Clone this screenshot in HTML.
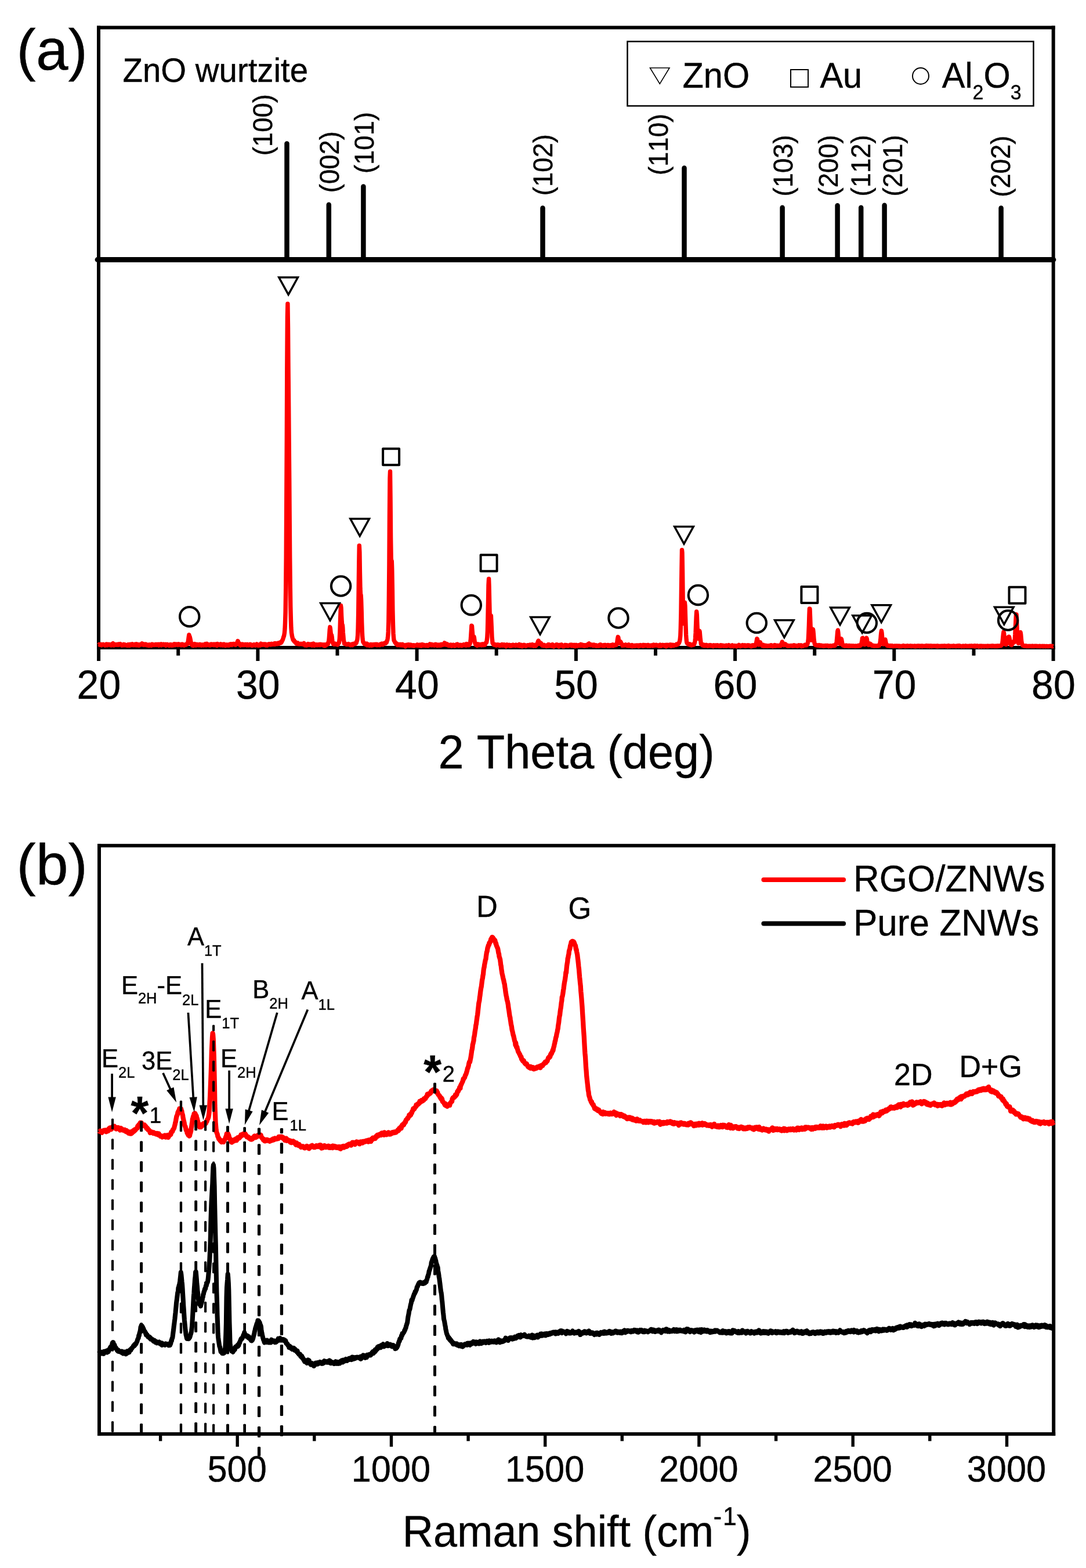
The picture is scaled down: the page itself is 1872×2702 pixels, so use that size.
<!DOCTYPE html>
<html lang="en"><head><meta charset="utf-8"><title>XRD pattern and Raman spectra of RGO/ZNWs</title>
<style>html,body{margin:0;padding:0;background:#fff}body{width:1872px;height:2702px;overflow:hidden}svg{display:block}text{font-family:'Liberation Sans', sans-serif;fill:#000;stroke:#000;stroke-width:.4px;font-kerning:none;text-rendering:geometricPrecision}</style></head><body>
<svg width="1872" height="2702" viewBox="0 0 1872 2702" role="img" aria-label="XRD pattern (a) and Raman spectra (b)">
<rect width="1872" height="2702" fill="#fff"/>
<g id="panel-a">
<rect x="167.1" y="1116" width="6" height="23" fill="#000"/>
<rect x="304.2" y="1116" width="6" height="13.7" fill="#000"/>
<rect x="441.4" y="1116" width="6" height="23" fill="#000"/>
<rect x="578.5" y="1116" width="6" height="13.7" fill="#000"/>
<rect x="715.6" y="1116" width="6" height="23" fill="#000"/>
<rect x="852.7" y="1116" width="6" height="13.7" fill="#000"/>
<rect x="989.9" y="1116" width="6" height="23" fill="#000"/>
<rect x="1127" y="1116" width="6" height="13.7" fill="#000"/>
<rect x="1264.1" y="1116" width="6" height="23" fill="#000"/>
<rect x="1401.2" y="1116" width="6" height="13.7" fill="#000"/>
<rect x="1538.3" y="1116" width="6" height="23" fill="#000"/>
<rect x="1675.5" y="1116" width="6" height="13.7" fill="#000"/>
<rect x="1812.6" y="1116" width="6" height="23" fill="#000"/>
<rect x="167" y="44.5" width="1651.7" height="6" fill="#000"/>
<rect x="167" y="1113" width="1651.7" height="6" fill="#000"/>
<rect x="167" y="44.5" width="6" height="1074.5" fill="#000"/>
<rect x="1812.7" y="44.5" width="6" height="1074.5" fill="#000"/>
<line x1="168" y1="447.5" x2="1816" y2="447.5" stroke="#000" stroke-width="8.8" stroke-linecap="round"/>
<line x1="494.5" y1="247.4" x2="494.5" y2="447.5" stroke="#000" stroke-width="8.5" stroke-linecap="round"/>
<line x1="566.8" y1="352.7" x2="566.8" y2="447.5" stroke="#000" stroke-width="8.5" stroke-linecap="round"/>
<line x1="626.4" y1="321.4" x2="626.4" y2="447.5" stroke="#000" stroke-width="8.5" stroke-linecap="round"/>
<line x1="935.5" y1="358.5" x2="935.5" y2="447.5" stroke="#000" stroke-width="8.5" stroke-linecap="round"/>
<line x1="1179.5" y1="289.5" x2="1179.5" y2="447.5" stroke="#000" stroke-width="8.5" stroke-linecap="round"/>
<line x1="1348.6" y1="357.7" x2="1348.6" y2="447.5" stroke="#000" stroke-width="8.5" stroke-linecap="round"/>
<line x1="1443.6" y1="354.2" x2="1443.6" y2="447.5" stroke="#000" stroke-width="8.5" stroke-linecap="round"/>
<line x1="1484.2" y1="357.7" x2="1484.2" y2="447.5" stroke="#000" stroke-width="8.5" stroke-linecap="round"/>
<line x1="1524.6" y1="353.7" x2="1524.6" y2="447.5" stroke="#000" stroke-width="8.5" stroke-linecap="round"/>
<line x1="1725.6" y1="358.5" x2="1725.6" y2="447.5" stroke="#000" stroke-width="8.5" stroke-linecap="round"/>
<text font-size="45.5" transform="translate(469 268.3) rotate(-90) scale(1 1.03)">(100)</text>
<text font-size="45.5" transform="translate(584.2 332.2) rotate(-90) scale(1 1.03)">(002)</text>
<text font-size="45.5" transform="translate(644.4 299.1) rotate(-90) scale(1 1.03)">(101)</text>
<text font-size="45.5" transform="translate(952.1 337.2) rotate(-90) scale(1 1.03)">(102)</text>
<text font-size="45.5" transform="translate(1150.9 302.1) rotate(-90) scale(1 1.03)">(110)</text>
<text font-size="45.5" transform="translate(1365.9 338.5) rotate(-90) scale(1 1.03)">(103)</text>
<text font-size="45.5" transform="translate(1444.4 338.5) rotate(-90) scale(1 1.03)">(200)</text>
<text font-size="45.5" transform="translate(1500 338.5) rotate(-90) scale(1 1.03)">(112)</text>
<text font-size="45.5" transform="translate(1555.1 338.5) rotate(-90) scale(1 1.03)">(201)</text>
<text font-size="45.5" transform="translate(1741.4 339.7) rotate(-90) scale(1 1.03)">(202)</text>
<text transform="translate(211.5 141) scale(1 1.03)" font-size="56.4">ZnO wurtzite</text>
<rect x="1081.5" y="71.5" width="700" height="111" fill="#fff" stroke="#000" stroke-width="2.5"/>
<path d="M1120.5 117 H1154 L1137.3 144.5 Z" fill="none" stroke="#000" stroke-width="1.6"/>
<text transform="translate(1176.5 151) scale(1 1.03)" font-size="59.5">ZnO</text>
<rect x="1363" y="120" width="30" height="30" fill="none" stroke="#000" stroke-width="2"/>
<text transform="translate(1413.4 151) scale(1 1.03)" font-size="59.5">Au</text>
<circle cx="1587" cy="131" r="14" fill="none" stroke="#000" stroke-width="2"/>
<text transform="translate(1623.7 151) scale(1 1.03)" font-size="59.5">Al<tspan font-size="34" dy="19.5">2</tspan><tspan dy="-19.5">O</tspan><tspan font-size="34" dy="19.5">3</tspan></text>
<text transform="translate(170.4 1204) scale(1 1.03)" font-size="68" text-anchor="middle">20</text>
<text transform="translate(444.7 1204) scale(1 1.03)" font-size="68" text-anchor="middle">30</text>
<text transform="translate(718.9 1204) scale(1 1.03)" font-size="68" text-anchor="middle">40</text>
<text transform="translate(993.1 1204) scale(1 1.03)" font-size="68" text-anchor="middle">50</text>
<text transform="translate(1267.4 1204) scale(1 1.03)" font-size="68" text-anchor="middle">60</text>
<text transform="translate(1541.6 1204) scale(1 1.03)" font-size="68" text-anchor="middle">70</text>
<text transform="translate(1815.9 1204) scale(1 1.03)" font-size="68" text-anchor="middle">80</text>
<text transform="translate(993.6 1324) scale(1 1.03)" font-size="79.3" text-anchor="middle">2 Theta (deg)</text>
<text transform="translate(28.6 120) scale(1 0.995)" font-size="100">(a)</text>
<polyline points="170.1,1111.6 170.6,1111.4 171.2,1110.4 171.7,1111.1 172.3,1111.2 172.8,1110.5 173.4,1110.7 173.9,1110.4 174.5,1111.4 175.0,1111.8 175.6,1111.2 176.1,1111.3 176.7,1111.0 177.2,1110.5 177.8,1110.3 178.3,1110.5 178.9,1110.9 179.4,1110.9 180.0,1111.6 180.5,1111.5 181.1,1112.1 181.6,1111.8 182.2,1111.2 182.7,1111.3 183.3,1110.0 183.8,1111.6 184.4,1110.1 184.9,1110.2 185.5,1111.7 186.0,1110.2 186.6,1110.5 187.1,1110.8 187.7,1110.3 188.2,1110.5 188.7,1110.5 189.3,1110.9 189.8,1110.8 190.4,1111.7 190.9,1111.3 191.5,1111.8 192.0,1112.0 192.6,1110.1 193.1,1110.7 193.7,1110.6 194.2,1109.2 194.8,1108.7 195.3,1111.2 195.9,1111.0 196.4,1112.0 197.0,1111.5 197.5,1111.5 198.1,1111.2 198.6,1111.3 199.2,1110.5 199.7,1110.6 200.3,1111.2 200.8,1110.6 201.4,1111.2 201.9,1111.1 202.5,1110.8 203.0,1110.3 203.6,1111.3 204.1,1110.4 204.7,1111.2 205.2,1110.0 205.8,1110.8 206.3,1110.6 206.8,1110.0 207.4,1109.6 207.9,1110.8 208.5,1111.2 209.0,1111.0 209.6,1111.1 210.1,1112.2 210.7,1111.6 211.2,1111.2 211.8,1111.8 212.3,1111.1 212.9,1110.5 213.4,1111.4 214.0,1110.8 214.5,1111.7 215.1,1110.7 215.6,1111.1 216.2,1111.6 216.7,1111.2 217.3,1111.5 217.8,1111.8 218.4,1112.2 218.9,1111.8 219.5,1111.8 220.0,1111.2 220.6,1112.3 221.1,1110.6 221.7,1111.6 222.2,1110.8 222.8,1111.9 223.3,1112.3 223.9,1110.5 224.4,1112.0 224.9,1110.3 225.5,1110.4 226.0,1111.1 226.6,1110.3 227.1,1111.6 227.7,1111.5 228.2,1109.8 228.8,1110.7 229.3,1111.1 229.9,1111.6 230.4,1110.6 231.0,1110.9 231.5,1111.7 232.1,1110.6 232.6,1111.2 233.2,1110.1 233.7,1111.5 234.3,1111.8 234.8,1110.4 235.4,1109.8 235.9,1110.1 236.5,1111.7 237.0,1110.8 237.6,1111.8 238.1,1110.5 238.7,1110.8 239.2,1111.4 239.8,1112.1 240.3,1111.3 240.9,1110.6 241.4,1111.2 242.0,1110.9 242.5,1111.1 243.1,1110.5 243.6,1110.1 244.1,1110.4 244.7,1108.8 245.2,1110.5 245.8,1111.1 246.3,1110.9 246.9,1110.2 247.4,1109.9 248.0,1111.5 248.5,1110.2 249.1,1110.3 249.6,1110.7 250.2,1110.2 250.7,1110.6 251.3,1111.4 251.8,1110.2 252.4,1111.6 252.9,1110.9 253.5,1111.1 254.0,1111.9 254.6,1112.1 255.1,1112.2 255.7,1111.8 256.2,1111.1 256.8,1112.5 257.3,1111.4 257.9,1110.9 258.4,1111.9 259.0,1111.7 259.5,1111.3 260.1,1111.3 260.6,1111.6 261.2,1112.3 261.7,1110.9 262.2,1110.0 262.8,1110.3 263.3,1111.1 263.9,1110.8 264.4,1110.7 265.0,1111.6 265.5,1111.6 266.1,1111.1 266.6,1111.4 267.2,1110.8 267.7,1110.7 268.3,1110.9 268.8,1110.4 269.4,1111.5 269.9,1111.3 270.5,1111.0 271.0,1111.0 271.6,1110.8 272.1,1110.3 272.7,1110.6 273.2,1110.7 273.8,1112.1 274.3,1110.3 274.9,1111.1 275.4,1111.5 276.0,1110.2 276.5,1110.3 277.1,1110.3 277.6,1110.0 278.2,1111.9 278.7,1111.0 279.3,1110.4 279.8,1110.5 280.3,1110.8 280.9,1110.4 281.4,1110.1 282.0,1111.1 282.5,1110.6 283.1,1111.0 283.6,1111.3 284.2,1110.6 284.7,1110.9 285.3,1110.4 285.8,1112.4 286.4,1110.8 286.9,1111.5 287.5,1110.5 288.0,1110.2 288.6,1110.8 289.1,1110.8 289.7,1110.9 290.2,1111.3 290.8,1112.0 291.3,1112.5 291.9,1112.4 292.4,1111.0 293.0,1112.0 293.5,1111.9 294.1,1110.6 294.6,1110.7 295.2,1111.0 295.7,1112.3 296.3,1111.0 296.8,1111.0 297.4,1112.1 297.9,1111.3 298.4,1111.4 299.0,1111.9 299.5,1111.5 300.1,1109.8 300.6,1110.2 301.2,1111.3 301.7,1109.9 302.3,1111.6 302.8,1111.0 303.4,1111.3 303.9,1111.3 304.5,1110.0 305.0,1110.6 305.6,1110.3 306.1,1110.9 306.7,1111.5 307.2,1110.6 307.8,1110.9 308.3,1109.8 308.9,1110.9 309.4,1111.0 310.0,1111.0 310.5,1111.3 311.1,1111.7 311.6,1111.0 312.2,1111.5 312.7,1110.4 313.3,1111.6 313.8,1111.1 314.4,1110.1 314.9,1111.4 315.5,1110.8 316.0,1111.6 316.5,1111.2 317.1,1111.0 317.6,1112.1 318.2,1111.1 318.7,1111.1 319.3,1111.2 319.8,1111.1 320.4,1110.4 320.9,1111.1 321.5,1110.6 322.0,1109.7 322.6,1108.7 323.1,1109.7 323.7,1108.4 324.2,1105.4 324.8,1101.4 325.3,1097.5 325.9,1094.0 326.4,1095.6 327.0,1097.0 327.5,1098.7 328.1,1101.5 328.6,1104.1 329.2,1107.3 329.7,1110.0 330.3,1110.2 330.8,1111.0 331.4,1112.0 331.9,1112.2 332.5,1111.5 333.0,1111.1 333.6,1112.6 334.1,1110.5 334.6,1109.9 335.2,1109.6 335.7,1111.5 336.3,1110.1 336.8,1111.0 337.4,1111.2 337.9,1112.0 338.5,1110.2 339.0,1110.8 339.6,1110.7 340.1,1111.4 340.7,1110.7 341.2,1111.2 341.8,1111.0 342.3,1111.9 342.9,1111.9 343.4,1111.2 344.0,1111.7 344.5,1110.3 345.1,1111.3 345.6,1110.7 346.2,1110.8 346.7,1111.5 347.3,1112.2 347.8,1111.0 348.4,1110.9 348.9,1110.9 349.5,1111.7 350.0,1111.2 350.6,1111.9 351.1,1112.1 351.7,1111.3 352.2,1110.6 352.8,1111.2 353.3,1110.3 353.8,1109.7 354.4,1111.5 354.9,1112.0 355.5,1111.8 356.0,1111.0 356.6,1109.2 357.1,1110.5 357.7,1111.0 358.2,1110.3 358.8,1111.5 359.3,1110.5 359.9,1111.6 360.4,1111.8 361.0,1112.0 361.5,1111.2 362.1,1112.0 362.6,1112.0 363.2,1111.1 363.7,1110.1 364.3,1110.4 364.8,1110.1 365.4,1110.8 365.9,1111.3 366.5,1111.1 367.0,1111.4 367.6,1111.2 368.1,1111.5 368.7,1110.1 369.2,1111.1 369.8,1111.5 370.3,1110.7 370.9,1111.4 371.4,1110.1 371.9,1110.8 372.5,1110.5 373.0,1111.0 373.6,1111.0 374.1,1112.5 374.7,1109.4 375.2,1110.3 375.8,1110.6 376.3,1111.0 376.9,1110.8 377.4,1111.0 378.0,1110.6 378.5,1110.6 379.1,1110.7 379.6,1111.7 380.2,1109.8 380.7,1111.8 381.3,1110.9 381.8,1110.5 382.4,1111.5 382.9,1111.8 383.5,1110.6 384.0,1110.3 384.6,1112.1 385.1,1110.4 385.7,1111.4 386.2,1111.4 386.8,1110.2 387.3,1111.9 387.9,1112.1 388.4,1112.6 389.0,1111.8 389.5,1111.8 390.0,1111.5 390.6,1111.0 391.1,1112.0 391.7,1111.6 392.2,1112.0 392.8,1111.4 393.3,1112.0 393.9,1110.8 394.4,1111.1 395.0,1112.1 395.5,1111.2 396.1,1110.8 396.6,1111.0 397.2,1110.0 397.7,1111.2 398.3,1111.3 398.8,1110.7 399.4,1109.9 399.9,1111.4 400.5,1110.6 401.0,1109.9 401.6,1110.3 402.1,1109.7 402.7,1109.5 403.2,1109.4 403.8,1110.0 404.3,1110.9 404.9,1111.1 405.4,1110.7 406.0,1111.4 406.5,1111.2 407.1,1110.0 407.6,1109.6 408.1,1109.1 408.7,1107.7 409.2,1106.5 409.8,1104.6 410.3,1104.9 410.9,1108.2 411.4,1107.6 412.0,1109.1 412.5,1109.3 413.1,1109.2 413.6,1111.4 414.2,1111.2 414.7,1112.0 415.3,1111.5 415.8,1110.3 416.4,1110.5 416.9,1111.0 417.5,1110.1 418.0,1110.8 418.6,1111.6 419.1,1110.3 419.7,1111.0 420.2,1111.2 420.8,1111.5 421.3,1110.8 421.9,1110.5 422.4,1111.3 423.0,1110.5 423.5,1111.0 424.1,1111.2 424.6,1111.1 425.2,1111.9 425.7,1112.0 426.2,1110.4 426.8,1111.4 427.3,1111.1 427.9,1111.0 428.4,1111.2 429.0,1111.8 429.5,1111.0 430.1,1110.9 430.6,1110.5 431.2,1111.2 431.7,1111.2 432.3,1110.6 432.8,1111.1 433.4,1111.7 433.9,1112.3 434.5,1111.3 435.0,1112.5 435.6,1111.7 436.1,1111.5 436.7,1111.3 437.2,1111.0 437.8,1110.6 438.3,1111.1 438.9,1111.3 439.4,1111.4 440.0,1112.2 440.5,1112.3 441.1,1111.4 441.6,1111.8 442.2,1110.9 442.7,1110.0 443.3,1111.0 443.8,1111.3 444.3,1112.0 444.9,1112.5 445.4,1111.1 446.0,1111.7 446.5,1111.6 447.1,1111.0 447.6,1111.5 448.2,1111.4 448.7,1112.2 449.3,1110.4 449.8,1109.2 450.4,1110.4 450.9,1110.8 451.5,1111.1 452.0,1110.4 452.6,1111.1 453.1,1110.1 453.7,1110.8 454.2,1109.9 454.8,1109.9 455.3,1111.3 455.9,1110.1 456.4,1110.1 457.0,1111.5 457.5,1111.3 458.1,1110.0 458.6,1112.1 459.2,1110.5 459.7,1110.8 460.3,1111.0 460.8,1112.2 461.4,1110.7 461.9,1111.1 462.5,1110.3 463.0,1110.8 463.5,1109.8 464.1,1110.7 464.6,1110.3 465.2,1109.9 465.7,1110.6 466.3,1111.0 466.8,1110.7 467.4,1110.1 467.9,1110.5 468.5,1109.3 469.0,1110.3 469.6,1110.6 470.1,1110.4 470.7,1110.3 471.2,1110.5 471.8,1109.9 472.3,1109.9 472.9,1110.3 473.4,1108.6 474.0,1110.4 474.5,1109.9 475.1,1109.6 475.6,1108.7 476.2,1109.0 476.7,1109.0 477.3,1109.8 477.8,1109.6 478.4,1109.8 478.9,1109.2 479.5,1108.1 480.0,1108.7 480.6,1108.9 481.1,1109.1 481.6,1107.6 482.2,1108.0 482.7,1107.8 483.3,1107.0 483.8,1106.8 484.4,1107.8 484.9,1105.8 485.5,1106.4 486.0,1104.8 486.6,1103.4 487.1,1103.1 487.7,1101.2 488.2,1100.0 488.8,1097.2 489.3,1096.9 489.9,1093.7 490.4,1090.8 491.0,1084.2 491.5,1073.7 492.1,1054.6 492.6,1020.6 493.2,961.3 493.7,872.0 494.3,758.6 494.8,635.9 495.4,545.8 495.9,523.5 496.5,563.8 497.0,629.9 497.6,693.9 498.1,755.7 498.7,823.5 499.2,895.0 499.7,959.3 500.3,1009.7 500.8,1045.4 501.4,1067.9 501.9,1081.8 502.5,1090.2 503.0,1093.5 503.6,1096.8 504.1,1098.7 504.7,1100.9 505.2,1102.8 505.8,1103.0 506.3,1104.1 506.9,1103.3 507.4,1105.2 508.0,1106.1 508.5,1106.0 509.1,1106.0 509.6,1107.6 510.2,1107.7 510.7,1109.1 511.3,1107.9 511.8,1108.3 512.4,1108.3 512.9,1108.8 513.5,1107.8 514.0,1109.8 514.6,1109.6 515.1,1109.3 515.7,1109.4 516.2,1110.1 516.8,1110.1 517.3,1109.7 517.8,1109.7 518.4,1109.8 518.9,1109.3 519.5,1109.5 520.0,1109.8 520.6,1110.1 521.1,1109.7 521.7,1109.8 522.2,1110.4 522.8,1110.6 523.3,1110.3 523.9,1108.4 524.4,1109.8 525.0,1111.0 525.5,1111.8 526.1,1111.5 526.6,1110.8 527.2,1110.7 527.7,1110.8 528.3,1112.1 528.8,1111.4 529.4,1110.7 529.9,1111.7 530.5,1111.5 531.0,1109.6 531.6,1110.1 532.1,1111.0 532.7,1111.2 533.2,1110.2 533.8,1111.0 534.3,1111.4 534.9,1111.0 535.4,1110.2 535.9,1110.6 536.5,1111.0 537.0,1110.8 537.6,1110.0 538.1,1112.2 538.7,1111.1 539.2,1110.1 539.8,1110.6 540.3,1109.0 540.9,1110.3 541.4,1110.8 542.0,1112.3 542.5,1111.1 543.1,1111.2 543.6,1111.5 544.2,1111.2 544.7,1110.6 545.3,1111.5 545.8,1110.9 546.4,1111.7 546.9,1111.8 547.5,1110.7 548.0,1110.9 548.6,1110.8 549.1,1110.8 549.7,1111.3 550.2,1110.8 550.8,1110.4 551.3,1111.7 551.9,1111.6 552.4,1110.9 553.0,1110.3 553.5,1110.7 554.0,1110.8 554.6,1110.8 555.1,1110.7 555.7,1111.4 556.2,1111.5 556.8,1111.7 557.3,1111.0 557.9,1111.8 558.4,1112.7 559.0,1111.5 559.5,1111.0 560.1,1112.9 560.6,1111.7 561.2,1111.3 561.7,1112.1 562.3,1110.7 562.8,1110.5 563.4,1111.0 563.9,1109.9 564.5,1109.2 565.0,1110.0 565.6,1109.3 566.1,1106.7 566.7,1104.6 567.2,1100.3 567.8,1092.2 568.3,1084.7 568.9,1080.6 569.4,1083.4 570.0,1089.1 570.5,1093.1 571.1,1094.8 571.6,1094.3 572.2,1097.8 572.7,1103.0 573.2,1106.7 573.8,1108.0 574.3,1109.5 574.9,1109.4 575.4,1109.5 576.0,1110.4 576.5,1110.2 577.1,1109.8 577.6,1109.2 578.2,1110.0 578.7,1110.2 579.3,1110.4 579.8,1110.6 580.4,1110.4 580.9,1110.7 581.5,1110.5 582.0,1111.0 582.6,1110.3 583.1,1108.9 583.7,1107.7 584.2,1107.8 584.8,1104.7 585.3,1100.6 585.9,1088.6 586.4,1073.2 587.0,1055.9 587.5,1043.4 588.1,1047.6 588.6,1060.7 589.2,1071.2 589.7,1076.5 590.3,1076.7 590.8,1080.9 591.3,1090.0 591.9,1096.7 592.4,1103.1 593.0,1105.8 593.5,1109.0 594.1,1108.5 594.6,1109.0 595.2,1109.5 595.7,1109.7 596.3,1109.6 596.8,1110.5 597.4,1110.4 597.9,1110.7 598.5,1110.1 599.0,1110.1 599.6,1110.3 600.1,1110.3 600.7,1109.7 601.2,1110.2 601.8,1110.2 602.3,1111.2 602.9,1111.2 603.4,1111.3 604.0,1111.6 604.5,1110.5 605.1,1111.5 605.6,1110.7 606.2,1110.3 606.7,1110.8 607.3,1110.0 607.8,1111.6 608.4,1110.6 608.9,1109.4 609.4,1109.3 610.0,1109.5 610.5,1109.4 611.1,1109.9 611.6,1109.9 612.2,1109.6 612.7,1108.9 613.3,1107.7 613.8,1108.4 614.4,1107.7 614.9,1104.9 615.5,1104.1 616.0,1101.4 616.6,1095.1 617.1,1082.6 617.7,1056.1 618.2,1015.4 618.8,968.6 619.3,940.1 619.9,951.5 620.4,985.3 621.0,1013.5 621.5,1023.9 622.1,1025.4 622.6,1033.6 623.2,1052.6 623.7,1072.8 624.3,1088.7 624.8,1098.2 625.4,1103.2 625.9,1106.4 626.5,1106.6 627.0,1108.0 627.5,1107.6 628.1,1109.6 628.6,1109.7 629.2,1110.2 629.7,1110.1 630.3,1110.3 630.8,1109.8 631.4,1110.7 631.9,1111.3 632.5,1109.0 633.0,1111.9 633.6,1110.7 634.1,1111.5 634.7,1110.7 635.2,1111.1 635.8,1111.8 636.3,1111.2 636.9,1112.4 637.4,1111.3 638.0,1111.6 638.5,1110.6 639.1,1110.5 639.6,1110.5 640.2,1111.2 640.7,1112.3 641.3,1111.7 641.8,1111.0 642.4,1111.3 642.9,1110.7 643.5,1111.6 644.0,1111.3 644.6,1110.4 645.1,1110.5 645.6,1111.0 646.2,1110.7 646.7,1110.3 647.3,1111.2 647.8,1111.0 648.4,1110.3 648.9,1110.7 649.5,1111.7 650.0,1110.2 650.6,1111.6 651.1,1111.1 651.7,1111.5 652.2,1111.2 652.8,1111.2 653.3,1111.1 653.9,1111.3 654.4,1111.7 655.0,1111.5 655.5,1110.1 656.1,1110.8 656.6,1111.0 657.2,1110.6 657.7,1110.2 658.3,1109.1 658.8,1110.4 659.4,1110.4 659.9,1110.9 660.5,1109.5 661.0,1109.7 661.6,1109.4 662.1,1109.3 662.7,1108.3 663.2,1108.9 663.7,1108.5 664.3,1108.0 664.8,1108.6 665.4,1106.9 665.9,1106.5 666.5,1106.6 667.0,1104.3 667.6,1103.5 668.1,1100.8 668.7,1096.6 669.2,1088.9 669.8,1072.0 670.3,1035.7 670.9,974.2 671.4,892.9 672.0,824.1 672.5,812.4 673.1,863.4 673.6,926.1 674.2,962.2 674.7,968.9 675.3,966.6 675.8,982.0 676.4,1015.8 676.9,1052.3 677.5,1076.8 678.0,1091.5 678.6,1098.7 679.1,1103.6 679.7,1104.6 680.2,1104.9 680.8,1107.1 681.3,1107.0 681.9,1108.5 682.4,1108.7 682.9,1109.8 683.5,1109.4 684.0,1109.0 684.6,1110.3 685.1,1111.6 685.7,1110.2 686.2,1111.5 686.8,1111.3 687.3,1111.5 687.9,1110.5 688.4,1110.5 689.0,1111.7 689.5,1110.8 690.1,1110.3 690.6,1111.9 691.2,1111.8 691.7,1111.5 692.3,1110.6 692.8,1111.2 693.4,1112.2 693.9,1110.3 694.5,1110.7 695.0,1111.2 695.6,1112.2 696.1,1111.7 696.7,1111.9 697.2,1111.9 697.8,1112.0 698.3,1112.7 698.9,1114.1 699.4,1112.1 700.0,1112.4 700.5,1111.3 701.0,1112.5 701.6,1111.6 702.1,1111.5 702.7,1111.0 703.2,1110.7 703.8,1110.9 704.3,1110.8 704.9,1110.7 705.4,1112.6 706.0,1112.0 706.5,1112.6 707.1,1112.4 707.6,1111.2 708.2,1111.8 708.7,1111.2 709.3,1111.4 709.8,1112.2 710.4,1112.7 710.9,1112.8 711.5,1112.6 712.0,1111.9 712.6,1111.7 713.1,1112.3 713.7,1113.1 714.2,1112.7 714.8,1112.0 715.3,1112.2 715.9,1112.4 716.4,1112.3 717.0,1112.3 717.5,1112.2 718.1,1111.8 718.6,1111.5 719.1,1110.9 719.7,1112.6 720.2,1112.5 720.8,1111.6 721.3,1112.0 721.9,1111.5 722.4,1111.3 723.0,1112.5 723.5,1111.2 724.1,1112.8 724.6,1111.3 725.2,1111.0 725.7,1111.6 726.3,1113.1 726.8,1111.7 727.4,1112.2 727.9,1110.5 728.5,1112.2 729.0,1110.9 729.6,1111.5 730.1,1112.2 730.7,1111.4 731.2,1112.1 731.8,1111.7 732.3,1111.7 732.9,1112.1 733.4,1112.7 734.0,1112.3 734.5,1112.5 735.1,1112.1 735.6,1111.6 736.2,1112.6 736.7,1112.3 737.2,1112.6 737.8,1112.9 738.3,1112.5 738.9,1111.3 739.4,1111.8 740.0,1111.6 740.5,1111.2 741.1,1109.9 741.6,1110.8 742.2,1111.2 742.7,1111.7 743.3,1111.0 743.8,1110.3 744.4,1111.9 744.9,1111.0 745.5,1110.8 746.0,1111.6 746.6,1111.9 747.1,1111.7 747.7,1111.5 748.2,1111.5 748.8,1112.2 749.3,1111.4 749.9,1111.7 750.4,1110.3 751.0,1111.2 751.5,1111.5 752.1,1111.6 752.6,1110.7 753.2,1111.5 753.7,1112.7 754.3,1112.0 754.8,1111.5 755.3,1111.3 755.9,1111.1 756.4,1112.1 757.0,1111.5 757.5,1111.6 758.1,1112.3 758.6,1112.4 759.2,1112.1 759.7,1110.6 760.3,1111.0 760.8,1111.9 761.4,1110.3 761.9,1111.6 762.5,1110.7 763.0,1111.2 763.6,1110.4 764.1,1110.0 764.7,1110.0 765.2,1111.0 765.8,1109.2 766.3,1107.9 766.9,1109.1 767.4,1108.4 768.0,1110.1 768.5,1111.0 769.1,1111.3 769.6,1111.4 770.2,1111.1 770.7,1109.7 771.3,1111.6 771.8,1111.7 772.4,1112.0 772.9,1112.5 773.4,1112.4 774.0,1111.5 774.5,1111.9 775.1,1112.4 775.6,1111.5 776.2,1111.5 776.7,1111.1 777.3,1112.4 777.8,1111.1 778.4,1113.2 778.9,1112.8 779.5,1111.9 780.0,1112.6 780.6,1111.5 781.1,1111.2 781.7,1112.3 782.2,1111.3 782.8,1112.2 783.3,1112.0 783.9,1113.0 784.4,1112.1 785.0,1112.6 785.5,1112.0 786.1,1111.0 786.6,1110.8 787.2,1110.3 787.7,1111.6 788.3,1110.0 788.8,1111.4 789.4,1110.7 789.9,1111.9 790.5,1112.7 791.0,1111.6 791.6,1111.5 792.1,1111.6 792.6,1112.2 793.2,1111.3 793.7,1112.2 794.3,1112.0 794.8,1111.4 795.4,1111.5 795.9,1112.8 796.5,1112.5 797.0,1112.3 797.6,1111.7 798.1,1111.9 798.7,1111.2 799.2,1110.7 799.8,1111.4 800.3,1111.3 800.9,1111.0 801.4,1111.0 802.0,1111.9 802.5,1111.4 803.1,1110.5 803.6,1112.2 804.2,1109.6 804.7,1110.7 805.3,1110.0 805.8,1111.2 806.4,1111.1 806.9,1111.7 807.5,1111.0 808.0,1110.4 808.6,1111.6 809.1,1110.5 809.7,1109.9 810.2,1108.8 810.7,1106.1 811.3,1102.1 811.8,1095.4 812.4,1085.9 812.9,1078.1 813.5,1078.5 814.0,1085.4 814.6,1092.4 815.1,1098.5 815.7,1098.7 816.2,1096.1 816.8,1096.9 817.3,1098.3 817.9,1103.0 818.4,1106.9 819.0,1108.6 819.5,1110.0 820.1,1111.2 820.6,1109.8 821.2,1109.6 821.7,1110.8 822.3,1110.8 822.8,1112.4 823.4,1111.8 823.9,1111.6 824.5,1111.2 825.0,1110.1 825.6,1110.4 826.1,1111.2 826.7,1111.7 827.2,1111.4 827.8,1111.5 828.3,1111.6 828.8,1110.6 829.4,1110.8 829.9,1110.6 830.5,1111.9 831.0,1110.0 831.6,1111.5 832.1,1111.6 832.7,1109.9 833.2,1110.7 833.8,1111.5 834.3,1110.2 834.9,1110.4 835.4,1110.6 836.0,1111.1 836.5,1110.0 837.1,1108.5 837.6,1107.4 838.2,1106.6 838.7,1106.7 839.3,1102.9 839.8,1098.2 840.4,1087.1 840.9,1065.2 841.5,1036.6 842.0,1008.1 842.6,997.4 843.1,1011.1 843.7,1039.0 844.2,1060.4 844.8,1069.0 845.3,1065.2 845.9,1060.4 846.4,1060.8 846.9,1071.9 847.5,1085.0 848.0,1097.6 848.6,1103.3 849.1,1108.3 849.7,1108.5 850.2,1109.5 850.8,1110.9 851.3,1110.0 851.9,1110.6 852.4,1111.3 853.0,1110.6 853.5,1110.5 854.1,1110.9 854.6,1111.9 855.2,1111.8 855.7,1112.4 856.3,1111.4 856.8,1111.3 857.4,1110.9 857.9,1111.3 858.5,1111.1 859.0,1111.4 859.6,1110.9 860.1,1111.1 860.7,1111.5 861.2,1112.6 861.8,1112.0 862.3,1111.8 862.9,1112.6 863.4,1112.6 864.0,1111.6 864.5,1111.5 865.0,1110.5 865.6,1110.5 866.1,1111.4 866.7,1112.3 867.2,1112.5 867.8,1111.9 868.3,1111.2 868.9,1111.9 869.4,1110.9 870.0,1111.8 870.5,1111.3 871.1,1112.2 871.6,1113.2 872.2,1113.8 872.7,1112.6 873.3,1112.4 873.8,1110.8 874.4,1111.0 874.9,1112.1 875.5,1112.0 876.0,1112.0 876.6,1111.8 877.1,1112.4 877.7,1111.2 878.2,1111.2 878.8,1113.3 879.3,1111.5 879.9,1112.7 880.4,1112.3 881.0,1113.2 881.5,1111.8 882.1,1111.7 882.6,1111.7 883.1,1112.4 883.7,1111.3 884.2,1111.0 884.8,1111.8 885.3,1111.6 885.9,1112.2 886.4,1111.8 887.0,1111.7 887.5,1112.3 888.1,1112.3 888.6,1112.7 889.2,1112.2 889.7,1111.2 890.3,1112.2 890.8,1112.1 891.4,1111.9 891.9,1112.2 892.5,1111.7 893.0,1112.5 893.6,1111.6 894.1,1112.7 894.7,1111.2 895.2,1110.4 895.8,1111.1 896.3,1113.3 896.9,1111.5 897.4,1111.7 898.0,1111.9 898.5,1111.5 899.1,1112.2 899.6,1112.5 900.2,1113.9 900.7,1113.3 901.3,1112.5 901.8,1112.7 902.3,1112.5 902.9,1111.3 903.4,1112.4 904.0,1111.3 904.5,1112.4 905.1,1112.3 905.6,1113.0 906.2,1113.4 906.7,1113.0 907.3,1112.4 907.8,1112.4 908.4,1112.6 908.9,1111.8 909.5,1111.7 910.0,1111.8 910.6,1111.6 911.1,1112.0 911.7,1111.6 912.2,1112.1 912.8,1111.8 913.3,1111.2 913.9,1112.4 914.4,1112.3 915.0,1111.3 915.5,1112.2 916.1,1112.0 916.6,1111.2 917.2,1112.5 917.7,1110.5 918.3,1111.7 918.8,1112.3 919.4,1111.4 919.9,1113.1 920.4,1111.7 921.0,1112.6 921.5,1111.6 922.1,1112.1 922.6,1111.6 923.2,1113.0 923.7,1111.8 924.3,1112.1 924.8,1111.6 925.4,1110.8 925.9,1109.6 926.5,1108.5 927.0,1106.7 927.6,1104.8 928.1,1104.1 928.7,1105.0 929.2,1107.4 929.8,1108.0 930.3,1109.5 930.9,1108.4 931.4,1108.7 932.0,1108.6 932.5,1108.2 933.1,1109.2 933.6,1111.4 934.2,1111.9 934.7,1112.5 935.3,1112.4 935.8,1111.9 936.4,1112.0 936.9,1112.0 937.5,1112.8 938.0,1111.3 938.5,1112.0 939.1,1112.6 939.6,1112.6 940.2,1112.5 940.7,1112.6 941.3,1113.4 941.8,1112.8 942.4,1112.1 942.9,1113.3 943.5,1112.5 944.0,1112.8 944.6,1111.5 945.1,1110.7 945.7,1112.2 946.2,1112.8 946.8,1110.7 947.3,1111.9 947.9,1112.8 948.4,1112.7 949.0,1112.7 949.5,1112.6 950.1,1112.1 950.6,1113.2 951.2,1113.0 951.7,1112.4 952.3,1110.6 952.8,1112.9 953.4,1112.3 953.9,1113.1 954.5,1114.2 955.0,1113.6 955.6,1112.4 956.1,1112.8 956.6,1112.7 957.2,1112.3 957.7,1112.7 958.3,1111.2 958.8,1110.8 959.4,1111.5 959.9,1112.1 960.5,1110.9 961.0,1112.5 961.6,1112.2 962.1,1113.3 962.7,1112.2 963.2,1114.2 963.8,1112.8 964.3,1112.3 964.9,1112.6 965.4,1111.4 966.0,1112.5 966.5,1112.0 967.1,1112.4 967.6,1112.0 968.2,1110.9 968.7,1111.3 969.3,1112.6 969.8,1112.5 970.4,1113.8 970.9,1112.7 971.5,1113.3 972.0,1112.8 972.6,1113.6 973.1,1112.6 973.7,1112.4 974.2,1111.5 974.7,1112.3 975.3,1112.6 975.8,1112.3 976.4,1112.7 976.9,1111.6 977.5,1112.0 978.0,1112.4 978.6,1112.2 979.1,1113.1 979.7,1112.9 980.2,1112.2 980.8,1112.0 981.3,1112.2 981.9,1111.6 982.4,1111.6 983.0,1111.2 983.5,1112.3 984.1,1112.1 984.6,1112.3 985.2,1112.8 985.7,1111.1 986.3,1112.5 986.8,1112.3 987.4,1112.7 987.9,1112.6 988.5,1112.6 989.0,1113.1 989.6,1111.3 990.1,1111.8 990.7,1113.2 991.2,1113.5 991.8,1112.3 992.3,1113.2 992.8,1112.7 993.4,1111.3 993.9,1111.6 994.5,1112.2 995.0,1112.0 995.6,1113.0 996.1,1112.3 996.7,1112.5 997.2,1111.8 997.8,1111.6 998.3,1111.9 998.9,1112.9 999.4,1112.9 1000.0,1111.3 1000.5,1111.6 1001.1,1110.4 1001.6,1112.5 1002.2,1111.1 1002.7,1112.3 1003.3,1112.5 1003.8,1111.0 1004.4,1111.3 1004.9,1112.3 1005.5,1112.8 1006.0,1111.9 1006.6,1111.7 1007.1,1112.5 1007.7,1113.1 1008.2,1111.7 1008.8,1111.7 1009.3,1112.7 1009.9,1112.2 1010.4,1111.7 1011.0,1112.1 1011.5,1112.4 1012.0,1112.6 1012.6,1112.1 1013.1,1111.5 1013.7,1109.8 1014.2,1110.1 1014.8,1109.3 1015.3,1108.9 1015.9,1109.5 1016.4,1110.5 1017.0,1111.7 1017.5,1111.3 1018.1,1110.8 1018.6,1111.7 1019.2,1110.9 1019.7,1111.0 1020.3,1111.5 1020.8,1111.3 1021.4,1111.7 1021.9,1111.3 1022.5,1112.6 1023.0,1111.0 1023.6,1112.4 1024.1,1111.0 1024.7,1111.4 1025.2,1111.7 1025.8,1112.6 1026.3,1112.4 1026.9,1112.2 1027.4,1111.9 1028.0,1113.2 1028.5,1112.7 1029.1,1113.0 1029.6,1112.7 1030.1,1112.5 1030.7,1112.9 1031.2,1112.6 1031.8,1113.0 1032.3,1112.6 1032.9,1111.7 1033.4,1112.9 1034.0,1112.5 1034.5,1112.3 1035.1,1110.8 1035.6,1111.9 1036.2,1112.2 1036.7,1111.5 1037.3,1112.0 1037.8,1112.5 1038.4,1112.7 1038.9,1112.5 1039.5,1113.1 1040.0,1112.9 1040.6,1112.5 1041.1,1111.6 1041.7,1111.9 1042.2,1112.9 1042.8,1112.3 1043.3,1111.4 1043.9,1112.0 1044.4,1111.9 1045.0,1112.1 1045.5,1112.1 1046.1,1112.2 1046.6,1111.8 1047.2,1111.5 1047.7,1112.1 1048.2,1113.2 1048.8,1111.7 1049.3,1112.9 1049.9,1111.8 1050.4,1112.1 1051.0,1113.1 1051.5,1112.6 1052.1,1112.7 1052.6,1111.9 1053.2,1112.4 1053.7,1112.7 1054.3,1111.5 1054.8,1112.4 1055.4,1112.0 1055.9,1112.2 1056.5,1110.9 1057.0,1112.9 1057.6,1112.1 1058.1,1112.4 1058.7,1111.9 1059.2,1111.3 1059.8,1111.2 1060.3,1111.1 1060.9,1111.5 1061.4,1111.7 1062.0,1111.1 1062.5,1111.3 1063.1,1109.9 1063.6,1108.3 1064.2,1103.6 1064.7,1100.4 1065.3,1097.6 1065.8,1098.3 1066.3,1101.6 1066.9,1105.3 1067.4,1107.5 1068.0,1108.6 1068.5,1107.8 1069.1,1106.8 1069.6,1105.6 1070.2,1106.8 1070.7,1107.9 1071.3,1109.7 1071.8,1110.0 1072.4,1110.8 1072.9,1112.5 1073.5,1112.0 1074.0,1111.0 1074.6,1112.4 1075.1,1112.4 1075.7,1112.1 1076.2,1112.1 1076.8,1111.6 1077.3,1111.6 1077.9,1111.3 1078.4,1110.9 1079.0,1111.3 1079.5,1111.3 1080.1,1112.4 1080.6,1112.7 1081.2,1112.1 1081.7,1111.8 1082.3,1112.1 1082.8,1111.7 1083.4,1112.9 1083.9,1110.8 1084.4,1111.2 1085.0,1111.9 1085.5,1112.7 1086.1,1112.9 1086.6,1112.2 1087.2,1112.3 1087.7,1112.1 1088.3,1112.5 1088.8,1113.5 1089.4,1111.6 1089.9,1113.8 1090.5,1113.2 1091.0,1112.4 1091.6,1112.7 1092.1,1112.4 1092.7,1112.7 1093.2,1112.9 1093.8,1113.3 1094.3,1112.4 1094.9,1113.0 1095.4,1112.2 1096.0,1112.2 1096.5,1112.8 1097.1,1112.2 1097.6,1112.7 1098.2,1112.8 1098.7,1112.7 1099.3,1112.1 1099.8,1112.9 1100.4,1112.6 1100.9,1113.6 1101.5,1112.0 1102.0,1113.0 1102.5,1112.3 1103.1,1112.1 1103.6,1112.9 1104.2,1111.7 1104.7,1112.2 1105.3,1112.1 1105.8,1111.9 1106.4,1112.4 1106.9,1112.2 1107.5,1112.2 1108.0,1113.1 1108.6,1112.4 1109.1,1111.3 1109.7,1113.1 1110.2,1112.2 1110.8,1112.3 1111.3,1112.6 1111.9,1111.6 1112.4,1112.3 1113.0,1112.1 1113.5,1111.9 1114.1,1111.8 1114.6,1112.1 1115.2,1112.8 1115.7,1112.8 1116.3,1112.6 1116.8,1113.1 1117.4,1111.4 1117.9,1112.5 1118.5,1112.7 1119.0,1112.6 1119.6,1113.0 1120.1,1112.3 1120.7,1113.0 1121.2,1112.3 1121.7,1112.6 1122.3,1112.2 1122.8,1112.0 1123.4,1112.5 1123.9,1112.6 1124.5,1112.0 1125.0,1112.9 1125.6,1112.4 1126.1,1112.5 1126.7,1111.1 1127.2,1112.3 1127.8,1111.3 1128.3,1112.5 1128.9,1111.7 1129.4,1111.8 1130.0,1112.0 1130.5,1111.4 1131.1,1112.0 1131.6,1111.4 1132.2,1111.9 1132.7,1112.4 1133.3,1112.6 1133.8,1112.7 1134.4,1112.1 1134.9,1112.0 1135.5,1112.8 1136.0,1113.3 1136.6,1112.0 1137.1,1112.9 1137.7,1112.2 1138.2,1111.1 1138.8,1112.5 1139.3,1113.3 1139.8,1112.8 1140.4,1112.9 1140.9,1112.5 1141.5,1111.5 1142.0,1111.2 1142.6,1111.9 1143.1,1112.1 1143.7,1111.6 1144.2,1111.6 1144.8,1112.4 1145.3,1112.8 1145.9,1111.5 1146.4,1111.9 1147.0,1112.3 1147.5,1112.3 1148.1,1111.4 1148.6,1113.9 1149.2,1112.9 1149.7,1112.6 1150.3,1111.4 1150.8,1112.3 1151.4,1111.5 1151.9,1112.3 1152.5,1112.2 1153.0,1112.2 1153.6,1112.5 1154.1,1112.0 1154.7,1112.2 1155.2,1110.8 1155.8,1112.1 1156.3,1111.8 1156.9,1113.3 1157.4,1112.4 1157.9,1111.2 1158.5,1112.8 1159.0,1111.6 1159.6,1111.3 1160.1,1111.8 1160.7,1112.4 1161.2,1112.6 1161.8,1111.5 1162.3,1111.8 1162.9,1111.9 1163.4,1111.6 1164.0,1111.5 1164.5,1111.4 1165.1,1111.1 1165.6,1111.4 1166.2,1110.0 1166.7,1111.0 1167.3,1110.7 1167.8,1110.8 1168.4,1109.7 1168.9,1109.5 1169.5,1109.4 1170.0,1108.6 1170.6,1107.7 1171.1,1106.4 1171.7,1104.5 1172.2,1101.3 1172.8,1095.3 1173.3,1082.2 1173.9,1057.7 1174.4,1020.1 1175.0,977.9 1175.5,947.6 1176.0,952.4 1176.6,987.2 1177.1,1029.4 1177.7,1059.8 1178.2,1074.5 1178.8,1074.0 1179.3,1062.5 1179.9,1047.7 1180.4,1038.1 1181.0,1044.4 1181.5,1061.7 1182.1,1079.7 1182.6,1093.7 1183.2,1102.2 1183.7,1106.6 1184.3,1108.3 1184.8,1108.7 1185.4,1109.4 1185.9,1109.6 1186.5,1110.4 1187.0,1109.7 1187.6,1109.6 1188.1,1109.7 1188.7,1110.9 1189.2,1110.6 1189.8,1110.1 1190.3,1111.7 1190.9,1111.6 1191.4,1111.8 1192.0,1112.0 1192.5,1111.7 1193.1,1111.5 1193.6,1111.3 1194.1,1110.9 1194.7,1110.3 1195.2,1110.3 1195.8,1111.1 1196.3,1110.8 1196.9,1109.5 1197.4,1107.7 1198.0,1105.6 1198.5,1100.0 1199.1,1090.5 1199.6,1076.7 1200.2,1061.9 1200.7,1054.0 1201.3,1059.1 1201.8,1072.9 1202.4,1087.0 1202.9,1096.0 1203.5,1100.5 1204.0,1099.2 1204.6,1094.8 1205.1,1089.5 1205.7,1087.0 1206.2,1088.7 1206.8,1096.0 1207.3,1101.3 1207.9,1105.5 1208.4,1109.6 1209.0,1109.5 1209.5,1110.6 1210.1,1110.7 1210.6,1111.9 1211.2,1110.4 1211.7,1111.8 1212.2,1111.1 1212.8,1112.5 1213.3,1112.8 1213.9,1112.2 1214.4,1111.4 1215.0,1112.2 1215.5,1112.6 1216.1,1111.8 1216.6,1111.5 1217.2,1112.3 1217.7,1111.3 1218.3,1111.9 1218.8,1112.3 1219.4,1112.6 1219.9,1113.2 1220.5,1112.7 1221.0,1112.2 1221.6,1111.9 1222.1,1112.4 1222.7,1112.6 1223.2,1112.8 1223.8,1112.5 1224.3,1111.5 1224.9,1112.3 1225.4,1111.9 1226.0,1112.9 1226.5,1112.4 1227.1,1112.4 1227.6,1112.3 1228.2,1112.9 1228.7,1112.4 1229.3,1113.6 1229.8,1112.8 1230.4,1111.8 1230.9,1112.2 1231.4,1112.8 1232.0,1112.8 1232.5,1112.7 1233.1,1112.5 1233.6,1111.9 1234.2,1112.0 1234.7,1112.9 1235.3,1112.2 1235.8,1112.4 1236.4,1112.7 1236.9,1111.8 1237.5,1111.9 1238.0,1113.0 1238.6,1112.6 1239.1,1112.6 1239.7,1113.1 1240.2,1112.5 1240.8,1112.5 1241.3,1112.7 1241.9,1111.9 1242.4,1113.3 1243.0,1112.7 1243.5,1112.2 1244.1,1112.9 1244.6,1112.1 1245.2,1112.3 1245.7,1112.3 1246.3,1112.9 1246.8,1112.7 1247.4,1113.1 1247.9,1112.5 1248.5,1112.7 1249.0,1112.7 1249.5,1112.8 1250.1,1113.0 1250.6,1112.9 1251.2,1112.5 1251.7,1112.2 1252.3,1113.2 1252.8,1112.5 1253.4,1113.0 1253.9,1112.5 1254.5,1112.3 1255.0,1112.1 1255.6,1112.3 1256.1,1111.7 1256.7,1112.2 1257.2,1112.7 1257.8,1112.8 1258.3,1113.1 1258.9,1112.7 1259.4,1112.8 1260.0,1113.6 1260.5,1112.9 1261.1,1112.6 1261.6,1112.7 1262.2,1111.9 1262.7,1112.3 1263.3,1112.8 1263.8,1112.8 1264.4,1113.7 1264.9,1113.3 1265.5,1113.3 1266.0,1112.5 1266.6,1112.7 1267.1,1112.7 1267.6,1112.9 1268.2,1112.9 1268.7,1112.8 1269.3,1113.1 1269.8,1113.9 1270.4,1113.1 1270.9,1112.7 1271.5,1113.1 1272.0,1112.9 1272.6,1112.2 1273.1,1112.5 1273.7,1111.3 1274.2,1112.3 1274.8,1112.2 1275.3,1113.4 1275.9,1112.9 1276.4,1113.6 1277.0,1112.8 1277.5,1112.5 1278.1,1112.3 1278.6,1111.9 1279.2,1112.1 1279.7,1112.7 1280.3,1111.7 1280.8,1112.4 1281.4,1112.8 1281.9,1112.5 1282.5,1112.7 1283.0,1112.8 1283.6,1112.9 1284.1,1111.9 1284.7,1113.3 1285.2,1112.8 1285.7,1112.5 1286.3,1112.6 1286.8,1112.7 1287.4,1113.0 1287.9,1112.1 1288.5,1111.9 1289.0,1111.8 1289.6,1112.7 1290.1,1112.1 1290.7,1112.5 1291.2,1112.0 1291.8,1112.5 1292.3,1112.4 1292.9,1112.4 1293.4,1113.2 1294.0,1112.9 1294.5,1112.6 1295.1,1113.8 1295.6,1112.4 1296.2,1112.1 1296.7,1111.9 1297.3,1113.1 1297.8,1112.5 1298.4,1112.4 1298.9,1112.4 1299.5,1111.9 1300.0,1112.2 1300.6,1112.7 1301.1,1112.3 1301.7,1112.6 1302.2,1112.1 1302.8,1111.1 1303.3,1109.7 1303.8,1106.6 1304.4,1103.5 1304.9,1100.7 1305.5,1101.5 1306.0,1104.2 1306.6,1107.4 1307.1,1109.9 1307.7,1111.0 1308.2,1111.0 1308.8,1110.5 1309.3,1109.4 1309.9,1108.4 1310.4,1106.8 1311.0,1108.2 1311.5,1109.6 1312.1,1110.7 1312.6,1111.2 1313.2,1111.8 1313.7,1112.4 1314.3,1113.0 1314.8,1112.6 1315.4,1111.8 1315.9,1111.3 1316.5,1112.5 1317.0,1113.3 1317.6,1112.0 1318.1,1112.5 1318.7,1112.9 1319.2,1113.0 1319.8,1113.2 1320.3,1112.3 1320.9,1112.9 1321.4,1112.7 1321.9,1113.3 1322.5,1113.1 1323.0,1113.4 1323.6,1112.6 1324.1,1112.7 1324.7,1112.9 1325.2,1113.0 1325.8,1112.8 1326.3,1112.6 1326.9,1112.9 1327.4,1112.4 1328.0,1113.1 1328.5,1112.3 1329.1,1111.9 1329.6,1112.5 1330.2,1112.1 1330.7,1113.0 1331.3,1112.8 1331.8,1113.7 1332.4,1113.3 1332.9,1112.8 1333.5,1113.3 1334.0,1112.9 1334.6,1113.0 1335.1,1111.6 1335.7,1112.6 1336.2,1112.5 1336.8,1113.1 1337.3,1112.2 1337.9,1112.7 1338.4,1112.5 1339.0,1112.2 1339.5,1112.4 1340.1,1112.8 1340.6,1112.5 1341.1,1112.6 1341.7,1112.7 1342.2,1112.8 1342.8,1112.8 1343.3,1112.7 1343.9,1112.2 1344.4,1112.7 1345.0,1112.6 1345.5,1112.8 1346.1,1111.2 1346.6,1111.1 1347.2,1109.0 1347.7,1108.2 1348.3,1106.1 1348.8,1107.2 1349.4,1107.9 1349.9,1109.6 1350.5,1110.9 1351.0,1111.8 1351.6,1111.5 1352.1,1111.6 1352.7,1110.7 1353.2,1110.9 1353.8,1109.8 1354.3,1111.0 1354.9,1111.6 1355.4,1111.4 1356.0,1112.4 1356.5,1112.4 1357.1,1113.1 1357.6,1112.7 1358.2,1113.2 1358.7,1112.5 1359.2,1112.6 1359.8,1112.6 1360.3,1113.0 1360.9,1113.0 1361.4,1112.7 1362.0,1112.6 1362.5,1112.8 1363.1,1112.6 1363.6,1112.5 1364.2,1112.5 1364.7,1112.7 1365.3,1112.8 1365.8,1113.2 1366.4,1113.0 1366.9,1112.3 1367.5,1112.7 1368.0,1112.2 1368.6,1112.8 1369.1,1111.9 1369.7,1112.7 1370.2,1112.3 1370.8,1112.5 1371.3,1112.5 1371.9,1112.4 1372.4,1112.9 1373.0,1112.9 1373.5,1113.1 1374.1,1113.1 1374.6,1113.4 1375.2,1113.0 1375.7,1112.3 1376.3,1112.7 1376.8,1111.9 1377.3,1112.1 1377.9,1112.3 1378.4,1112.0 1379.0,1112.1 1379.5,1112.5 1380.1,1111.9 1380.6,1111.9 1381.2,1112.0 1381.7,1113.6 1382.3,1112.7 1382.8,1112.9 1383.4,1113.0 1383.9,1113.3 1384.5,1112.7 1385.0,1112.6 1385.6,1112.7 1386.1,1112.3 1386.7,1111.8 1387.2,1111.3 1387.8,1111.7 1388.3,1111.4 1388.9,1111.9 1389.4,1111.3 1390.0,1111.3 1390.5,1111.7 1391.1,1110.4 1391.6,1110.5 1392.2,1108.7 1392.7,1106.1 1393.3,1101.4 1393.8,1091.9 1394.4,1077.2 1394.9,1060.9 1395.4,1048.9 1396.0,1049.1 1396.5,1061.8 1397.1,1078.1 1397.6,1091.9 1398.2,1100.3 1398.7,1103.2 1399.3,1102.3 1399.8,1098.2 1400.4,1091.2 1400.9,1085.9 1401.5,1084.4 1402.0,1088.3 1402.6,1095.2 1403.1,1102.4 1403.7,1106.5 1404.2,1109.3 1404.8,1110.6 1405.3,1111.4 1405.9,1111.7 1406.4,1111.9 1407.0,1111.6 1407.5,1111.7 1408.1,1112.1 1408.6,1112.2 1409.2,1112.0 1409.7,1112.3 1410.3,1112.1 1410.8,1112.4 1411.4,1112.3 1411.9,1111.6 1412.5,1112.5 1413.0,1112.8 1413.5,1112.5 1414.1,1112.5 1414.6,1112.1 1415.2,1112.6 1415.7,1112.2 1416.3,1112.1 1416.8,1112.9 1417.4,1113.1 1417.9,1112.7 1418.5,1112.8 1419.0,1112.7 1419.6,1113.4 1420.1,1113.0 1420.7,1112.8 1421.2,1112.8 1421.8,1112.9 1422.3,1113.1 1422.9,1112.5 1423.4,1112.4 1424.0,1112.9 1424.5,1112.8 1425.1,1112.4 1425.6,1112.7 1426.2,1112.5 1426.7,1112.4 1427.3,1112.7 1427.8,1112.9 1428.4,1113.6 1428.9,1113.3 1429.5,1113.4 1430.0,1112.9 1430.6,1113.0 1431.1,1112.7 1431.6,1112.6 1432.2,1113.1 1432.7,1113.5 1433.3,1113.0 1433.8,1112.9 1434.4,1112.8 1434.9,1112.8 1435.5,1112.4 1436.0,1112.3 1436.6,1112.4 1437.1,1112.7 1437.7,1112.4 1438.2,1111.9 1438.8,1112.6 1439.3,1112.3 1439.9,1111.7 1440.4,1111.4 1441.0,1110.0 1441.5,1109.2 1442.1,1106.2 1442.6,1101.4 1443.2,1094.7 1443.7,1088.2 1444.3,1085.9 1444.8,1089.4 1445.4,1096.1 1445.9,1102.3 1446.5,1106.8 1447.0,1108.2 1447.6,1109.4 1448.1,1108.6 1448.7,1106.2 1449.2,1103.8 1449.8,1101.4 1450.3,1101.0 1450.8,1103.0 1451.4,1106.5 1451.9,1109.2 1452.5,1111.2 1453.0,1112.1 1453.6,1112.5 1454.1,1112.2 1454.7,1112.5 1455.2,1112.5 1455.8,1113.2 1456.3,1112.4 1456.9,1112.3 1457.4,1112.4 1458.0,1113.0 1458.5,1112.5 1459.1,1112.8 1459.6,1112.4 1460.2,1113.0 1460.7,1112.5 1461.3,1113.0 1461.8,1113.3 1462.4,1112.9 1462.9,1112.6 1463.5,1113.3 1464.0,1112.5 1464.6,1112.7 1465.1,1113.3 1465.7,1113.4 1466.2,1113.0 1466.8,1112.7 1467.3,1112.7 1467.9,1112.8 1468.4,1112.9 1468.9,1113.2 1469.5,1113.0 1470.0,1113.0 1470.6,1112.7 1471.1,1113.1 1471.7,1113.3 1472.2,1113.4 1472.8,1113.2 1473.3,1113.1 1473.9,1113.4 1474.4,1113.5 1475.0,1112.9 1475.5,1112.9 1476.1,1113.1 1476.6,1113.2 1477.2,1113.4 1477.7,1113.0 1478.3,1113.3 1478.8,1112.6 1479.4,1112.3 1479.9,1112.8 1480.5,1113.0 1481.0,1112.6 1481.6,1112.9 1482.1,1112.9 1482.7,1112.6 1483.2,1112.3 1483.8,1112.0 1484.3,1110.7 1484.9,1108.9 1485.4,1106.4 1486.0,1103.1 1486.5,1099.6 1487.0,1099.4 1487.6,1101.4 1488.1,1104.5 1488.7,1107.7 1489.2,1109.5 1489.8,1110.9 1490.3,1110.9 1490.9,1110.7 1491.4,1107.8 1492.0,1105.5 1492.5,1102.6 1493.1,1100.3 1493.6,1099.3 1494.2,1100.6 1494.7,1103.9 1495.3,1106.8 1495.8,1109.3 1496.4,1110.9 1496.9,1111.5 1497.5,1111.1 1498.0,1111.2 1498.6,1111.0 1499.1,1110.1 1499.7,1109.1 1500.2,1109.4 1500.8,1109.9 1501.3,1111.0 1501.9,1111.9 1502.4,1112.1 1503.0,1112.7 1503.5,1112.6 1504.1,1112.7 1504.6,1112.9 1505.1,1112.3 1505.7,1112.4 1506.2,1112.6 1506.8,1113.3 1507.3,1113.2 1507.9,1113.1 1508.4,1113.0 1509.0,1112.7 1509.5,1113.1 1510.1,1112.9 1510.6,1112.9 1511.2,1113.0 1511.7,1112.8 1512.3,1113.0 1512.8,1112.6 1513.4,1113.0 1513.9,1112.7 1514.5,1112.2 1515.0,1112.2 1515.6,1112.4 1516.1,1110.8 1516.7,1109.6 1517.2,1106.7 1517.8,1102.1 1518.3,1095.7 1518.9,1090.1 1519.4,1087.0 1520.0,1090.1 1520.5,1096.0 1521.1,1102.0 1521.6,1106.6 1522.2,1109.0 1522.7,1110.1 1523.2,1110.0 1523.8,1108.1 1524.3,1106.3 1524.9,1103.2 1525.4,1102.4 1526.0,1102.1 1526.5,1104.7 1527.1,1107.6 1527.6,1109.6 1528.2,1110.8 1528.7,1112.0 1529.3,1112.0 1529.8,1112.7 1530.4,1112.1 1530.9,1112.7 1531.5,1112.7 1532.0,1112.8 1532.6,1113.0 1533.1,1112.8 1533.7,1112.9 1534.2,1113.2 1534.8,1112.6 1535.3,1112.9 1535.9,1113.0 1536.4,1113.1 1537.0,1113.2 1537.5,1112.6 1538.1,1113.1 1538.6,1113.2 1539.2,1113.5 1539.7,1113.5 1540.3,1113.1 1540.8,1113.1 1541.3,1112.9 1541.9,1113.0 1542.4,1112.9 1543.0,1113.3 1543.5,1113.1 1544.1,1113.2 1544.6,1112.9 1545.2,1113.0 1545.7,1113.3 1546.3,1113.0 1546.8,1113.3 1547.4,1113.4 1547.9,1113.0 1548.5,1113.3 1549.0,1113.1 1549.6,1113.8 1550.1,1113.5 1550.7,1113.7 1551.2,1113.3 1551.8,1113.1 1552.3,1113.4 1552.9,1113.7 1553.4,1113.8 1554.0,1113.5 1554.5,1113.2 1555.1,1113.2 1555.6,1113.2 1556.2,1112.7 1556.7,1113.1 1557.3,1112.6 1557.8,1112.9 1558.4,1113.1 1558.9,1113.1 1559.5,1113.2 1560.0,1113.6 1560.5,1113.2 1561.1,1113.3 1561.6,1113.2 1562.2,1113.4 1562.7,1113.5 1563.3,1113.2 1563.8,1112.8 1564.4,1113.4 1564.9,1113.5 1565.5,1113.1 1566.0,1113.3 1566.6,1113.4 1567.1,1113.2 1567.7,1113.4 1568.2,1113.4 1568.8,1113.2 1569.3,1112.8 1569.9,1113.3 1570.4,1113.7 1571.0,1113.6 1571.5,1113.1 1572.1,1112.9 1572.6,1113.4 1573.2,1113.3 1573.7,1113.4 1574.3,1113.5 1574.8,1113.1 1575.4,1113.1 1575.9,1113.0 1576.5,1113.4 1577.0,1113.2 1577.6,1113.8 1578.1,1113.4 1578.6,1113.8 1579.2,1113.3 1579.7,1113.5 1580.3,1113.2 1580.8,1113.5 1581.4,1113.1 1581.9,1113.6 1582.5,1113.4 1583.0,1112.8 1583.6,1112.9 1584.1,1113.3 1584.7,1113.2 1585.2,1113.7 1585.8,1113.0 1586.3,1113.2 1586.9,1113.2 1587.4,1113.2 1588.0,1113.5 1588.5,1113.2 1589.1,1112.9 1589.6,1113.8 1590.2,1113.6 1590.7,1113.1 1591.3,1113.2 1591.8,1113.1 1592.4,1113.2 1592.9,1113.4 1593.5,1113.2 1594.0,1113.2 1594.6,1113.1 1595.1,1113.2 1595.7,1113.2 1596.2,1113.3 1596.7,1112.6 1597.3,1113.0 1597.8,1113.3 1598.4,1113.6 1598.9,1113.5 1599.5,1112.8 1600.0,1112.8 1600.6,1113.3 1601.1,1113.2 1601.7,1113.2 1602.2,1113.7 1602.8,1113.0 1603.3,1113.5 1603.9,1113.2 1604.4,1113.1 1605.0,1112.8 1605.5,1113.0 1606.1,1113.6 1606.6,1113.2 1607.2,1113.3 1607.7,1113.2 1608.3,1113.0 1608.8,1113.2 1609.4,1113.2 1609.9,1113.1 1610.5,1113.1 1611.0,1113.0 1611.6,1113.3 1612.1,1113.2 1612.7,1113.5 1613.2,1113.2 1613.8,1113.1 1614.3,1113.0 1614.8,1113.7 1615.4,1114.0 1615.9,1113.4 1616.5,1112.9 1617.0,1113.6 1617.6,1113.3 1618.1,1113.5 1618.7,1113.4 1619.2,1113.5 1619.8,1113.3 1620.3,1113.3 1620.9,1113.5 1621.4,1113.2 1622.0,1113.5 1622.5,1113.1 1623.1,1113.2 1623.6,1113.0 1624.2,1113.4 1624.7,1113.1 1625.3,1113.2 1625.8,1113.6 1626.4,1113.4 1626.9,1113.1 1627.5,1112.8 1628.0,1113.0 1628.6,1113.2 1629.1,1113.3 1629.7,1113.1 1630.2,1113.5 1630.8,1113.0 1631.3,1113.4 1631.9,1113.2 1632.4,1113.5 1632.9,1113.2 1633.5,1113.8 1634.0,1113.2 1634.6,1113.2 1635.1,1112.6 1635.7,1112.9 1636.2,1113.5 1636.8,1113.2 1637.3,1113.6 1637.9,1113.2 1638.4,1113.5 1639.0,1113.2 1639.5,1113.3 1640.1,1113.3 1640.6,1113.3 1641.2,1113.1 1641.7,1113.1 1642.3,1113.5 1642.8,1113.4 1643.4,1113.4 1643.9,1112.9 1644.5,1113.3 1645.0,1113.2 1645.6,1113.1 1646.1,1113.3 1646.7,1113.5 1647.2,1113.2 1647.8,1113.2 1648.3,1113.3 1648.9,1113.2 1649.4,1113.5 1650.0,1113.2 1650.5,1112.8 1651.0,1112.9 1651.6,1113.1 1652.1,1113.2 1652.7,1113.5 1653.2,1112.7 1653.8,1113.3 1654.3,1113.4 1654.9,1113.0 1655.4,1113.4 1656.0,1113.2 1656.5,1113.4 1657.1,1113.4 1657.6,1113.8 1658.2,1113.6 1658.7,1113.6 1659.3,1113.2 1659.8,1113.4 1660.4,1113.1 1660.9,1113.4 1661.5,1113.5 1662.0,1113.7 1662.6,1113.3 1663.1,1113.3 1663.7,1113.2 1664.2,1112.9 1664.8,1113.5 1665.3,1113.3 1665.9,1113.6 1666.4,1113.5 1667.0,1113.1 1667.5,1113.2 1668.1,1113.5 1668.6,1113.5 1669.2,1113.5 1669.7,1113.4 1670.2,1113.6 1670.8,1113.2 1671.3,1113.4 1671.9,1113.1 1672.4,1113.5 1673.0,1113.3 1673.5,1113.4 1674.1,1113.2 1674.6,1112.7 1675.2,1113.1 1675.7,1113.3 1676.3,1113.3 1676.8,1113.4 1677.4,1113.4 1677.9,1113.1 1678.5,1113.4 1679.0,1113.0 1679.6,1113.6 1680.1,1113.0 1680.7,1113.5 1681.2,1112.9 1681.8,1113.5 1682.3,1113.7 1682.9,1113.4 1683.4,1113.5 1684.0,1113.5 1684.5,1112.7 1685.1,1112.9 1685.6,1113.4 1686.2,1113.3 1686.7,1113.5 1687.3,1114.1 1687.8,1113.8 1688.3,1113.5 1688.9,1113.1 1689.4,1113.3 1690.0,1113.3 1690.5,1113.3 1691.1,1113.8 1691.6,1113.1 1692.2,1113.8 1692.7,1113.4 1693.3,1113.6 1693.8,1113.3 1694.4,1113.2 1694.9,1113.2 1695.5,1113.3 1696.0,1113.4 1696.6,1113.9 1697.1,1113.7 1697.7,1113.4 1698.2,1113.2 1698.8,1113.5 1699.3,1113.6 1699.9,1113.2 1700.4,1113.6 1701.0,1113.8 1701.5,1113.4 1702.1,1113.1 1702.6,1113.5 1703.2,1113.7 1703.7,1113.3 1704.3,1113.3 1704.8,1113.5 1705.4,1113.4 1705.9,1113.1 1706.4,1113.1 1707.0,1113.1 1707.5,1113.2 1708.1,1113.5 1708.6,1113.1 1709.2,1113.4 1709.7,1113.3 1710.3,1112.9 1710.8,1113.5 1711.4,1113.3 1711.9,1113.0 1712.5,1112.9 1713.0,1113.4 1713.6,1113.6 1714.1,1113.4 1714.7,1113.3 1715.2,1113.5 1715.8,1113.3 1716.3,1113.3 1716.9,1113.5 1717.4,1113.1 1718.0,1113.5 1718.5,1113.3 1719.1,1113.5 1719.6,1112.9 1720.2,1113.4 1720.7,1113.2 1721.3,1113.3 1721.8,1112.9 1722.4,1112.8 1722.9,1113.1 1723.5,1112.9 1724.0,1112.8 1724.5,1112.8 1725.1,1112.8 1725.6,1112.2 1726.2,1112.1 1726.7,1111.5 1727.3,1110.6 1727.8,1107.9 1728.4,1103.2 1728.9,1097.4 1729.5,1092.0 1730.0,1089.0 1730.6,1091.0 1731.1,1095.8 1731.7,1102.1 1732.2,1106.3 1732.8,1109.3 1733.3,1110.5 1733.9,1110.8 1734.4,1110.5 1735.0,1110.0 1735.5,1107.3 1736.1,1105.5 1736.6,1102.5 1737.2,1099.8 1737.7,1098.9 1738.3,1098.0 1738.8,1097.1 1739.4,1097.2 1739.9,1099.1 1740.5,1102.3 1741.0,1105.6 1741.6,1108.6 1742.1,1110.3 1742.6,1111.2 1743.2,1111.4 1743.7,1111.6 1744.3,1110.7 1744.8,1109.9 1745.4,1108.4 1745.9,1107.0 1746.5,1106.0 1747.0,1105.9 1747.6,1106.3 1748.1,1107.0 1748.7,1105.4 1749.2,1101.7 1749.8,1093.7 1750.3,1082.7 1750.9,1069.0 1751.4,1058.7 1752.0,1058.8 1752.5,1068.5 1753.1,1082.2 1753.6,1094.0 1754.2,1102.2 1754.7,1106.5 1755.3,1108.5 1755.8,1108.6 1756.4,1107.4 1756.9,1105.0 1757.5,1100.5 1758.0,1094.9 1758.6,1090.2 1759.1,1089.7 1759.7,1093.1 1760.2,1098.9 1760.7,1104.4 1761.3,1107.9 1761.8,1110.0 1762.4,1111.3 1762.9,1112.3 1763.5,1112.3 1764.0,1112.6 1764.6,1112.6 1765.1,1113.2 1765.7,1112.8 1766.2,1113.0 1766.8,1113.2 1767.3,1113.2 1767.9,1113.2 1768.4,1112.8 1769.0,1113.2 1769.5,1113.5 1770.1,1113.2 1770.6,1113.5 1771.2,1113.4 1771.7,1113.5 1772.3,1113.2 1772.8,1113.4 1773.4,1113.5 1773.9,1113.6 1774.5,1113.2 1775.0,1113.2 1775.6,1113.4 1776.1,1113.3 1776.7,1113.4 1777.2,1113.6 1777.8,1113.2 1778.3,1113.6 1778.9,1113.4 1779.4,1113.3 1779.9,1113.0 1780.5,1113.5 1781.0,1113.6 1781.6,1113.5 1782.1,1113.5 1782.7,1113.5 1783.2,1113.2 1783.8,1113.4 1784.3,1113.2 1784.9,1113.2 1785.4,1113.2 1786.0,1113.2 1786.5,1113.4 1787.1,1113.5 1787.6,1113.3 1788.2,1113.6 1788.7,1113.5 1789.3,1113.6 1789.8,1113.6 1790.4,1113.4 1790.9,1113.5 1791.5,1113.3 1792.0,1113.3 1792.6,1113.3 1793.1,1113.7 1793.7,1113.5 1794.2,1113.4 1794.8,1113.5 1795.3,1113.4 1795.9,1113.5 1796.4,1113.5 1797.0,1113.3 1797.5,1113.5 1798.0,1113.7 1798.6,1113.7 1799.1,1113.5 1799.7,1113.6 1800.2,1113.3 1800.8,1113.6 1801.3,1113.7 1801.9,1113.6 1802.4,1113.8 1803.0,1113.4 1803.5,1113.5 1804.1,1113.5 1804.6,1113.5 1805.2,1113.6 1805.7,1113.7 1806.3,1113.7 1806.8,1113.8 1807.4,1113.6 1807.9,1113.6 1808.5,1113.6 1809.0,1113.4 1809.6,1113.5 1810.1,1113.1 1810.7,1113.2 1811.2,1113.4 1811.8,1113.4 1812.3,1113.6 1812.9,1113.5 1813.4,1113.8 1814.0,1113.3 1814.5,1113.8 1815.1,1113.5 1815.6,1113.5" fill="none" stroke="#f00" stroke-width="7.4" stroke-linejoin="round" stroke-linecap="butt"/>
<circle cx="326.7" cy="1062.7" r="16.7" fill="none" stroke="#000" stroke-width="4.1"/>
<circle cx="587.6" cy="1010" r="16.7" fill="none" stroke="#000" stroke-width="4.1"/>
<circle cx="812.3" cy="1042.7" r="16.7" fill="none" stroke="#000" stroke-width="4.1"/>
<circle cx="1066" cy="1065" r="16.7" fill="none" stroke="#000" stroke-width="4.1"/>
<circle cx="1203.4" cy="1025.4" r="16.7" fill="none" stroke="#000" stroke-width="4.1"/>
<circle cx="1304.3" cy="1073.5" r="16.7" fill="none" stroke="#000" stroke-width="4.1"/>
<circle cx="1494.3" cy="1073.5" r="16.7" fill="none" stroke="#000" stroke-width="4.1"/>
<circle cx="1737.6" cy="1069" r="16.7" fill="none" stroke="#000" stroke-width="4.1"/>
<path d="M480.8 478.1 h32.6 l-16.3 29.6 Z" fill="none" stroke="#000" stroke-width="3.5" stroke-linejoin="miter"/>
<path d="M552.7 1039.5 h32.6 l-16.3 29.6 Z" fill="none" stroke="#000" stroke-width="3.5" stroke-linejoin="miter"/>
<path d="M603.9 894.1 h32.6 l-16.3 29.6 Z" fill="none" stroke="#000" stroke-width="3.5" stroke-linejoin="miter"/>
<path d="M914.7 1063.5 h32.6 l-16.3 29.6 Z" fill="none" stroke="#000" stroke-width="3.5" stroke-linejoin="miter"/>
<path d="M1162.7 907.5 h32.6 l-16.3 29.6 Z" fill="none" stroke="#000" stroke-width="3.5" stroke-linejoin="miter"/>
<path d="M1335.6 1068.8 h32.6 l-16.3 29.6 Z" fill="none" stroke="#000" stroke-width="3.5" stroke-linejoin="miter"/>
<path d="M1431.7 1047 h32.6 l-16.3 29.6 Z" fill="none" stroke="#000" stroke-width="3.5" stroke-linejoin="miter"/>
<path d="M1469.9 1060.8 h32.6 l-16.3 29.6 Z" fill="none" stroke="#000" stroke-width="3.5" stroke-linejoin="miter"/>
<path d="M1502.9 1042.8 h32.6 l-16.3 29.6 Z" fill="none" stroke="#000" stroke-width="3.5" stroke-linejoin="miter"/>
<path d="M1714.5 1046.2 h32.6 l-16.3 29.6 Z" fill="none" stroke="#000" stroke-width="3.5" stroke-linejoin="miter"/>
<rect x="660.1" y="773.3" width="28" height="28" fill="none" stroke="#000" stroke-width="4" stroke-linejoin="round"/>
<rect x="828.6" y="956.3" width="28" height="28" fill="none" stroke="#000" stroke-width="4" stroke-linejoin="round"/>
<rect x="1381.4" y="1011.1" width="28" height="28" fill="none" stroke="#000" stroke-width="4" stroke-linejoin="round"/>
<rect x="1739.5" y="1011.7" width="28" height="28" fill="none" stroke="#000" stroke-width="4" stroke-linejoin="round"/>
</g>
<g id="panel-b">
<rect x="273.9" y="2471.1" width="5.4" height="12.2" fill="#000"/>
<rect x="406.5" y="2471.1" width="5.4" height="21.9" fill="#000"/>
<rect x="539.1" y="2471.1" width="5.4" height="12.2" fill="#000"/>
<rect x="671.8" y="2471.1" width="5.4" height="21.9" fill="#000"/>
<rect x="804.4" y="2471.1" width="5.4" height="12.2" fill="#000"/>
<rect x="937" y="2471.1" width="5.4" height="21.9" fill="#000"/>
<rect x="1069.6" y="2471.1" width="5.4" height="12.2" fill="#000"/>
<rect x="1202.2" y="2471.1" width="5.4" height="21.9" fill="#000"/>
<rect x="1334.9" y="2471.1" width="5.4" height="12.2" fill="#000"/>
<rect x="1467.5" y="2471.1" width="5.4" height="21.9" fill="#000"/>
<rect x="1600.1" y="2471.1" width="5.4" height="12.2" fill="#000"/>
<rect x="1732.8" y="2471.1" width="5.4" height="21.9" fill="#000"/>
<rect x="168" y="1454.2" width="1651.2" height="6" fill="#000"/>
<rect x="168" y="2468.1" width="1651.2" height="6" fill="#000"/>
<rect x="168" y="1454.2" width="6" height="1019.9" fill="#000"/>
<rect x="1813.2" y="1454.2" width="6" height="1019.9" fill="#000"/>
<text transform="translate(408.6 2553) scale(1 1.03)" font-size="61.3" text-anchor="middle">500</text>
<text transform="translate(673.9 2553) scale(1 1.03)" font-size="61.3" text-anchor="middle">1000</text>
<text transform="translate(939.1 2553) scale(1 1.03)" font-size="61.3" text-anchor="middle">1500</text>
<text transform="translate(1204.4 2553) scale(1 1.03)" font-size="61.3" text-anchor="middle">2000</text>
<text transform="translate(1469.6 2553) scale(1 1.03)" font-size="61.3" text-anchor="middle">2500</text>
<text transform="translate(1734.9 2553) scale(1 1.03)" font-size="61.3" text-anchor="middle">3000</text>
<text transform="translate(693.8 2665.3) scale(1 1.03)" font-size="73.7">Raman shift (cm<tspan font-size="43" dy="-36.5" dx="-0.5">-</tspan><tspan font-size="43" dx="2">1</tspan><tspan dy="36.5" dx="0">)</tspan></text>
<text transform="translate(28.6 1524.2) scale(1 0.995)" font-size="100">(b)</text>
<polyline points="171.0,2331.8 171.6,2330.4 172.1,2331.3 172.7,2332.7 173.2,2330.9 173.8,2331.9 174.3,2331.7 174.9,2331.5 175.4,2331.8 176.0,2329.8 176.5,2332.4 177.1,2331.0 177.6,2331.3 178.2,2329.7 178.7,2332.9 179.3,2331.2 179.8,2328.9 180.4,2330.1 180.9,2330.2 181.5,2329.4 182.0,2328.5 182.6,2328.1 183.1,2328.4 183.7,2329.3 184.2,2329.5 184.8,2330.4 185.3,2329.0 185.9,2326.9 186.4,2328.4 187.0,2329.1 187.5,2326.4 188.1,2326.8 188.6,2325.8 189.2,2323.4 189.7,2323.0 190.3,2321.3 190.8,2322.6 191.4,2320.9 191.9,2319.5 192.5,2318.9 193.0,2317.6 193.6,2314.9 194.1,2313.5 194.7,2313.0 195.2,2313.2 195.8,2315.7 196.3,2317.1 196.9,2318.8 197.4,2317.6 198.0,2320.0 198.5,2321.9 199.1,2323.3 199.6,2322.2 200.2,2323.1 200.7,2323.9 201.3,2325.5 201.8,2326.7 202.4,2327.5 202.9,2326.6 203.5,2328.5 204.0,2326.4 204.6,2328.1 205.1,2329.1 205.7,2329.2 206.2,2329.1 206.8,2328.8 207.3,2329.5 207.9,2329.2 208.4,2329.3 209.0,2328.9 209.5,2330.7 210.1,2328.7 210.6,2329.5 211.2,2331.7 211.7,2331.2 212.3,2332.4 212.8,2332.1 213.4,2331.0 213.9,2331.6 214.5,2329.6 215.0,2330.9 215.6,2332.4 216.1,2331.3 216.7,2331.2 217.2,2333.4 217.8,2331.8 218.3,2329.8 218.9,2332.0 219.4,2328.4 220.0,2330.8 220.5,2330.4 221.1,2329.2 221.6,2328.4 222.2,2328.2 222.7,2330.5 223.3,2326.6 223.8,2326.3 224.4,2326.3 224.9,2325.5 225.5,2326.7 226.0,2324.8 226.6,2323.7 227.1,2323.9 227.7,2323.1 228.2,2322.2 228.8,2321.3 229.3,2320.6 229.9,2319.6 230.4,2318.6 231.0,2318.5 231.5,2319.5 232.1,2316.9 232.6,2317.8 233.2,2317.4 233.7,2315.8 234.3,2315.0 234.8,2315.2 235.4,2313.0 235.9,2312.7 236.5,2311.1 237.0,2309.0 237.6,2307.4 238.1,2306.4 238.7,2305.5 239.2,2301.6 239.8,2301.8 240.3,2298.4 240.9,2296.0 241.4,2294.4 242.0,2291.6 242.5,2287.1 243.1,2287.7 243.6,2284.2 244.2,2284.6 244.7,2284.7 245.3,2285.8 245.8,2286.5 246.4,2288.0 246.9,2289.1 247.5,2290.0 248.0,2292.5 248.6,2292.8 249.1,2294.0 249.7,2294.3 250.2,2295.4 250.8,2297.4 251.3,2297.0 251.9,2300.3 252.4,2299.2 253.0,2299.6 253.5,2299.9 254.1,2301.3 254.6,2302.6 255.2,2303.7 255.7,2303.1 256.3,2303.0 256.8,2303.9 257.4,2304.1 257.9,2303.9 258.5,2306.3 259.0,2305.0 259.6,2305.7 260.1,2307.7 260.7,2307.0 261.2,2307.7 261.8,2307.7 262.3,2308.0 262.9,2308.9 263.4,2308.2 264.0,2310.4 264.5,2310.0 265.1,2311.4 265.6,2309.9 266.2,2309.9 266.7,2311.8 267.3,2311.1 267.8,2313.1 268.4,2312.3 268.9,2311.5 269.5,2313.0 270.0,2313.3 270.6,2314.3 271.1,2313.5 271.7,2314.2 272.2,2314.1 272.8,2313.1 273.3,2312.9 273.9,2313.2 274.4,2312.6 275.0,2314.4 275.5,2315.3 276.1,2314.9 276.6,2315.1 277.2,2315.0 277.7,2316.8 278.3,2317.2 278.8,2314.3 279.4,2317.9 279.9,2317.5 280.5,2315.7 281.0,2316.2 281.6,2316.4 282.1,2316.7 282.7,2316.0 283.2,2316.5 283.8,2316.5 284.3,2317.9 284.9,2315.7 285.4,2315.4 286.0,2317.0 286.5,2316.2 287.1,2316.5 287.6,2316.5 288.2,2316.2 288.7,2316.1 289.3,2316.1 289.8,2315.8 290.4,2316.2 290.9,2318.3 291.5,2316.8 292.0,2316.2 292.6,2316.2 293.1,2318.1 293.7,2316.0 294.2,2315.6 294.8,2312.3 295.3,2310.2 295.9,2310.3 296.4,2306.7 297.0,2306.3 297.5,2304.3 298.1,2299.3 298.6,2295.3 299.2,2290.8 299.7,2285.9 300.3,2281.6 300.8,2277.1 301.4,2272.4 301.9,2267.4 302.5,2262.2 303.0,2256.5 303.6,2250.6 304.1,2244.5 304.7,2240.6 305.2,2236.3 305.8,2231.5 306.3,2227.3 306.9,2226.1 307.4,2219.2 308.0,2218.8 308.5,2215.5 309.1,2213.9 309.6,2211.7 310.2,2207.8 310.7,2203.2 311.3,2197.9 311.8,2192.5 312.4,2196.6 312.9,2201.8 313.5,2208.4 314.0,2212.7 314.6,2221.1 315.1,2230.0 315.7,2239.5 316.2,2249.1 316.8,2257.2 317.3,2265.4 317.9,2274.5 318.4,2279.9 319.0,2285.8 319.5,2291.5 320.1,2296.1 320.6,2300.3 321.2,2302.2 321.7,2305.1 322.3,2306.9 322.8,2305.3 323.4,2306.1 323.9,2305.7 324.5,2306.9 325.0,2307.1 325.6,2306.9 326.1,2305.5 326.7,2305.5 327.2,2304.3 327.8,2302.5 328.3,2300.1 328.9,2298.8 329.4,2296.8 330.0,2294.1 330.5,2290.2 331.1,2284.9 331.6,2275.7 332.2,2265.8 332.7,2255.9 333.3,2244.5 333.8,2235.1 334.4,2228.3 334.9,2219.5 335.5,2212.7 336.0,2204.5 336.6,2199.7 337.1,2191.9 337.7,2191.3 338.2,2197.2 338.8,2204.0 339.3,2211.4 339.9,2216.7 340.4,2223.9 341.0,2228.1 341.5,2235.7 342.1,2239.8 342.6,2243.3 343.2,2245.3 343.7,2247.5 344.3,2247.6 344.8,2247.5 345.4,2248.8 345.9,2250.5 346.5,2247.9 347.0,2246.7 347.6,2244.6 348.1,2242.6 348.7,2239.6 349.2,2236.2 349.8,2235.0 350.3,2230.5 350.9,2229.9 351.4,2226.6 352.0,2225.2 352.5,2223.5 353.1,2220.9 353.6,2220.4 354.2,2220.4 354.7,2216.7 355.3,2214.8 355.8,2215.5 356.4,2211.0 356.9,2211.3 357.5,2209.9 358.0,2208.8 358.6,2204.6 359.1,2199.7 359.7,2192.4 360.2,2187.4 360.8,2179.0 361.3,2172.1 361.9,2159.2 362.4,2147.4 363.0,2126.9 363.5,2101.7 364.1,2083.3 364.6,2070.1 365.2,2059.3 365.7,2049.4 366.3,2039.8 366.8,2025.7 367.4,2011.6 367.9,2007.6 368.5,2013.0 369.0,2027.8 369.6,2044.6 370.1,2073.1 370.7,2100.5 371.2,2122.4 371.8,2144.9 372.3,2171.9 372.9,2201.0 373.4,2225.6 374.0,2243.2 374.5,2265.7 375.1,2281.0 375.6,2297.3 376.2,2304.9 376.7,2309.0 377.3,2313.2 377.8,2316.2 378.4,2320.1 378.9,2320.8 379.5,2323.3 380.0,2326.3 380.6,2329.2 381.1,2328.3 381.7,2329.8 382.2,2329.6 382.8,2331.8 383.3,2330.5 383.9,2332.2 384.4,2332.2 385.0,2331.3 385.5,2332.0 386.1,2331.7 386.6,2328.9 387.2,2327.6 387.7,2325.2 388.3,2322.8 388.8,2312.9 389.4,2297.0 389.9,2279.5 390.5,2235.3 391.0,2218.8 391.6,2210.7 392.1,2205.1 392.7,2195.5 393.2,2201.3 393.8,2210.7 394.3,2223.1 394.9,2252.4 395.4,2277.7 396.0,2295.7 396.5,2315.1 397.1,2319.3 397.6,2322.8 398.2,2325.3 398.7,2325.3 399.3,2328.0 399.8,2327.9 400.4,2328.4 400.9,2328.0 401.5,2329.8 402.0,2328.5 402.6,2327.7 403.1,2327.4 403.7,2325.2 404.2,2324.6 404.8,2325.7 405.3,2321.9 405.9,2320.9 406.4,2321.2 407.0,2321.2 407.5,2321.2 408.1,2320.9 408.6,2319.1 409.2,2320.0 409.7,2318.0 410.3,2320.0 410.8,2319.0 411.4,2318.5 411.9,2315.4 412.5,2313.8 413.0,2314.4 413.6,2312.2 414.1,2310.7 414.7,2309.8 415.2,2307.9 415.8,2306.6 416.3,2307.7 416.9,2306.9 417.4,2306.5 418.0,2305.0 418.5,2303.5 419.1,2302.4 419.6,2300.4 420.2,2299.6 420.7,2298.5 421.3,2296.2 421.8,2298.5 422.4,2300.2 422.9,2300.8 423.5,2300.1 424.0,2301.3 424.6,2301.6 425.1,2303.2 425.7,2303.4 426.2,2301.6 426.8,2302.0 427.3,2302.7 427.9,2303.1 428.4,2305.5 429.0,2303.1 429.5,2304.5 430.1,2304.9 430.6,2306.2 431.2,2307.8 431.7,2306.6 432.3,2308.7 432.8,2309.8 433.4,2309.0 433.9,2310.4 434.5,2309.4 435.0,2309.4 435.6,2307.5 436.1,2306.8 436.7,2303.9 437.2,2301.9 437.8,2300.0 438.3,2298.2 438.9,2294.4 439.4,2293.3 440.0,2290.1 440.5,2288.1 441.1,2286.2 441.6,2284.7 442.2,2282.6 442.7,2280.9 443.3,2280.9 443.8,2278.9 444.4,2275.6 444.9,2277.0 445.5,2275.7 446.0,2276.6 446.6,2277.3 447.1,2279.3 447.7,2279.1 448.2,2281.9 448.8,2282.7 449.3,2284.1 449.9,2285.9 450.4,2290.7 451.0,2295.3 451.5,2297.2 452.1,2301.0 452.6,2302.5 453.2,2305.4 453.7,2306.8 454.3,2309.4 454.8,2309.5 455.4,2312.0 455.9,2313.5 456.5,2313.2 457.0,2312.1 457.6,2311.1 458.1,2312.8 458.7,2311.4 459.2,2312.0 459.8,2312.7 460.3,2309.6 460.9,2311.2 461.4,2311.2 462.0,2312.1 462.5,2311.9 463.1,2313.2 463.6,2312.4 464.2,2313.1 464.7,2311.2 465.3,2313.3 465.8,2313.1 466.4,2313.0 466.9,2313.3 467.5,2310.4 468.0,2308.6 468.6,2312.1 469.1,2310.2 469.7,2310.0 470.2,2311.8 470.8,2311.7 471.3,2311.5 471.9,2311.8 472.4,2312.1 473.0,2310.5 473.5,2311.4 474.1,2313.1 474.6,2311.8 475.2,2311.5 475.7,2312.9 476.3,2311.2 476.8,2312.2 477.4,2310.6 477.9,2309.6 478.5,2309.4 479.0,2308.6 479.6,2306.7 480.1,2309.6 480.7,2308.2 481.2,2309.6 481.8,2306.9 482.3,2306.9 482.9,2306.1 483.4,2307.1 484.0,2308.1 484.5,2309.7 485.1,2307.7 485.6,2307.9 486.2,2309.2 486.7,2308.9 487.3,2308.0 487.8,2308.2 488.4,2308.1 488.9,2309.8 489.5,2308.5 490.0,2308.9 490.6,2310.6 491.1,2309.4 491.7,2311.4 492.2,2310.0 492.8,2311.8 493.3,2314.8 493.9,2315.3 494.4,2314.9 495.0,2315.5 495.5,2315.8 496.1,2318.1 496.6,2318.0 497.2,2319.0 497.7,2319.0 498.3,2322.1 498.8,2321.3 499.4,2319.5 499.9,2321.8 500.5,2321.0 501.0,2322.8 501.6,2323.0 502.1,2324.1 502.7,2324.1 503.2,2322.8 503.8,2325.1 504.3,2322.7 504.9,2323.4 505.4,2323.4 506.0,2324.2 506.5,2323.0 507.1,2324.2 507.6,2324.7 508.2,2326.8 508.7,2325.0 509.3,2326.3 509.8,2327.2 510.4,2327.0 510.9,2328.0 511.5,2329.4 512.0,2328.8 512.6,2327.7 513.1,2330.7 513.7,2331.8 514.2,2332.4 514.8,2332.8 515.3,2333.7 515.9,2333.1 516.4,2333.0 517.0,2333.3 517.5,2334.0 518.1,2336.8 518.6,2335.8 519.2,2336.0 519.7,2338.5 520.3,2336.7 520.8,2339.5 521.4,2338.8 521.9,2340.2 522.5,2341.0 523.0,2342.6 523.6,2342.5 524.1,2344.3 524.7,2343.6 525.2,2346.4 525.8,2345.1 526.3,2344.4 526.9,2345.6 527.4,2346.2 528.0,2347.7 528.5,2346.5 529.1,2348.8 529.6,2346.5 530.2,2346.1 530.7,2346.8 531.3,2343.4 531.8,2347.2 532.4,2344.9 532.9,2344.8 533.5,2349.0 534.0,2348.5 534.6,2347.9 535.1,2350.6 535.7,2351.6 536.2,2351.6 536.8,2350.6 537.3,2349.0 537.9,2349.2 538.4,2350.3 539.0,2350.1 539.5,2350.1 540.1,2352.5 540.6,2350.8 541.2,2353.9 541.7,2351.4 542.3,2351.5 542.8,2351.2 543.4,2351.5 543.9,2351.5 544.5,2348.7 545.0,2349.2 545.6,2349.2 546.1,2349.6 546.7,2348.9 547.2,2348.4 547.8,2350.5 548.3,2349.4 548.9,2348.6 549.4,2349.5 550.0,2348.6 550.5,2347.5 551.1,2347.1 551.6,2349.2 552.2,2348.5 552.7,2348.5 553.3,2347.7 553.8,2348.8 554.4,2348.8 554.9,2349.7 555.5,2349.4 556.0,2347.5 556.6,2349.5 557.1,2348.4 557.7,2348.7 558.2,2346.8 558.8,2347.7 559.3,2345.2 559.9,2347.7 560.4,2345.9 561.0,2347.0 561.5,2346.2 562.1,2347.2 562.6,2347.5 563.2,2346.3 563.7,2347.3 564.3,2347.6 564.8,2346.3 565.4,2346.9 565.9,2347.7 566.5,2345.5 567.0,2346.6 567.6,2345.6 568.1,2344.6 568.7,2346.7 569.2,2345.2 569.8,2346.7 570.3,2349.2 570.9,2346.8 571.4,2346.7 572.0,2347.5 572.5,2348.2 573.1,2348.6 573.6,2347.5 574.2,2347.8 574.7,2349.3 575.3,2349.0 575.8,2350.0 576.4,2348.1 576.9,2349.8 577.5,2348.3 578.0,2347.7 578.6,2346.3 579.1,2347.8 579.7,2348.4 580.2,2349.7 580.8,2348.7 581.3,2347.6 581.9,2347.1 582.4,2349.2 583.0,2347.2 583.5,2349.8 584.1,2348.4 584.6,2347.6 585.2,2347.4 585.7,2349.5 586.3,2348.0 586.8,2348.1 587.4,2345.6 587.9,2347.2 588.5,2345.9 589.0,2344.5 589.6,2346.1 590.1,2345.8 590.7,2344.2 591.2,2347.5 591.8,2343.6 592.3,2343.6 592.9,2344.6 593.4,2344.5 594.0,2344.3 594.5,2343.6 595.1,2345.3 595.6,2343.1 596.2,2342.1 596.7,2342.7 597.3,2343.3 597.8,2343.3 598.4,2344.9 598.9,2342.8 599.5,2342.5 600.0,2342.3 600.6,2341.9 601.1,2343.1 601.7,2340.9 602.2,2343.0 602.8,2340.6 603.3,2340.9 603.9,2341.8 604.4,2340.5 605.0,2342.3 605.5,2342.1 606.1,2343.0 606.6,2342.0 607.2,2338.5 607.7,2340.6 608.3,2339.0 608.8,2338.9 609.4,2339.1 609.9,2341.8 610.5,2339.5 611.0,2339.7 611.6,2340.3 612.1,2341.1 612.7,2339.1 613.2,2339.7 613.8,2339.9 614.3,2339.8 614.9,2339.6 615.4,2338.7 616.0,2339.2 616.5,2338.9 617.1,2338.8 617.6,2339.2 618.2,2339.6 618.7,2338.9 619.3,2339.2 619.8,2340.4 620.4,2340.3 620.9,2338.7 621.5,2337.9 622.0,2341.8 622.6,2339.0 623.1,2340.5 623.7,2338.5 624.2,2339.7 624.8,2337.8 625.3,2336.6 625.9,2335.6 626.4,2336.0 627.0,2335.7 627.5,2337.6 628.1,2338.1 628.6,2339.3 629.2,2339.7 629.7,2338.4 630.3,2339.5 630.8,2338.8 631.4,2339.2 631.9,2339.2 632.5,2336.9 633.0,2334.9 633.6,2336.4 634.1,2335.9 634.7,2334.6 635.2,2335.5 635.8,2334.8 636.3,2335.6 636.9,2334.0 637.4,2335.4 638.0,2334.9 638.5,2334.6 639.1,2335.2 639.6,2333.1 640.2,2332.7 640.7,2333.2 641.3,2330.8 641.8,2332.5 642.4,2331.0 642.9,2329.2 643.5,2332.2 644.0,2331.9 644.6,2329.9 645.1,2328.3 645.7,2327.1 646.2,2328.5 646.8,2329.1 647.3,2325.7 647.9,2326.3 648.4,2326.9 649.0,2325.3 649.5,2323.7 650.1,2325.2 650.6,2321.8 651.2,2323.2 651.7,2323.2 652.3,2320.3 652.8,2320.5 653.4,2320.0 653.9,2322.6 654.5,2319.9 655.0,2319.9 655.6,2319.4 656.1,2322.2 656.7,2321.3 657.2,2318.2 657.8,2317.9 658.3,2318.8 658.9,2318.2 659.4,2318.1 660.0,2317.1 660.5,2316.2 661.1,2318.3 661.6,2317.3 662.2,2320.5 662.7,2318.0 663.3,2318.0 663.8,2318.3 664.4,2317.7 664.9,2318.9 665.5,2317.8 666.0,2318.6 666.6,2318.6 667.1,2317.7 667.7,2315.0 668.2,2318.3 668.8,2317.3 669.3,2319.2 669.9,2318.6 670.4,2318.4 671.0,2318.6 671.5,2317.1 672.1,2317.4 672.6,2316.8 673.2,2317.8 673.7,2318.5 674.3,2317.4 674.8,2318.1 675.4,2318.0 675.9,2320.5 676.5,2318.1 677.0,2318.7 677.6,2318.7 678.1,2318.3 678.7,2319.9 679.2,2319.5 679.8,2321.2 680.3,2320.0 680.9,2321.9 681.4,2324.2 682.0,2323.3 682.5,2322.7 683.1,2323.5 683.6,2321.2 684.2,2322.1 684.7,2321.0 685.3,2319.9 685.8,2318.4 686.4,2317.0 686.9,2314.2 687.5,2312.9 688.0,2311.1 688.6,2311.3 689.1,2307.9 689.7,2308.1 690.2,2306.0 690.8,2305.6 691.3,2306.1 691.9,2302.1 692.4,2302.3 693.0,2301.4 693.5,2298.2 694.1,2298.5 694.6,2298.4 695.2,2296.8 695.7,2296.4 696.3,2295.5 696.8,2294.6 697.4,2292.4 697.9,2292.5 698.5,2290.7 699.0,2288.9 699.6,2288.1 700.1,2285.1 700.7,2283.8 701.2,2281.7 701.8,2280.3 702.3,2278.4 702.9,2273.3 703.4,2269.5 704.0,2266.4 704.5,2264.3 705.1,2260.0 705.6,2257.6 706.2,2256.6 706.7,2254.8 707.3,2251.6 707.8,2249.0 708.4,2246.4 708.9,2245.1 709.5,2240.3 710.0,2241.7 710.6,2240.3 711.1,2238.3 711.7,2236.5 712.2,2235.4 712.8,2232.8 713.3,2232.3 713.9,2229.7 714.4,2229.6 715.0,2228.9 715.5,2226.0 716.1,2226.7 716.6,2225.0 717.2,2223.6 717.7,2223.0 718.3,2220.5 718.8,2217.6 719.4,2217.4 719.9,2216.7 720.5,2214.3 721.0,2213.4 721.6,2212.3 722.1,2211.1 722.7,2210.2 723.2,2211.4 723.8,2211.7 724.3,2209.5 724.9,2210.4 725.4,2210.1 726.0,2211.0 726.5,2211.4 727.1,2211.0 727.6,2212.0 728.2,2212.0 728.7,2211.8 729.3,2211.5 729.8,2211.9 730.4,2210.4 730.9,2209.7 731.5,2211.2 732.0,2210.8 732.6,2211.0 733.1,2209.3 733.7,2208.0 734.2,2208.7 734.8,2208.8 735.3,2205.9 735.9,2205.1 736.4,2203.2 737.0,2200.4 737.5,2200.6 738.1,2196.9 738.6,2196.6 739.2,2193.1 739.7,2190.2 740.3,2189.3 740.8,2187.4 741.4,2185.7 741.9,2184.1 742.5,2182.1 743.0,2181.9 743.6,2176.1 744.1,2174.6 744.7,2173.1 745.2,2171.5 745.8,2169.5 746.3,2168.4 746.9,2167.8 747.4,2166.1 748.0,2165.4 748.5,2166.1 749.1,2165.3 749.6,2167.8 750.2,2168.5 750.7,2171.0 751.3,2172.5 751.8,2175.9 752.4,2177.5 752.9,2179.4 753.5,2180.6 754.0,2184.0 754.6,2184.1 755.1,2189.7 755.7,2192.9 756.2,2196.0 756.8,2200.6 757.3,2203.0 757.9,2208.1 758.4,2211.9 759.0,2217.2 759.5,2221.2 760.1,2226.0 760.6,2227.7 761.2,2232.4 761.7,2238.8 762.3,2243.5 762.8,2249.3 763.4,2256.4 763.9,2261.5 764.5,2266.4 765.0,2272.5 765.6,2275.0 766.1,2276.8 766.7,2280.7 767.2,2283.8 767.8,2286.2 768.3,2290.6 768.9,2292.7 769.4,2295.6 770.0,2298.1 770.5,2299.1 771.1,2300.8 771.6,2302.3 772.2,2302.9 772.7,2305.4 773.3,2304.3 773.8,2304.9 774.4,2307.5 774.9,2307.6 775.5,2307.1 776.0,2309.6 776.6,2310.1 777.1,2309.2 777.7,2309.5 778.2,2311.9 778.8,2312.4 779.3,2313.1 779.9,2312.8 780.4,2314.6 781.0,2316.0 781.5,2315.6 782.1,2315.7 782.6,2316.1 783.2,2315.4 783.7,2315.0 784.3,2315.4 784.8,2316.2 785.4,2316.0 785.9,2316.6 786.5,2315.9 787.0,2316.5 787.6,2315.5 788.1,2318.0 788.7,2317.9 789.2,2317.0 789.8,2318.5 790.3,2317.4 790.9,2318.3 791.4,2319.4 792.0,2317.9 792.5,2317.3 793.1,2317.7 793.6,2318.5 794.2,2318.0 794.7,2319.0 795.3,2316.9 795.8,2320.0 796.4,2318.9 796.9,2319.3 797.5,2320.6 798.0,2320.3 798.6,2317.6 799.1,2317.4 799.7,2318.8 800.2,2317.3 800.8,2316.6 801.3,2317.9 801.9,2317.0 802.4,2317.3 803.0,2316.2 803.5,2316.5 804.1,2316.8 804.6,2317.1 805.2,2317.6 805.7,2314.9 806.3,2315.2 806.8,2314.8 807.4,2315.5 807.9,2314.9 808.5,2316.0 809.0,2317.4 809.6,2316.8 810.1,2317.8 810.7,2316.3 811.2,2314.3 811.8,2315.3 812.3,2315.3 812.9,2314.3 813.4,2314.6 814.0,2315.6 814.5,2314.4 815.1,2312.5 815.6,2312.0 816.2,2313.5 816.7,2313.6 817.3,2312.2 817.8,2313.4 818.4,2313.8 818.9,2314.7 819.5,2314.6 820.0,2316.0 820.6,2313.4 821.1,2312.5 821.7,2314.0 822.2,2315.0 822.8,2313.0 823.3,2312.8 823.9,2313.7 824.4,2313.3 825.0,2314.4 825.5,2312.8 826.1,2315.5 826.6,2313.6 827.2,2313.4 827.7,2311.4 828.3,2313.1 828.8,2314.7 829.4,2313.1 829.9,2315.0 830.5,2314.0 831.0,2314.2 831.6,2313.4 832.1,2314.0 832.7,2311.7 833.2,2313.3 833.8,2313.0 834.3,2313.2 834.9,2312.4 835.4,2311.4 836.0,2313.0 836.5,2313.1 837.1,2313.1 837.6,2314.0 838.2,2312.7 838.7,2313.4 839.3,2312.7 839.8,2310.9 840.4,2312.3 840.9,2311.5 841.5,2312.4 842.0,2312.0 842.6,2313.8 843.1,2313.2 843.7,2310.4 844.2,2311.8 844.8,2311.3 845.3,2312.0 845.9,2312.8 846.4,2312.4 847.0,2311.0 847.5,2310.7 848.1,2312.4 848.6,2311.8 849.2,2312.3 849.7,2311.8 850.3,2311.5 850.8,2312.6 851.4,2311.6 851.9,2311.8 852.5,2310.6 853.0,2311.2 853.6,2312.6 854.1,2310.6 854.7,2311.0 855.2,2312.1 855.8,2313.4 856.3,2312.0 856.9,2310.5 857.4,2310.7 858.0,2309.4 858.5,2309.2 859.1,2308.3 859.6,2308.4 860.2,2311.1 860.7,2310.7 861.3,2312.1 861.8,2313.3 862.4,2312.1 862.9,2310.2 863.5,2311.4 864.0,2310.5 864.6,2311.3 865.1,2311.9 865.7,2311.0 866.2,2311.9 866.8,2311.5 867.3,2311.6 867.9,2311.4 868.4,2310.0 869.0,2310.7 869.5,2310.5 870.1,2308.3 870.6,2308.4 871.2,2307.9 871.7,2305.7 872.3,2306.5 872.8,2308.5 873.4,2308.1 873.9,2308.0 874.5,2308.4 875.0,2309.4 875.6,2307.7 876.1,2310.0 876.7,2307.9 877.2,2307.5 877.8,2306.3 878.3,2306.9 878.9,2305.5 879.4,2306.0 880.0,2305.2 880.5,2307.0 881.1,2307.1 881.6,2305.4 882.2,2305.2 882.7,2305.6 883.3,2307.6 883.8,2305.6 884.4,2305.7 884.9,2306.0 885.5,2307.0 886.0,2305.4 886.6,2304.9 887.1,2305.6 887.7,2303.6 888.2,2304.2 888.8,2306.2 889.3,2306.2 889.9,2305.3 890.4,2304.4 891.0,2303.2 891.5,2302.8 892.1,2304.3 892.6,2301.8 893.2,2303.7 893.7,2302.4 894.3,2301.0 894.8,2302.8 895.4,2301.5 895.9,2302.5 896.5,2302.5 897.0,2304.3 897.6,2301.6 898.1,2300.3 898.7,2302.4 899.2,2302.6 899.8,2301.8 900.3,2301.3 900.9,2302.3 901.4,2302.3 902.0,2300.9 902.5,2301.8 903.1,2300.9 903.6,2300.8 904.2,2299.8 904.7,2300.3 905.3,2301.6 905.8,2302.4 906.4,2302.9 906.9,2302.6 907.5,2303.3 908.0,2303.1 908.6,2303.0 909.1,2302.9 909.7,2303.6 910.2,2303.5 910.8,2302.8 911.3,2303.1 911.9,2301.8 912.4,2302.6 913.0,2303.6 913.5,2303.2 914.1,2303.8 914.6,2302.1 915.2,2304.7 915.7,2303.1 916.3,2303.1 916.8,2303.9 917.4,2300.6 917.9,2303.6 918.5,2305.5 919.0,2303.2 919.6,2304.6 920.1,2302.5 920.7,2302.9 921.2,2302.7 921.8,2305.1 922.3,2301.9 922.9,2303.8 923.4,2302.8 924.0,2303.9 924.5,2301.9 925.1,2301.7 925.6,2302.4 926.2,2300.6 926.7,2300.6 927.3,2304.4 927.8,2302.8 928.4,2303.2 928.9,2302.6 929.5,2302.7 930.0,2302.1 930.6,2302.1 931.1,2300.3 931.7,2298.6 932.2,2299.9 932.8,2301.5 933.3,2299.4 933.9,2298.5 934.4,2301.7 935.0,2301.5 935.5,2299.9 936.1,2300.9 936.6,2300.5 937.2,2298.8 937.7,2300.9 938.3,2300.4 938.8,2300.3 939.4,2301.0 939.9,2298.4 940.5,2300.0 941.0,2301.2 941.6,2300.7 942.1,2298.0 942.7,2299.9 943.2,2298.7 943.8,2299.5 944.3,2298.2 944.9,2299.7 945.4,2299.9 946.0,2298.6 946.5,2298.3 947.1,2297.4 947.6,2297.3 948.2,2299.1 948.7,2298.8 949.3,2298.4 949.8,2297.5 950.4,2296.7 950.9,2298.0 951.5,2297.7 952.0,2296.9 952.6,2297.1 953.1,2295.9 953.7,2296.4 954.2,2295.9 954.8,2297.0 955.3,2296.3 955.9,2296.5 956.4,2296.0 957.0,2296.8 957.5,2295.3 958.1,2298.5 958.6,2296.9 959.2,2297.2 959.7,2296.9 960.3,2295.6 960.8,2297.7 961.4,2296.9 961.9,2296.8 962.5,2297.7 963.0,2295.5 963.6,2296.2 964.1,2296.7 964.7,2294.4 965.2,2295.2 965.8,2293.5 966.3,2294.8 966.9,2294.8 967.4,2293.2 968.0,2296.4 968.5,2297.0 969.1,2293.6 969.6,2295.6 970.2,2294.7 970.7,2294.6 971.3,2295.0 971.8,2294.7 972.4,2294.8 972.9,2295.8 973.5,2295.7 974.0,2296.7 974.6,2296.1 975.1,2297.4 975.7,2298.2 976.2,2296.0 976.8,2295.4 977.3,2296.8 977.9,2293.9 978.4,2295.7 979.0,2295.0 979.5,2295.5 980.1,2295.1 980.6,2295.9 981.2,2297.3 981.7,2295.5 982.3,2296.1 982.8,2297.3 983.4,2296.9 983.9,2297.2 984.5,2296.4 985.0,2295.9 985.6,2295.7 986.1,2295.5 986.7,2294.5 987.2,2293.5 987.8,2295.2 988.3,2296.1 988.9,2295.7 989.4,2297.4 990.0,2297.6 990.5,2296.7 991.1,2296.4 991.6,2297.0 992.2,2296.0 992.7,2296.0 993.3,2295.4 993.8,2295.6 994.4,2296.7 994.9,2295.8 995.5,2296.5 996.0,2295.8 996.6,2295.7 997.1,2295.9 997.7,2293.8 998.2,2295.8 998.8,2296.9 999.3,2298.3 999.9,2297.8 1000.4,2300.0 1001.0,2299.2 1001.5,2298.2 1002.1,2296.7 1002.6,2297.3 1003.2,2297.1 1003.7,2297.4 1004.3,2297.6 1004.8,2295.9 1005.4,2297.1 1005.9,2295.9 1006.5,2295.2 1007.0,2294.6 1007.6,2296.0 1008.1,2295.7 1008.7,2294.5 1009.2,2296.8 1009.8,2296.8 1010.3,2295.4 1010.9,2297.4 1011.4,2296.4 1012.0,2296.7 1012.5,2294.9 1013.1,2295.0 1013.6,2295.6 1014.2,2295.9 1014.7,2294.9 1015.3,2293.5 1015.8,2296.4 1016.4,2296.2 1016.9,2297.8 1017.5,2296.0 1018.0,2297.6 1018.6,2296.0 1019.1,2297.6 1019.7,2296.9 1020.2,2297.1 1020.8,2296.6 1021.3,2296.4 1021.9,2298.1 1022.4,2298.2 1023.0,2297.8 1023.5,2297.6 1024.1,2298.2 1024.6,2300.0 1025.2,2298.8 1025.7,2297.6 1026.3,2297.3 1026.8,2298.9 1027.4,2297.8 1027.9,2297.0 1028.5,2299.3 1029.0,2298.3 1029.6,2296.8 1030.1,2297.0 1030.7,2298.4 1031.2,2297.5 1031.8,2297.7 1032.3,2299.7 1032.9,2299.9 1033.4,2299.9 1034.0,2298.8 1034.5,2298.4 1035.1,2296.6 1035.6,2296.0 1036.2,2296.7 1036.7,2296.6 1037.3,2297.5 1037.8,2297.6 1038.4,2297.4 1038.9,2297.3 1039.5,2296.8 1040.0,2297.5 1040.6,2295.1 1041.1,2297.8 1041.7,2296.4 1042.2,2294.6 1042.8,2296.1 1043.3,2297.5 1043.9,2295.6 1044.4,2296.7 1045.0,2296.1 1045.5,2297.5 1046.1,2296.5 1046.6,2295.8 1047.2,2297.0 1047.7,2297.2 1048.3,2296.9 1048.8,2296.0 1049.4,2294.8 1049.9,2295.6 1050.5,2293.9 1051.0,2294.6 1051.6,2295.7 1052.1,2297.0 1052.7,2297.3 1053.2,2295.2 1053.8,2297.8 1054.3,2295.1 1054.9,2297.0 1055.4,2296.7 1056.0,2297.3 1056.5,2296.5 1057.1,2297.1 1057.6,2295.4 1058.2,2295.6 1058.7,2296.2 1059.3,2294.8 1059.8,2294.7 1060.4,2295.1 1060.9,2293.6 1061.5,2294.6 1062.0,2293.8 1062.6,2295.9 1063.1,2295.7 1063.7,2295.2 1064.2,2296.7 1064.8,2295.1 1065.3,2294.8 1065.9,2295.7 1066.4,2296.0 1067.0,2295.8 1067.5,2296.4 1068.1,2294.9 1068.6,2295.0 1069.2,2296.0 1069.7,2294.6 1070.3,2296.9 1070.8,2296.5 1071.4,2295.7 1071.9,2297.1 1072.5,2295.9 1073.0,2296.6 1073.6,2294.4 1074.1,2293.8 1074.7,2294.6 1075.2,2293.4 1075.8,2295.5 1076.3,2295.3 1076.9,2292.4 1077.4,2295.7 1078.0,2296.2 1078.5,2295.0 1079.1,2295.6 1079.6,2295.3 1080.2,2293.4 1080.7,2294.9 1081.3,2293.9 1081.8,2292.8 1082.4,2292.7 1082.9,2293.0 1083.5,2294.1 1084.0,2293.8 1084.6,2293.4 1085.1,2293.5 1085.7,2293.5 1086.2,2294.9 1086.8,2294.4 1087.3,2293.6 1087.9,2295.2 1088.4,2294.6 1089.0,2293.0 1089.5,2294.2 1090.1,2294.0 1090.6,2294.2 1091.2,2294.5 1091.7,2293.2 1092.3,2292.8 1092.8,2292.1 1093.4,2293.5 1093.9,2293.3 1094.5,2291.9 1095.0,2293.6 1095.6,2294.0 1096.1,2293.9 1096.7,2293.6 1097.2,2294.6 1097.8,2293.4 1098.3,2292.6 1098.9,2295.3 1099.4,2292.8 1100.0,2294.4 1100.5,2295.7 1101.1,2293.5 1101.6,2294.9 1102.2,2293.5 1102.7,2293.4 1103.3,2291.9 1103.8,2293.9 1104.4,2292.4 1104.9,2293.5 1105.5,2291.9 1106.0,2292.9 1106.6,2293.2 1107.1,2294.6 1107.7,2294.5 1108.2,2293.0 1108.8,2295.1 1109.3,2294.3 1109.9,2293.8 1110.4,2294.0 1111.0,2295.1 1111.5,2292.7 1112.1,2293.8 1112.6,2293.4 1113.2,2294.6 1113.7,2294.4 1114.3,2293.6 1114.8,2294.4 1115.4,2294.4 1115.9,2294.2 1116.5,2294.4 1117.0,2295.1 1117.6,2293.8 1118.1,2293.7 1118.7,2294.1 1119.2,2293.2 1119.8,2293.0 1120.3,2292.4 1120.9,2292.2 1121.4,2292.1 1122.0,2292.9 1122.5,2290.8 1123.1,2292.5 1123.6,2293.2 1124.2,2294.0 1124.7,2294.3 1125.3,2291.5 1125.8,2292.2 1126.4,2292.8 1126.9,2291.7 1127.5,2293.0 1128.0,2294.1 1128.6,2294.0 1129.1,2292.6 1129.7,2294.9 1130.2,2293.5 1130.8,2294.3 1131.3,2292.6 1131.9,2293.6 1132.4,2293.8 1133.0,2293.3 1133.5,2293.0 1134.1,2292.7 1134.6,2291.7 1135.2,2291.6 1135.7,2294.2 1136.3,2291.8 1136.8,2292.1 1137.4,2293.6 1137.9,2293.3 1138.5,2294.6 1139.0,2293.1 1139.6,2294.6 1140.1,2296.3 1140.7,2293.2 1141.2,2293.4 1141.8,2292.6 1142.3,2292.6 1142.9,2292.1 1143.4,2293.0 1144.0,2293.1 1144.5,2292.6 1145.1,2293.4 1145.6,2292.0 1146.2,2293.5 1146.7,2292.6 1147.3,2293.9 1147.8,2292.8 1148.4,2290.4 1148.9,2291.7 1149.5,2290.5 1150.0,2291.5 1150.6,2293.1 1151.1,2294.5 1151.7,2293.6 1152.2,2294.0 1152.8,2294.3 1153.3,2293.7 1153.9,2292.2 1154.4,2294.7 1155.0,2294.1 1155.5,2293.8 1156.1,2293.9 1156.6,2293.9 1157.2,2293.4 1157.7,2294.0 1158.3,2292.9 1158.8,2293.9 1159.4,2292.7 1159.9,2292.7 1160.5,2292.2 1161.0,2292.4 1161.6,2290.9 1162.1,2292.0 1162.7,2292.9 1163.2,2294.0 1163.8,2292.4 1164.3,2292.8 1164.9,2292.9 1165.4,2292.9 1166.0,2291.2 1166.5,2292.2 1167.1,2294.3 1167.6,2293.1 1168.2,2291.6 1168.7,2292.6 1169.3,2293.7 1169.8,2292.8 1170.4,2293.6 1170.9,2293.0 1171.5,2292.0 1172.0,2292.7 1172.6,2291.7 1173.1,2292.8 1173.7,2293.3 1174.2,2292.7 1174.8,2293.7 1175.3,2293.6 1175.9,2293.4 1176.4,2293.1 1177.0,2292.9 1177.5,2293.7 1178.1,2293.6 1178.6,2294.3 1179.2,2291.8 1179.7,2293.7 1180.3,2293.3 1180.8,2293.3 1181.4,2292.6 1181.9,2295.4 1182.5,2293.5 1183.0,2292.4 1183.6,2292.3 1184.1,2290.2 1184.7,2291.2 1185.2,2291.5 1185.8,2291.4 1186.3,2290.6 1186.9,2291.8 1187.4,2293.8 1188.0,2293.3 1188.5,2292.7 1189.1,2293.0 1189.6,2295.0 1190.2,2293.5 1190.7,2292.8 1191.3,2292.2 1191.8,2294.0 1192.4,2294.0 1192.9,2292.3 1193.5,2293.7 1194.0,2294.2 1194.6,2294.3 1195.1,2292.8 1195.7,2293.7 1196.2,2293.6 1196.8,2295.6 1197.3,2294.0 1197.9,2293.0 1198.4,2294.4 1199.0,2292.1 1199.5,2293.1 1200.1,2293.8 1200.6,2292.4 1201.2,2292.4 1201.7,2291.9 1202.3,2292.8 1202.8,2294.3 1203.4,2293.8 1203.9,2294.1 1204.5,2292.5 1205.0,2295.1 1205.6,2291.5 1206.1,2292.3 1206.7,2291.5 1207.2,2294.2 1207.8,2294.2 1208.3,2296.0 1208.9,2293.7 1209.4,2293.8 1210.0,2291.1 1210.5,2292.1 1211.1,2294.1 1211.6,2293.3 1212.2,2294.3 1212.7,2292.7 1213.3,2293.7 1213.8,2293.4 1214.4,2291.5 1214.9,2293.5 1215.5,2293.9 1216.0,2293.0 1216.6,2293.7 1217.1,2293.5 1217.7,2292.7 1218.2,2293.5 1218.8,2294.5 1219.3,2292.0 1219.9,2293.4 1220.4,2292.8 1221.0,2293.3 1221.5,2293.3 1222.1,2293.9 1222.6,2295.0 1223.2,2294.9 1223.7,2295.9 1224.3,2293.7 1224.8,2296.1 1225.4,2294.3 1225.9,2293.9 1226.5,2295.3 1227.0,2295.1 1227.6,2295.3 1228.1,2295.5 1228.7,2295.2 1229.2,2293.9 1229.8,2294.8 1230.3,2294.1 1230.9,2293.9 1231.4,2293.0 1232.0,2293.0 1232.5,2292.6 1233.1,2294.6 1233.6,2292.9 1234.2,2294.1 1234.7,2293.3 1235.3,2292.8 1235.8,2293.7 1236.4,2292.7 1236.9,2293.8 1237.5,2294.3 1238.0,2293.8 1238.6,2294.5 1239.1,2295.2 1239.7,2295.4 1240.2,2294.8 1240.8,2296.4 1241.3,2296.0 1241.9,2295.9 1242.4,2296.3 1243.0,2295.6 1243.5,2296.1 1244.1,2295.1 1244.6,2294.3 1245.2,2296.6 1245.7,2295.9 1246.3,2293.1 1246.8,2293.8 1247.4,2294.4 1247.9,2296.4 1248.5,2294.3 1249.0,2295.0 1249.6,2294.5 1250.1,2295.6 1250.7,2294.3 1251.2,2295.5 1251.8,2295.5 1252.3,2297.3 1252.9,2296.7 1253.4,2296.6 1254.0,2295.2 1254.5,2294.6 1255.1,2295.2 1255.6,2295.8 1256.2,2294.2 1256.7,2295.1 1257.3,2294.3 1257.8,2297.1 1258.4,2295.3 1258.9,2297.1 1259.5,2297.4 1260.0,2296.6 1260.6,2296.2 1261.1,2296.8 1261.7,2297.3 1262.2,2294.5 1262.8,2294.8 1263.3,2292.3 1263.9,2294.1 1264.4,2292.9 1265.0,2293.2 1265.5,2293.6 1266.1,2293.0 1266.6,2294.4 1267.2,2294.8 1267.7,2295.1 1268.3,2294.2 1268.8,2294.3 1269.4,2295.7 1269.9,2296.1 1270.5,2294.8 1271.0,2295.5 1271.6,2295.6 1272.1,2296.7 1272.7,2295.7 1273.2,2294.1 1273.8,2296.7 1274.3,2296.9 1274.9,2296.2 1275.4,2296.7 1276.0,2295.9 1276.5,2294.9 1277.1,2296.4 1277.6,2295.7 1278.2,2294.8 1278.7,2296.5 1279.3,2295.2 1279.8,2292.5 1280.4,2295.5 1280.9,2295.2 1281.5,2294.8 1282.0,2295.0 1282.6,2295.8 1283.1,2295.9 1283.7,2295.7 1284.2,2296.0 1284.8,2294.3 1285.3,2296.5 1285.9,2297.5 1286.4,2295.3 1287.0,2295.4 1287.5,2295.3 1288.1,2296.0 1288.6,2293.8 1289.2,2296.0 1289.7,2294.7 1290.3,2295.4 1290.8,2296.0 1291.4,2296.5 1291.9,2296.0 1292.5,2296.7 1293.0,2297.3 1293.6,2296.5 1294.1,2297.3 1294.7,2295.8 1295.2,2294.2 1295.8,2295.7 1296.3,2295.9 1296.9,2296.1 1297.4,2295.0 1298.0,2295.4 1298.5,2296.4 1299.1,2296.9 1299.6,2296.5 1300.2,2297.6 1300.7,2296.7 1301.3,2296.3 1301.8,2295.8 1302.4,2294.7 1302.9,2296.3 1303.5,2295.5 1304.0,2295.7 1304.6,2296.6 1305.1,2294.5 1305.7,2296.1 1306.2,2293.7 1306.8,2293.7 1307.3,2293.4 1307.9,2294.4 1308.4,2292.5 1309.0,2295.0 1309.5,2295.9 1310.1,2297.0 1310.6,2297.1 1311.2,2297.5 1311.7,2297.1 1312.3,2296.1 1312.8,2296.0 1313.4,2295.2 1313.9,2295.4 1314.5,2296.9 1315.0,2294.4 1315.6,2296.3 1316.1,2296.0 1316.7,2294.2 1317.2,2294.6 1317.8,2295.9 1318.3,2296.8 1318.9,2295.9 1319.4,2296.5 1320.0,2295.5 1320.5,2294.5 1321.1,2296.4 1321.6,2296.9 1322.2,2296.1 1322.7,2296.2 1323.3,2295.1 1323.8,2297.0 1324.4,2297.7 1324.9,2296.2 1325.5,2294.8 1326.0,2294.8 1326.6,2295.9 1327.1,2294.5 1327.7,2294.6 1328.2,2293.6 1328.8,2294.6 1329.3,2293.6 1329.9,2295.9 1330.4,2296.8 1331.0,2297.0 1331.5,2294.2 1332.1,2296.5 1332.6,2295.4 1333.2,2295.4 1333.7,2295.1 1334.3,2295.3 1334.8,2295.0 1335.4,2294.8 1335.9,2294.6 1336.5,2294.3 1337.0,2296.3 1337.6,2295.7 1338.1,2295.8 1338.7,2297.1 1339.2,2296.8 1339.8,2296.2 1340.3,2296.2 1340.9,2294.4 1341.4,2295.0 1342.0,2295.6 1342.5,2296.1 1343.1,2296.3 1343.6,2294.8 1344.2,2295.3 1344.7,2295.8 1345.3,2296.4 1345.8,2295.2 1346.4,2295.5 1346.9,2295.5 1347.5,2296.7 1348.0,2296.8 1348.6,2296.9 1349.1,2295.1 1349.7,2295.7 1350.2,2294.8 1350.8,2295.2 1351.3,2294.3 1351.9,2297.2 1352.4,2295.4 1353.0,2296.4 1353.5,2295.6 1354.1,2294.5 1354.6,2294.1 1355.2,2295.2 1355.7,2293.9 1356.3,2293.7 1356.8,2294.0 1357.4,2294.4 1357.9,2294.9 1358.5,2296.9 1359.0,2295.6 1359.6,2296.3 1360.1,2295.5 1360.7,2295.0 1361.2,2294.9 1361.8,2294.5 1362.3,2295.9 1362.9,2295.8 1363.4,2295.8 1364.0,2295.4 1364.5,2295.5 1365.1,2294.0 1365.6,2292.7 1366.2,2292.8 1366.7,2291.7 1367.3,2293.7 1367.8,2295.3 1368.4,2293.9 1368.9,2295.7 1369.5,2297.0 1370.0,2295.2 1370.6,2295.9 1371.1,2295.9 1371.7,2296.3 1372.2,2294.9 1372.8,2293.8 1373.3,2293.9 1373.9,2293.6 1374.4,2294.4 1375.0,2295.4 1375.5,2295.8 1376.1,2295.3 1376.6,2296.6 1377.2,2294.7 1377.7,2296.0 1378.3,2296.9 1378.8,2295.3 1379.4,2294.9 1379.9,2296.5 1380.5,2296.8 1381.0,2295.9 1381.6,2294.3 1382.1,2296.9 1382.7,2297.8 1383.2,2295.2 1383.8,2298.0 1384.3,2295.2 1384.9,2297.1 1385.4,2297.1 1386.0,2296.9 1386.5,2295.5 1387.1,2296.7 1387.6,2294.5 1388.2,2295.5 1388.7,2295.1 1389.3,2294.8 1389.8,2293.6 1390.4,2294.0 1390.9,2293.4 1391.5,2296.9 1392.0,2295.7 1392.6,2294.9 1393.1,2295.9 1393.7,2295.9 1394.2,2297.7 1394.8,2296.2 1395.3,2298.3 1395.9,2296.4 1396.4,2297.7 1397.0,2298.1 1397.5,2297.1 1398.1,2297.8 1398.6,2296.6 1399.2,2295.6 1399.7,2295.5 1400.3,2297.0 1400.8,2296.0 1401.4,2295.9 1401.9,2295.1 1402.5,2295.4 1403.0,2295.9 1403.6,2297.3 1404.1,2297.7 1404.7,2296.0 1405.2,2298.2 1405.8,2296.5 1406.3,2296.3 1406.9,2296.4 1407.4,2295.5 1408.0,2297.1 1408.5,2296.5 1409.1,2297.0 1409.6,2295.0 1410.2,2295.3 1410.7,2297.2 1411.3,2297.4 1411.8,2295.5 1412.4,2295.0 1412.9,2294.9 1413.5,2294.6 1414.0,2294.4 1414.6,2294.7 1415.1,2297.0 1415.7,2295.3 1416.2,2296.6 1416.8,2294.8 1417.3,2297.0 1417.9,2297.7 1418.4,2296.1 1419.0,2297.0 1419.5,2296.1 1420.1,2297.7 1420.6,2295.3 1421.2,2295.4 1421.7,2294.8 1422.3,2295.7 1422.8,2296.5 1423.4,2295.1 1423.9,2296.8 1424.5,2294.9 1425.0,2295.4 1425.6,2296.2 1426.1,2294.5 1426.7,2295.2 1427.2,2295.0 1427.8,2294.8 1428.3,2296.2 1428.9,2294.1 1429.4,2295.3 1430.0,2296.3 1430.5,2296.6 1431.1,2295.2 1431.6,2294.4 1432.2,2296.6 1432.7,2295.4 1433.3,2295.4 1433.8,2295.0 1434.4,2295.9 1434.9,2295.1 1435.5,2293.7 1436.0,2295.0 1436.6,2296.0 1437.1,2293.7 1437.7,2294.4 1438.2,2294.8 1438.8,2294.7 1439.3,2294.3 1439.9,2295.3 1440.4,2295.6 1441.0,2296.9 1441.5,2294.6 1442.1,2295.3 1442.6,2294.4 1443.2,2296.3 1443.7,2295.5 1444.3,2295.5 1444.8,2295.2 1445.4,2296.5 1445.9,2294.7 1446.5,2295.2 1447.0,2295.2 1447.6,2293.3 1448.1,2292.3 1448.7,2294.3 1449.2,2293.8 1449.8,2294.8 1450.3,2294.6 1450.9,2294.9 1451.4,2295.3 1452.0,2295.9 1452.5,2295.3 1453.1,2295.0 1453.6,2296.3 1454.2,2296.1 1454.7,2295.3 1455.3,2297.1 1455.8,2295.3 1456.4,2296.5 1456.9,2296.4 1457.5,2294.9 1458.0,2296.6 1458.6,2294.1 1459.1,2295.0 1459.7,2294.4 1460.2,2295.8 1460.8,2294.5 1461.3,2293.3 1461.9,2293.6 1462.4,2293.0 1463.0,2294.6 1463.5,2293.0 1464.1,2293.3 1464.6,2294.6 1465.2,2294.2 1465.7,2295.2 1466.3,2295.2 1466.8,2294.6 1467.4,2293.4 1467.9,2292.5 1468.5,2294.2 1469.0,2293.8 1469.6,2294.6 1470.1,2294.5 1470.7,2294.4 1471.2,2294.3 1471.8,2295.4 1472.3,2291.9 1472.9,2293.0 1473.4,2294.8 1474.0,2294.1 1474.5,2293.3 1475.1,2293.4 1475.6,2294.6 1476.2,2294.4 1476.7,2294.4 1477.3,2293.1 1477.8,2295.8 1478.4,2294.8 1478.9,2296.3 1479.5,2296.5 1480.0,2294.6 1480.6,2294.8 1481.1,2294.5 1481.7,2294.7 1482.2,2295.8 1482.8,2295.9 1483.3,2294.6 1483.9,2294.0 1484.4,2293.4 1485.0,2295.3 1485.5,2294.0 1486.1,2293.3 1486.6,2294.1 1487.2,2294.7 1487.7,2293.8 1488.3,2293.5 1488.8,2292.3 1489.4,2293.8 1489.9,2292.5 1490.5,2293.8 1491.0,2293.7 1491.6,2294.3 1492.1,2294.1 1492.7,2295.5 1493.2,2294.3 1493.8,2295.4 1494.3,2296.6 1494.9,2297.1 1495.4,2294.1 1496.0,2295.5 1496.5,2294.9 1497.1,2294.3 1497.6,2294.8 1498.2,2292.4 1498.7,2293.5 1499.3,2291.9 1499.8,2293.8 1500.4,2293.0 1500.9,2295.2 1501.5,2294.3 1502.0,2293.6 1502.6,2292.3 1503.1,2291.1 1503.7,2293.2 1504.2,2292.3 1504.8,2293.2 1505.3,2291.4 1505.9,2292.2 1506.4,2291.7 1507.0,2292.7 1507.5,2292.6 1508.1,2291.0 1508.6,2292.3 1509.2,2293.3 1509.7,2292.6 1510.3,2293.2 1510.8,2291.1 1511.4,2290.1 1511.9,2290.7 1512.5,2290.3 1513.0,2292.9 1513.6,2291.9 1514.1,2293.1 1514.7,2294.3 1515.2,2293.5 1515.8,2291.5 1516.3,2291.0 1516.9,2293.3 1517.4,2293.3 1518.0,2291.7 1518.5,2293.2 1519.1,2293.4 1519.6,2292.9 1520.2,2291.4 1520.7,2293.2 1521.3,2291.0 1521.8,2292.2 1522.4,2290.5 1522.9,2291.0 1523.5,2292.7 1524.0,2291.2 1524.6,2290.8 1525.1,2292.2 1525.7,2292.1 1526.2,2290.9 1526.8,2291.9 1527.3,2291.8 1527.9,2291.4 1528.4,2292.7 1529.0,2290.8 1529.5,2292.6 1530.1,2291.3 1530.6,2290.1 1531.2,2290.0 1531.7,2289.7 1532.3,2289.1 1532.8,2290.9 1533.4,2289.0 1533.9,2290.2 1534.5,2290.7 1535.0,2290.6 1535.6,2291.7 1536.1,2289.8 1536.7,2289.9 1537.2,2291.5 1537.8,2291.2 1538.3,2289.9 1538.9,2288.9 1539.4,2289.2 1540.0,2290.9 1540.5,2292.2 1541.1,2290.2 1541.6,2290.6 1542.2,2289.7 1542.7,2291.2 1543.3,2289.9 1543.8,2289.8 1544.4,2288.3 1544.9,2289.6 1545.5,2288.8 1546.0,2289.1 1546.6,2287.7 1547.1,2287.2 1547.7,2287.8 1548.2,2287.6 1548.8,2288.6 1549.3,2288.7 1549.9,2286.6 1550.4,2286.0 1551.0,2288.4 1551.5,2286.5 1552.1,2285.9 1552.6,2286.6 1553.2,2286.1 1553.7,2286.4 1554.3,2287.3 1554.8,2287.2 1555.4,2287.7 1555.9,2287.4 1556.5,2287.8 1557.0,2286.5 1557.6,2287.8 1558.1,2286.4 1558.7,2285.7 1559.2,2286.5 1559.8,2285.9 1560.3,2286.3 1560.9,2286.1 1561.4,2284.3 1562.0,2286.4 1562.5,2286.0 1563.1,2284.5 1563.6,2286.9 1564.2,2283.4 1564.7,2285.5 1565.3,2284.4 1565.8,2284.4 1566.4,2285.0 1566.9,2284.7 1567.5,2284.2 1568.0,2282.1 1568.6,2284.2 1569.1,2282.7 1569.7,2283.2 1570.2,2283.7 1570.8,2282.6 1571.3,2285.2 1571.9,2284.5 1572.4,2283.9 1573.0,2284.3 1573.5,2283.4 1574.1,2283.1 1574.6,2283.8 1575.2,2283.2 1575.7,2283.2 1576.3,2283.7 1576.8,2282.4 1577.4,2279.8 1577.9,2283.0 1578.5,2282.9 1579.0,2283.4 1579.6,2283.8 1580.1,2283.3 1580.7,2284.1 1581.2,2283.9 1581.8,2284.9 1582.3,2282.2 1582.9,2281.7 1583.4,2282.5 1584.0,2285.1 1584.5,2281.3 1585.1,2283.1 1585.6,2282.4 1586.2,2283.4 1586.7,2283.9 1587.3,2282.8 1587.8,2285.0 1588.4,2286.1 1588.9,2284.2 1589.5,2285.5 1590.0,2283.7 1590.6,2283.4 1591.1,2284.8 1591.7,2284.7 1592.2,2282.9 1592.8,2284.4 1593.3,2284.9 1593.9,2282.8 1594.4,2281.6 1595.0,2283.1 1595.5,2283.6 1596.1,2282.6 1596.6,2283.2 1597.2,2282.1 1597.7,2282.6 1598.3,2281.9 1598.8,2282.1 1599.4,2282.5 1599.9,2281.9 1600.5,2282.0 1601.0,2281.0 1601.6,2280.9 1602.1,2282.2 1602.7,2282.7 1603.2,2282.2 1603.8,2282.3 1604.3,2281.9 1604.9,2281.7 1605.4,2281.7 1606.0,2282.4 1606.5,2283.6 1607.1,2283.1 1607.6,2282.2 1608.2,2283.1 1608.7,2283.2 1609.3,2284.3 1609.8,2285.2 1610.4,2281.9 1610.9,2283.4 1611.5,2282.8 1612.0,2284.7 1612.6,2281.5 1613.1,2282.4 1613.7,2283.3 1614.2,2281.4 1614.8,2281.5 1615.3,2281.4 1615.9,2281.6 1616.4,2280.9 1617.0,2282.2 1617.5,2282.0 1618.1,2282.2 1618.6,2284.2 1619.2,2281.3 1619.7,2283.2 1620.3,2281.7 1620.8,2281.3 1621.4,2280.4 1621.9,2281.0 1622.5,2281.4 1623.0,2280.1 1623.6,2281.7 1624.1,2279.5 1624.7,2280.8 1625.2,2280.4 1625.8,2281.3 1626.3,2281.9 1626.9,2280.5 1627.4,2281.3 1628.0,2281.0 1628.5,2282.5 1629.1,2279.9 1629.6,2280.0 1630.2,2281.4 1630.7,2279.9 1631.3,2281.8 1631.8,2281.9 1632.4,2280.9 1632.9,2281.1 1633.5,2282.2 1634.0,2282.4 1634.6,2281.7 1635.1,2282.1 1635.7,2280.6 1636.2,2281.1 1636.8,2281.7 1637.3,2281.8 1637.9,2280.4 1638.4,2280.9 1639.0,2281.2 1639.5,2282.1 1640.1,2282.2 1640.6,2280.5 1641.2,2280.4 1641.7,2281.5 1642.3,2279.2 1642.8,2282.1 1643.4,2281.1 1643.9,2280.3 1644.5,2281.9 1645.0,2281.1 1645.6,2280.7 1646.1,2283.5 1646.7,2281.5 1647.2,2281.6 1647.8,2281.7 1648.3,2281.2 1648.9,2281.5 1649.4,2280.2 1650.0,2280.9 1650.5,2279.7 1651.1,2279.3 1651.6,2280.1 1652.2,2278.4 1652.7,2279.8 1653.3,2280.8 1653.8,2281.4 1654.4,2280.6 1654.9,2280.4 1655.5,2281.8 1656.0,2279.4 1656.6,2282.0 1657.1,2279.6 1657.7,2280.3 1658.2,2282.0 1658.8,2281.1 1659.3,2280.2 1659.9,2281.9 1660.4,2280.7 1661.0,2279.5 1661.5,2280.2 1662.1,2279.8 1662.6,2279.2 1663.2,2279.7 1663.7,2278.9 1664.3,2276.8 1664.8,2278.0 1665.4,2278.3 1665.9,2278.9 1666.5,2278.2 1667.0,2280.1 1667.6,2278.0 1668.1,2279.0 1668.7,2279.2 1669.2,2279.8 1669.8,2279.9 1670.3,2280.5 1670.9,2280.8 1671.4,2282.1 1672.0,2279.9 1672.5,2280.8 1673.1,2279.8 1673.6,2279.8 1674.2,2278.9 1674.7,2279.0 1675.3,2280.7 1675.8,2279.6 1676.4,2280.1 1676.9,2278.9 1677.5,2280.6 1678.0,2280.7 1678.6,2280.6 1679.1,2280.9 1679.7,2279.6 1680.2,2278.7 1680.8,2279.4 1681.3,2279.1 1681.9,2280.1 1682.4,2278.0 1683.0,2278.5 1683.5,2279.8 1684.1,2278.9 1684.6,2281.2 1685.2,2281.1 1685.7,2278.8 1686.3,2279.0 1686.8,2278.9 1687.4,2277.6 1687.9,2277.7 1688.5,2279.8 1689.0,2279.8 1689.6,2278.6 1690.1,2278.5 1690.7,2278.1 1691.2,2278.1 1691.8,2280.4 1692.3,2280.0 1692.9,2279.3 1693.4,2277.8 1694.0,2277.9 1694.5,2278.7 1695.1,2277.8 1695.6,2279.4 1696.2,2279.5 1696.7,2278.2 1697.3,2281.2 1697.8,2280.0 1698.4,2278.6 1698.9,2279.9 1699.5,2278.6 1700.0,2280.5 1700.6,2279.3 1701.1,2279.5 1701.7,2280.4 1702.2,2277.7 1702.8,2279.4 1703.3,2280.3 1703.9,2280.3 1704.4,2279.2 1705.0,2280.4 1705.5,2281.4 1706.1,2278.7 1706.6,2278.8 1707.2,2280.1 1707.7,2279.9 1708.3,2280.1 1708.8,2282.2 1709.4,2280.4 1709.9,2281.9 1710.5,2280.2 1711.0,2278.9 1711.6,2281.7 1712.1,2282.6 1712.7,2281.8 1713.2,2283.7 1713.8,2282.1 1714.3,2282.1 1714.9,2281.1 1715.4,2279.3 1716.0,2280.8 1716.5,2280.7 1717.1,2280.7 1717.6,2280.8 1718.2,2281.1 1718.7,2281.1 1719.3,2282.0 1719.8,2281.7 1720.4,2281.4 1720.9,2283.1 1721.5,2283.7 1722.0,2282.1 1722.6,2282.6 1723.1,2283.6 1723.7,2282.4 1724.2,2285.2 1724.8,2283.5 1725.3,2284.0 1725.9,2283.4 1726.4,2283.2 1727.0,2282.0 1727.5,2280.9 1728.1,2280.2 1728.6,2280.1 1729.2,2281.1 1729.7,2280.7 1730.3,2282.6 1730.8,2282.5 1731.4,2283.1 1731.9,2283.2 1732.5,2284.5 1733.0,2283.1 1733.6,2282.8 1734.1,2284.8 1734.7,2283.0 1735.2,2284.4 1735.8,2282.5 1736.3,2282.3 1736.9,2282.4 1737.4,2280.8 1738.0,2283.6 1738.5,2284.2 1739.1,2282.7 1739.6,2284.6 1740.2,2284.0 1740.7,2283.3 1741.3,2284.8 1741.8,2282.1 1742.4,2282.7 1742.9,2283.3 1743.5,2281.9 1744.0,2282.4 1744.6,2280.9 1745.1,2282.2 1745.7,2282.6 1746.2,2281.5 1746.8,2281.9 1747.3,2282.0 1747.9,2282.5 1748.4,2283.3 1749.0,2283.3 1749.5,2282.6 1750.1,2284.6 1750.6,2285.9 1751.2,2284.7 1751.7,2284.1 1752.3,2284.0 1752.8,2284.3 1753.4,2282.6 1753.9,2285.7 1754.5,2284.7 1755.0,2287.5 1755.6,2285.9 1756.1,2285.9 1756.7,2286.8 1757.2,2286.8 1757.8,2285.5 1758.3,2284.5 1758.9,2284.1 1759.4,2283.9 1760.0,2284.9 1760.5,2284.2 1761.1,2285.0 1761.6,2283.9 1762.2,2284.1 1762.7,2283.4 1763.3,2283.7 1763.8,2283.3 1764.4,2282.3 1764.9,2284.6 1765.5,2284.2 1766.0,2284.5 1766.6,2286.1 1767.1,2282.2 1767.7,2284.4 1768.2,2284.4 1768.8,2285.7 1769.3,2284.6 1769.9,2284.9 1770.4,2284.4 1771.0,2285.9 1771.5,2286.8 1772.1,2284.5 1772.6,2285.6 1773.2,2286.1 1773.7,2285.6 1774.3,2284.6 1774.8,2287.1 1775.4,2284.7 1775.9,2286.9 1776.5,2284.5 1777.0,2286.3 1777.6,2286.4 1778.1,2284.6 1778.7,2283.8 1779.2,2284.5 1779.8,2284.5 1780.3,2283.6 1780.9,2284.7 1781.4,2286.2 1782.0,2286.3 1782.5,2287.0 1783.1,2284.5 1783.6,2284.7 1784.2,2284.9 1784.7,2284.5 1785.3,2285.2 1785.8,2283.4 1786.4,2286.2 1786.9,2286.1 1787.5,2285.9 1788.0,2285.0 1788.6,2283.7 1789.1,2283.9 1789.7,2286.1 1790.2,2285.3 1790.8,2287.2 1791.3,2285.9 1791.9,2284.5 1792.4,2286.7 1793.0,2285.4 1793.5,2285.6 1794.1,2285.9 1794.6,2283.7 1795.2,2283.7 1795.7,2285.9 1796.3,2283.6 1796.8,2284.2 1797.4,2284.5 1797.9,2284.9 1798.5,2285.8 1799.0,2285.8 1799.6,2285.1 1800.1,2285.3 1800.7,2285.7 1801.2,2283.2 1801.8,2284.7 1802.3,2285.0 1802.9,2283.9 1803.4,2287.0 1804.0,2286.5 1804.5,2286.5 1805.1,2287.2 1805.6,2286.9 1806.2,2286.4 1806.7,2286.5 1807.3,2285.7 1807.8,2287.1 1808.4,2286.8 1808.9,2285.5 1809.5,2286.9 1810.0,2287.6 1810.6,2285.2 1811.1,2288.2 1811.7,2287.9 1812.2,2288.1 1812.8,2287.2 1813.3,2288.8 1813.9,2286.8 1814.4,2287.4 1815.0,2286.3 1815.5,2285.7" fill="none" stroke="#000" stroke-width="8.1" stroke-linejoin="round" stroke-linecap="butt"/>
<polyline points="171.3,1949.1 171.9,1950.0 172.4,1949.3 173.0,1948.7 173.5,1949.9 174.1,1950.0 174.6,1949.9 175.2,1950.9 175.7,1951.8 176.3,1950.0 176.8,1950.1 177.4,1948.7 177.9,1949.0 178.5,1948.0 179.0,1948.9 179.6,1947.7 180.1,1948.6 180.7,1948.1 181.2,1947.9 181.8,1949.4 182.3,1947.5 182.9,1950.4 183.4,1949.1 184.0,1947.9 184.5,1948.5 185.1,1948.3 185.6,1948.4 186.2,1949.2 186.7,1947.9 187.3,1945.9 187.8,1944.7 188.4,1945.5 188.9,1945.7 189.5,1943.3 190.0,1945.1 190.6,1944.9 191.1,1945.0 191.7,1946.3 192.2,1944.4 192.8,1944.6 193.3,1942.8 193.9,1943.5 194.4,1941.4 195.0,1941.7 195.5,1941.8 196.1,1942.2 196.6,1941.9 197.2,1940.6 197.7,1942.8 198.3,1943.1 198.8,1944.5 199.4,1943.0 199.9,1944.4 200.5,1945.6 201.0,1944.5 201.6,1943.3 202.1,1943.0 202.7,1943.4 203.2,1944.2 203.8,1943.0 204.3,1945.0 204.9,1943.8 205.4,1945.6 206.0,1946.2 206.5,1945.3 207.1,1947.6 207.6,1946.0 208.2,1944.0 208.7,1945.7 209.3,1945.8 209.8,1945.0 210.4,1946.2 210.9,1947.3 211.5,1946.7 212.0,1947.1 212.6,1947.7 213.1,1946.8 213.7,1947.6 214.2,1947.0 214.8,1946.7 215.3,1948.7 215.9,1948.6 216.4,1949.6 217.0,1950.0 217.5,1950.3 218.1,1948.1 218.6,1950.0 219.2,1949.1 219.7,1949.3 220.3,1951.6 220.8,1950.0 221.4,1952.7 221.9,1951.2 222.5,1953.0 223.0,1953.0 223.6,1952.2 224.1,1953.6 224.7,1950.3 225.2,1953.0 225.8,1952.7 226.3,1953.5 226.9,1952.2 227.4,1952.6 228.0,1951.4 228.5,1951.4 229.1,1950.7 229.6,1948.1 230.2,1950.4 230.7,1948.1 231.3,1949.5 231.8,1946.7 232.4,1946.9 232.9,1947.9 233.5,1946.0 234.0,1946.8 234.6,1945.3 235.1,1945.1 235.7,1944.1 236.2,1943.5 236.8,1944.0 237.3,1940.7 237.9,1940.7 238.4,1939.2 239.0,1938.8 239.5,1937.9 240.1,1937.4 240.6,1937.2 241.2,1938.3 241.7,1934.7 242.3,1935.5 242.8,1935.9 243.4,1936.8 243.9,1934.8 244.5,1938.7 245.0,1938.1 245.6,1940.0 246.1,1939.3 246.7,1938.7 247.2,1938.2 247.8,1939.2 248.3,1939.5 248.9,1938.3 249.4,1940.1 250.0,1940.1 250.5,1941.3 251.1,1940.6 251.6,1941.7 252.2,1942.9 252.7,1944.5 253.3,1944.4 253.8,1943.8 254.4,1944.6 254.9,1946.7 255.5,1946.8 256.0,1946.5 256.6,1947.9 257.1,1947.5 257.7,1948.9 258.2,1949.9 258.8,1952.0 259.3,1951.2 259.9,1950.1 260.4,1950.7 261.0,1950.3 261.5,1951.8 262.1,1951.6 262.6,1951.7 263.2,1951.1 263.7,1952.8 264.3,1953.0 264.8,1951.3 265.4,1952.8 265.9,1953.1 266.5,1952.8 267.0,1952.7 267.6,1952.9 268.1,1953.8 268.7,1954.4 269.2,1954.5 269.8,1954.0 270.3,1952.9 270.9,1953.7 271.4,1954.0 272.0,1954.3 272.5,1955.6 273.1,1954.7 273.6,1953.3 274.2,1955.7 274.7,1955.3 275.3,1955.8 275.8,1956.7 276.4,1958.1 276.9,1957.3 277.5,1958.3 278.0,1957.9 278.6,1957.8 279.1,1958.3 279.7,1959.6 280.2,1957.7 280.8,1958.4 281.3,1958.4 281.9,1958.4 282.4,1957.3 283.0,1958.0 283.5,1957.6 284.1,1956.4 284.6,1957.3 285.2,1957.7 285.7,1959.7 286.3,1956.8 286.8,1956.6 287.4,1958.0 287.9,1958.3 288.5,1958.2 289.0,1957.6 289.6,1956.0 290.1,1960.1 290.7,1958.0 291.2,1958.1 291.8,1956.5 292.3,1955.5 292.9,1955.1 293.4,1955.7 294.0,1954.2 294.5,1954.7 295.1,1950.9 295.6,1950.6 296.2,1950.1 296.7,1950.2 297.3,1949.8 297.8,1947.0 298.4,1947.2 298.9,1945.8 299.5,1944.6 300.0,1944.5 300.6,1941.7 301.1,1939.6 301.7,1937.6 302.2,1934.6 302.8,1933.1 303.3,1929.7 303.9,1926.5 304.4,1923.8 305.0,1922.6 305.5,1921.6 306.1,1919.5 306.6,1916.8 307.2,1916.0 307.7,1914.3 308.3,1915.6 308.8,1913.4 309.4,1910.3 309.9,1910.7 310.5,1911.6 311.0,1911.8 311.6,1912.0 312.1,1910.6 312.7,1915.0 313.2,1914.1 313.8,1917.3 314.3,1919.6 314.9,1921.3 315.4,1924.7 316.0,1928.1 316.5,1930.3 317.1,1932.8 317.6,1934.9 318.2,1939.0 318.7,1940.5 319.3,1940.9 319.8,1942.8 320.4,1945.8 320.9,1947.6 321.5,1948.1 322.0,1947.6 322.6,1952.6 323.1,1951.5 323.7,1954.4 324.2,1955.3 324.8,1956.5 325.3,1956.8 325.9,1956.8 326.4,1957.5 327.0,1957.1 327.5,1953.9 328.1,1952.7 328.6,1950.9 329.2,1948.3 329.7,1943.7 330.3,1941.2 330.8,1936.6 331.4,1933.3 331.9,1927.9 332.5,1927.7 333.0,1923.9 333.6,1923.7 334.1,1921.9 334.7,1918.9 335.2,1919.0 335.8,1918.3 336.3,1918.5 336.9,1920.3 337.4,1921.4 338.0,1922.1 338.5,1922.7 339.1,1926.6 339.6,1926.8 340.2,1929.4 340.7,1931.6 341.3,1933.7 341.8,1935.0 342.4,1935.9 342.9,1938.3 343.5,1939.6 344.0,1942.2 344.6,1941.8 345.1,1942.0 345.7,1941.2 346.2,1942.2 346.8,1941.1 347.3,1939.6 347.9,1939.6 348.4,1940.3 349.0,1939.4 349.5,1937.7 350.1,1936.4 350.6,1936.7 351.2,1935.8 351.7,1937.8 352.3,1938.2 352.8,1937.1 353.4,1937.1 353.9,1936.6 354.5,1935.2 355.0,1935.2 355.6,1932.7 356.1,1931.9 356.7,1932.0 357.2,1929.1 357.8,1928.7 358.3,1928.0 358.9,1926.4 359.4,1924.9 360.0,1921.2 360.5,1917.1 361.1,1909.9 361.6,1899.6 362.2,1889.1 362.7,1875.8 363.3,1860.9 363.8,1847.4 364.4,1829.5 364.9,1810.6 365.5,1798.5 366.0,1787.9 366.6,1780.4 367.1,1782.7 367.7,1790.8 368.2,1805.0 368.8,1821.1 369.3,1844.8 369.9,1872.7 370.4,1904.7 371.0,1920.5 371.5,1933.8 372.1,1940.9 372.6,1946.6 373.2,1950.9 373.7,1951.9 374.3,1953.7 374.8,1954.6 375.4,1958.4 375.9,1959.2 376.5,1959.9 377.0,1962.6 377.6,1961.8 378.1,1962.9 378.7,1963.6 379.2,1965.3 379.8,1964.7 380.3,1966.1 380.9,1967.1 381.4,1965.9 382.0,1968.0 382.5,1965.7 383.1,1967.5 383.6,1967.3 384.2,1966.9 384.7,1967.1 385.3,1968.0 385.8,1966.8 386.4,1965.7 386.9,1964.4 387.5,1963.2 388.0,1963.2 388.6,1961.6 389.1,1959.5 389.7,1958.5 390.2,1957.5 390.8,1953.7 391.3,1954.9 391.9,1953.5 392.4,1955.5 393.0,1953.5 393.5,1956.4 394.1,1956.0 394.6,1957.9 395.2,1960.0 395.7,1961.2 396.3,1963.1 396.8,1963.0 397.4,1965.4 397.9,1966.7 398.5,1967.6 399.0,1968.3 399.6,1968.6 400.1,1965.5 400.7,1966.8 401.2,1966.2 401.8,1966.4 402.3,1966.7 402.9,1966.4 403.4,1964.0 404.0,1966.1 404.5,1965.1 405.1,1963.9 405.6,1965.0 406.2,1964.3 406.7,1962.2 407.3,1964.5 407.8,1965.3 408.4,1963.2 408.9,1961.4 409.5,1962.1 410.0,1960.1 410.6,1961.3 411.1,1961.6 411.7,1960.7 412.2,1959.3 412.8,1961.0 413.3,1960.0 413.9,1958.5 414.4,1959.1 415.0,1957.8 415.5,1955.3 416.1,1957.2 416.6,1955.6 417.2,1955.0 417.7,1956.5 418.3,1954.3 418.8,1954.5 419.4,1953.8 419.9,1954.1 420.5,1954.9 421.0,1955.0 421.6,1955.9 422.1,1955.6 422.7,1953.8 423.2,1954.7 423.8,1955.6 424.3,1956.2 424.9,1957.0 425.4,1959.1 426.0,1958.9 426.5,1959.5 427.1,1959.8 427.6,1959.7 428.2,1959.3 428.7,1960.6 429.3,1961.2 429.8,1962.1 430.4,1961.3 430.9,1961.7 431.5,1961.7 432.0,1961.5 432.6,1963.4 433.1,1963.3 433.7,1963.5 434.2,1963.3 434.8,1960.8 435.3,1962.8 435.9,1960.8 436.4,1961.2 437.0,1959.8 437.5,1959.5 438.1,1958.3 438.6,1957.5 439.2,1959.5 439.7,1959.9 440.3,1960.3 440.8,1959.8 441.4,1959.9 441.9,1959.1 442.5,1958.1 443.0,1957.2 443.6,1957.0 444.1,1958.3 444.7,1956.2 445.2,1956.4 445.8,1957.3 446.3,1956.6 446.9,1956.9 447.4,1957.5 448.0,1956.4 448.5,1955.6 449.1,1957.9 449.6,1955.7 450.2,1959.3 450.7,1959.1 451.3,1960.0 451.8,1961.5 452.4,1961.4 452.9,1962.0 453.5,1962.3 454.0,1964.4 454.6,1964.4 455.1,1963.3 455.7,1965.9 456.2,1965.0 456.8,1966.4 457.3,1965.5 457.9,1965.2 458.4,1965.1 459.0,1963.8 459.5,1964.5 460.1,1964.4 460.6,1963.8 461.2,1965.7 461.7,1965.7 462.3,1965.5 462.8,1965.1 463.4,1965.1 463.9,1965.9 464.5,1965.9 465.0,1966.9 465.6,1965.9 466.1,1965.3 466.7,1964.9 467.2,1964.4 467.8,1965.6 468.3,1964.3 468.9,1964.0 469.4,1965.1 470.0,1963.3 470.5,1962.4 471.1,1964.3 471.6,1964.4 472.2,1964.2 472.7,1962.7 473.3,1963.0 473.8,1961.5 474.4,1962.7 474.9,1962.8 475.5,1962.1 476.0,1962.9 476.6,1962.7 477.1,1961.9 477.7,1962.7 478.2,1961.4 478.8,1961.3 479.3,1961.9 479.9,1962.0 480.4,1958.8 481.0,1959.7 481.5,1958.9 482.1,1960.1 482.6,1960.0 483.2,1960.1 483.7,1958.6 484.3,1960.0 484.8,1959.0 485.4,1958.7 485.9,1959.6 486.5,1959.4 487.0,1960.3 487.6,1959.7 488.1,1962.0 488.7,1961.3 489.2,1961.6 489.8,1961.8 490.3,1963.1 490.9,1965.0 491.4,1963.3 492.0,1962.0 492.5,1961.6 493.1,1962.5 493.6,1961.7 494.2,1965.9 494.7,1963.9 495.3,1963.8 495.8,1965.2 496.4,1964.1 496.9,1964.5 497.5,1965.0 498.0,1965.2 498.6,1966.0 499.1,1966.0 499.7,1966.2 500.2,1968.2 500.8,1965.7 501.3,1968.8 501.9,1967.0 502.4,1969.1 503.0,1968.3 503.5,1966.8 504.1,1967.0 504.6,1967.6 505.2,1966.3 505.7,1966.9 506.3,1968.9 506.8,1967.4 507.4,1968.7 507.9,1968.9 508.5,1970.1 509.0,1970.9 509.6,1972.2 510.1,1972.9 510.7,1972.1 511.2,1969.4 511.8,1970.7 512.3,1973.1 512.9,1972.9 513.4,1973.2 514.0,1973.8 514.5,1972.4 515.1,1972.0 515.6,1972.0 516.2,1973.0 516.7,1973.9 517.3,1975.3 517.8,1975.7 518.4,1975.5 518.9,1976.9 519.5,1975.5 520.0,1976.3 520.6,1975.6 521.1,1975.6 521.7,1975.3 522.2,1976.2 522.8,1975.6 523.3,1976.6 523.9,1977.6 524.4,1978.2 525.0,1976.6 525.5,1978.3 526.1,1977.8 526.6,1977.1 527.2,1976.8 527.7,1976.9 528.3,1975.9 528.8,1974.8 529.4,1975.5 529.9,1977.2 530.5,1976.2 531.0,1978.2 531.6,1978.3 532.1,1977.6 532.7,1979.3 533.2,1975.8 533.8,1978.3 534.3,1977.5 534.9,1976.4 535.4,1975.6 536.0,1975.1 536.5,1974.5 537.1,1975.1 537.6,1974.4 538.2,1973.9 538.7,1974.3 539.3,1976.0 539.8,1975.8 540.4,1975.5 540.9,1977.2 541.5,1976.7 542.0,1975.9 542.6,1977.2 543.1,1975.6 543.7,1975.5 544.2,1975.7 544.8,1975.4 545.3,1974.2 545.9,1976.2 546.4,1975.8 547.0,1975.9 547.5,1975.6 548.1,1975.1 548.6,1974.9 549.2,1976.1 549.7,1974.7 550.3,1973.5 550.8,1973.8 551.4,1973.1 551.9,1974.3 552.5,1973.2 553.0,1974.2 553.6,1975.5 554.1,1978.6 554.7,1976.8 555.2,1977.3 555.8,1976.1 556.3,1978.0 556.9,1976.3 557.4,1974.8 558.0,1974.6 558.5,1974.8 559.1,1974.0 559.6,1975.1 560.2,1976.1 560.7,1974.6 561.3,1977.1 561.8,1977.2 562.4,1976.3 562.9,1976.8 563.5,1976.4 564.0,1975.5 564.6,1976.5 565.1,1975.9 565.7,1975.4 566.2,1974.7 566.8,1975.8 567.3,1977.6 567.9,1977.5 568.4,1976.5 569.0,1977.9 569.5,1976.3 570.1,1976.3 570.6,1976.3 571.2,1975.3 571.7,1977.0 572.3,1977.4 572.8,1976.1 573.4,1978.1 573.9,1974.5 574.5,1975.6 575.0,1974.9 575.6,1975.5 576.1,1975.1 576.7,1975.7 577.2,1975.1 577.8,1976.7 578.3,1977.5 578.9,1977.0 579.4,1975.7 580.0,1975.9 580.5,1976.6 581.1,1977.8 581.6,1976.7 582.2,1977.9 582.7,1978.0 583.3,1976.8 583.8,1978.0 584.4,1976.0 584.9,1977.2 585.5,1978.9 586.0,1976.4 586.6,1978.2 587.1,1979.8 587.7,1978.6 588.2,1977.4 588.8,1977.4 589.3,1975.7 589.9,1976.4 590.4,1976.6 591.0,1975.9 591.5,1976.2 592.1,1974.8 592.6,1977.7 593.2,1976.1 593.7,1976.6 594.3,1976.2 594.8,1976.1 595.4,1976.3 595.9,1975.9 596.5,1974.9 597.0,1974.2 597.6,1975.9 598.1,1973.3 598.7,1975.1 599.2,1972.7 599.8,1972.5 600.3,1972.5 600.9,1971.8 601.4,1971.5 602.0,1972.7 602.5,1972.6 603.1,1972.0 603.6,1972.0 604.2,1971.1 604.7,1972.0 605.3,1973.7 605.8,1971.9 606.4,1971.5 606.9,1970.1 607.5,1968.6 608.0,1969.4 608.6,1969.9 609.1,1968.9 609.7,1968.7 610.2,1969.8 610.8,1970.7 611.3,1969.8 611.9,1972.2 612.4,1969.9 613.0,1969.9 613.5,1968.5 614.1,1970.1 614.6,1967.4 615.2,1968.7 615.7,1969.0 616.3,1969.4 616.8,1969.6 617.4,1968.4 617.9,1970.1 618.5,1969.5 619.0,1967.9 619.6,1971.4 620.1,1969.6 620.7,1969.4 621.2,1969.3 621.8,1968.0 622.3,1967.3 622.9,1968.4 623.4,1969.1 624.0,1969.7 624.5,1967.6 625.1,1969.5 625.6,1966.8 626.2,1968.4 626.7,1967.0 627.3,1968.1 627.8,1968.1 628.4,1967.5 628.9,1967.5 629.5,1966.9 630.0,1966.1 630.6,1967.0 631.1,1965.7 631.7,1965.4 632.2,1966.4 632.8,1965.6 633.3,1966.3 633.9,1966.1 634.4,1967.5 635.0,1967.5 635.5,1964.5 636.1,1964.9 636.6,1966.3 637.2,1965.6 637.7,1966.7 638.3,1965.8 638.8,1964.7 639.4,1967.0 639.9,1963.0 640.5,1964.4 641.0,1964.7 641.6,1963.8 642.1,1961.9 642.7,1960.7 643.2,1962.0 643.8,1960.7 644.3,1960.7 644.9,1961.0 645.4,1960.4 646.0,1962.0 646.5,1962.0 647.1,1959.4 647.6,1961.0 648.2,1959.7 648.7,1957.6 649.3,1958.1 649.8,1957.2 650.4,1955.9 650.9,1956.8 651.5,1957.9 652.0,1956.0 652.6,1955.4 653.1,1955.3 653.7,1955.7 654.2,1956.4 654.8,1954.3 655.3,1954.1 655.9,1954.1 656.4,1954.1 657.0,1956.1 657.5,1955.2 658.1,1952.3 658.6,1954.1 659.2,1954.8 659.7,1954.3 660.3,1954.9 660.8,1954.8 661.4,1955.2 661.9,1955.9 662.5,1951.3 663.0,1953.9 663.6,1954.9 664.1,1953.8 664.7,1953.6 665.2,1954.6 665.8,1955.3 666.3,1955.3 666.9,1954.7 667.4,1952.7 668.0,1954.1 668.5,1954.5 669.1,1952.6 669.6,1951.3 670.2,1953.6 670.7,1954.3 671.3,1952.5 671.8,1954.7 672.4,1953.1 672.9,1953.7 673.5,1954.3 674.0,1952.3 674.6,1953.4 675.1,1951.9 675.7,1953.2 676.2,1951.2 676.8,1951.6 677.3,1951.8 677.9,1951.1 678.4,1951.4 679.0,1951.1 679.5,1952.2 680.1,1950.4 680.6,1950.5 681.2,1950.4 681.7,1950.9 682.3,1951.7 682.8,1950.8 683.4,1950.3 683.9,1949.5 684.5,1949.1 685.0,1949.1 685.6,1947.3 686.1,1947.9 686.7,1948.5 687.2,1946.1 687.8,1947.3 688.3,1944.2 688.9,1944.7 689.4,1945.0 690.0,1944.1 690.5,1942.3 691.1,1943.1 691.6,1944.4 692.2,1942.0 692.7,1939.4 693.3,1938.7 693.8,1938.0 694.4,1938.2 694.9,1939.1 695.5,1937.9 696.0,1938.3 696.6,1935.7 697.1,1935.1 697.7,1935.4 698.2,1933.4 698.8,1934.0 699.3,1932.9 699.9,1929.9 700.4,1929.6 701.0,1929.0 701.5,1928.3 702.1,1928.0 702.6,1926.4 703.2,1927.4 703.7,1925.7 704.3,1924.9 704.8,1923.9 705.4,1921.3 705.9,1922.4 706.5,1920.6 707.0,1922.6 707.6,1919.3 708.1,1921.2 708.7,1918.6 709.2,1918.5 709.8,1918.1 710.3,1915.3 710.9,1914.6 711.4,1914.5 712.0,1911.6 712.5,1910.1 713.1,1911.4 713.6,1911.2 714.2,1911.0 714.7,1909.4 715.3,1908.4 715.8,1908.4 716.4,1906.9 716.9,1906.9 717.5,1903.8 718.0,1905.8 718.6,1904.4 719.1,1903.4 719.7,1903.4 720.2,1902.2 720.8,1903.0 721.3,1902.2 721.9,1901.0 722.4,1901.5 723.0,1899.6 723.5,1897.7 724.1,1898.2 724.6,1899.6 725.2,1899.0 725.7,1898.6 726.3,1898.0 726.8,1895.9 727.4,1897.7 727.9,1897.4 728.5,1897.4 729.0,1896.3 729.6,1895.8 730.1,1896.2 730.7,1893.2 731.2,1893.8 731.8,1892.9 732.3,1893.8 732.9,1893.4 733.4,1893.2 734.0,1891.1 734.5,1890.0 735.1,1889.9 735.6,1889.7 736.2,1888.2 736.7,1885.4 737.3,1887.7 737.8,1886.5 738.4,1884.8 738.9,1885.2 739.5,1885.5 740.0,1884.9 740.6,1884.7 741.1,1884.5 741.7,1882.8 742.2,1883.5 742.8,1881.8 743.3,1880.1 743.9,1879.8 744.4,1879.3 745.0,1880.2 745.5,1879.0 746.1,1878.1 746.6,1878.2 747.2,1877.6 747.7,1877.6 748.3,1878.6 748.8,1878.5 749.4,1878.6 749.9,1878.9 750.5,1879.0 751.0,1880.4 751.6,1880.1 752.1,1881.2 752.7,1879.7 753.2,1883.1 753.8,1882.3 754.3,1882.5 754.9,1885.0 755.4,1886.2 756.0,1886.8 756.5,1887.2 757.1,1887.4 757.6,1888.2 758.2,1890.5 758.7,1890.0 759.3,1891.8 759.8,1893.1 760.4,1893.7 760.9,1891.9 761.5,1894.6 762.0,1893.7 762.6,1897.7 763.1,1898.7 763.7,1898.8 764.2,1898.8 764.8,1900.2 765.3,1900.5 765.9,1902.3 766.4,1902.3 767.0,1904.2 767.5,1902.2 768.1,1902.0 768.6,1905.4 769.2,1903.4 769.7,1903.2 770.3,1905.5 770.8,1906.6 771.4,1905.3 771.9,1905.4 772.5,1905.3 773.0,1903.6 773.6,1904.0 774.1,1904.4 774.7,1903.0 775.2,1904.7 775.8,1901.2 776.3,1900.7 776.9,1900.3 777.4,1899.1 778.0,1898.4 778.5,1898.3 779.1,1898.1 779.6,1893.8 780.2,1893.2 780.7,1891.6 781.3,1892.2 781.8,1891.0 782.4,1890.5 782.9,1890.5 783.5,1890.6 784.0,1888.7 784.6,1888.5 785.1,1886.4 785.7,1888.4 786.2,1886.2 786.8,1886.8 787.3,1886.2 787.9,1883.5 788.4,1880.8 789.0,1881.6 789.5,1879.4 790.1,1880.2 790.6,1877.8 791.2,1877.8 791.7,1876.5 792.3,1873.7 792.8,1875.2 793.4,1875.4 793.9,1870.8 794.5,1870.6 795.0,1868.5 795.6,1868.0 796.1,1866.5 796.7,1865.3 797.2,1864.2 797.8,1862.9 798.3,1860.5 798.9,1858.6 799.4,1859.3 800.0,1858.0 800.5,1857.3 801.1,1856.6 801.6,1854.4 802.2,1852.8 802.7,1852.3 803.3,1850.6 803.8,1849.6 804.4,1847.0 804.9,1846.0 805.5,1843.0 806.0,1840.8 806.6,1840.2 807.1,1838.4 807.7,1836.4 808.2,1833.0 808.8,1830.8 809.3,1829.4 809.9,1830.2 810.4,1827.8 811.0,1824.8 811.5,1822.4 812.1,1818.5 812.6,1815.0 813.2,1810.4 813.7,1808.7 814.3,1805.3 814.8,1800.0 815.4,1798.4 815.9,1795.8 816.5,1793.4 817.0,1787.9 817.6,1785.6 818.1,1782.4 818.7,1777.8 819.2,1774.9 819.8,1771.6 820.3,1766.7 820.9,1764.7 821.4,1760.3 822.0,1756.1 822.5,1752.0 823.1,1749.0 823.6,1744.6 824.2,1738.8 824.7,1734.5 825.3,1728.6 825.8,1726.5 826.4,1723.9 826.9,1718.8 827.5,1715.3 828.0,1710.6 828.6,1706.1 829.1,1703.0 829.7,1700.5 830.2,1696.5 830.8,1691.5 831.3,1687.9 831.9,1685.5 832.4,1681.3 833.0,1678.7 833.5,1672.8 834.1,1668.5 834.6,1666.9 835.2,1662.2 835.7,1659.9 836.3,1656.8 836.8,1654.0 837.4,1652.8 837.9,1648.2 838.5,1644.1 839.0,1640.7 839.6,1639.7 840.1,1636.1 840.7,1632.8 841.2,1632.3 841.8,1629.1 842.3,1628.8 842.9,1628.5 843.4,1624.9 844.0,1625.1 844.5,1623.5 845.1,1622.5 845.6,1622.6 846.2,1618.4 846.7,1618.3 847.3,1619.0 847.8,1616.1 848.4,1614.8 848.9,1615.1 849.5,1615.7 850.0,1616.4 850.6,1617.4 851.1,1618.6 851.7,1618.8 852.2,1619.5 852.8,1620.7 853.3,1620.6 853.9,1623.5 854.4,1625.7 855.0,1625.6 855.5,1628.2 856.1,1630.2 856.6,1631.1 857.2,1632.8 857.7,1633.5 858.3,1635.7 858.8,1638.9 859.4,1642.6 859.9,1643.1 860.5,1648.3 861.0,1649.7 861.6,1651.8 862.1,1653.3 862.7,1658.1 863.2,1662.4 863.8,1664.8 864.3,1669.8 864.9,1673.5 865.4,1677.1 866.0,1679.6 866.5,1681.8 867.1,1684.9 867.6,1687.0 868.2,1689.0 868.7,1691.8 869.3,1694.8 869.8,1696.1 870.4,1701.4 870.9,1704.1 871.5,1709.2 872.0,1712.2 872.6,1715.7 873.1,1717.7 873.7,1721.6 874.2,1724.0 874.8,1725.4 875.3,1728.3 875.9,1731.4 876.4,1736.3 877.0,1739.6 877.5,1742.9 878.1,1747.3 878.6,1751.1 879.2,1752.8 879.7,1756.6 880.3,1760.3 880.8,1764.1 881.4,1767.2 881.9,1769.0 882.5,1773.9 883.0,1775.9 883.6,1778.4 884.1,1780.9 884.7,1784.0 885.2,1784.5 885.8,1787.7 886.3,1789.7 886.9,1792.6 887.4,1794.3 888.0,1795.4 888.5,1801.0 889.1,1797.0 889.6,1800.5 890.2,1804.6 890.7,1805.0 891.3,1804.1 891.8,1807.6 892.4,1808.8 892.9,1811.2 893.5,1812.9 894.0,1813.4 894.6,1814.2 895.1,1815.7 895.7,1816.9 896.2,1817.1 896.8,1819.4 897.3,1820.5 897.9,1821.4 898.4,1821.1 899.0,1825.0 899.5,1824.7 900.1,1825.5 900.6,1827.6 901.2,1826.5 901.7,1828.9 902.3,1828.6 902.8,1827.8 903.4,1830.1 903.9,1830.5 904.5,1832.1 905.0,1832.4 905.6,1833.3 906.1,1833.7 906.7,1833.2 907.2,1834.4 907.8,1833.0 908.3,1834.5 908.9,1835.4 909.4,1836.1 910.0,1838.1 910.5,1837.2 911.1,1839.0 911.6,1839.1 912.2,1839.8 912.7,1838.9 913.3,1839.8 913.8,1838.8 914.4,1840.8 914.9,1838.0 915.5,1839.1 916.0,1840.3 916.6,1840.2 917.1,1839.0 917.7,1839.4 918.2,1841.3 918.8,1839.2 919.3,1840.8 919.9,1842.3 920.4,1840.0 921.0,1841.0 921.5,1840.8 922.1,1841.0 922.6,1841.7 923.2,1839.9 923.7,1839.8 924.3,1841.1 924.8,1840.8 925.4,1839.4 925.9,1838.7 926.5,1838.3 927.0,1839.5 927.6,1838.9 928.1,1839.2 928.7,1838.6 929.2,1838.7 929.8,1837.2 930.3,1839.4 930.9,1837.2 931.4,1840.1 932.0,1837.0 932.5,1837.3 933.1,1835.9 933.6,1837.5 934.2,1836.0 934.7,1836.5 935.3,1836.4 935.8,1834.8 936.4,1834.6 936.9,1833.4 937.5,1832.7 938.0,1833.1 938.6,1832.0 939.1,1831.6 939.7,1829.9 940.2,1829.7 940.8,1831.4 941.3,1830.5 941.9,1830.0 942.4,1829.0 943.0,1828.7 943.5,1828.2 944.1,1825.8 944.6,1824.6 945.2,1822.8 945.7,1823.1 946.3,1821.9 946.8,1821.0 947.4,1822.1 947.9,1821.3 948.5,1820.1 949.0,1817.2 949.6,1816.2 950.1,1815.1 950.7,1816.0 951.2,1813.6 951.8,1813.1 952.3,1811.2 952.9,1809.0 953.4,1810.2 954.0,1806.7 954.5,1804.5 955.1,1802.8 955.6,1799.6 956.2,1797.9 956.7,1794.3 957.3,1793.5 957.8,1789.8 958.4,1787.1 958.9,1786.3 959.5,1782.4 960.0,1780.3 960.6,1777.9 961.1,1774.8 961.7,1772.5 962.2,1767.4 962.8,1764.1 963.3,1760.6 963.9,1754.9 964.4,1751.4 965.0,1749.3 965.5,1744.4 966.1,1739.8 966.6,1737.2 967.2,1732.6 967.7,1727.7 968.3,1724.7 968.8,1718.1 969.4,1717.1 969.9,1714.7 970.5,1711.0 971.0,1706.7 971.6,1703.8 972.1,1699.4 972.7,1694.9 973.2,1691.9 973.8,1689.2 974.3,1685.7 974.9,1681.4 975.4,1675.5 976.0,1676.4 976.5,1670.1 977.1,1664.1 977.6,1660.8 978.2,1657.6 978.7,1651.6 979.3,1650.1 979.8,1646.2 980.4,1644.4 980.9,1639.3 981.5,1637.2 982.0,1636.0 982.6,1633.1 983.1,1629.8 983.7,1627.9 984.2,1626.3 984.8,1623.1 985.3,1624.1 985.9,1623.4 986.4,1622.0 987.0,1622.0 987.5,1622.9 988.1,1624.0 988.6,1622.6 989.2,1623.4 989.7,1624.2 990.3,1626.0 990.8,1628.3 991.4,1628.7 991.9,1629.5 992.5,1633.0 993.0,1636.3 993.6,1636.2 994.1,1640.1 994.7,1642.7 995.2,1645.2 995.8,1650.6 996.3,1654.4 996.9,1659.7 997.4,1665.2 998.0,1670.0 998.5,1676.5 999.1,1683.6 999.6,1688.2 1000.2,1694.8 1000.7,1698.6 1001.3,1708.3 1001.8,1713.3 1002.4,1720.3 1002.9,1727.1 1003.5,1734.6 1004.0,1743.6 1004.6,1753.0 1005.1,1760.5 1005.7,1771.5 1006.2,1778.3 1006.8,1786.5 1007.3,1796.5 1007.9,1806.9 1008.4,1815.1 1009.0,1821.3 1009.5,1830.1 1010.1,1840.2 1010.6,1845.3 1011.2,1854.4 1011.7,1858.9 1012.3,1864.2 1012.8,1868.6 1013.4,1874.3 1013.9,1879.1 1014.5,1881.5 1015.0,1886.6 1015.6,1889.1 1016.1,1890.2 1016.7,1892.3 1017.2,1894.9 1017.8,1895.6 1018.3,1896.7 1018.9,1898.9 1019.4,1899.4 1020.0,1898.8 1020.5,1901.9 1021.1,1902.3 1021.6,1903.1 1022.2,1904.2 1022.7,1903.5 1023.3,1906.1 1023.8,1906.4 1024.4,1907.7 1024.9,1910.2 1025.5,1908.7 1026.0,1911.0 1026.6,1909.9 1027.1,1910.6 1027.7,1911.8 1028.2,1911.9 1028.8,1910.6 1029.3,1913.1 1029.9,1912.7 1030.4,1913.5 1031.0,1914.2 1031.5,1913.6 1032.1,1912.5 1032.6,1914.5 1033.2,1914.8 1033.7,1914.9 1034.3,1915.2 1034.8,1916.9 1035.4,1917.6 1035.9,1917.5 1036.5,1919.0 1037.0,1918.1 1037.6,1918.5 1038.1,1917.0 1038.7,1917.8 1039.2,1919.9 1039.8,1916.0 1040.3,1918.6 1040.9,1918.3 1041.4,1918.3 1042.0,1918.5 1042.5,1918.7 1043.1,1917.1 1043.6,1919.5 1044.2,1918.2 1044.7,1918.9 1045.3,1918.1 1045.8,1918.3 1046.4,1918.3 1046.9,1918.1 1047.5,1919.6 1048.0,1918.8 1048.6,1919.1 1049.1,1918.4 1049.7,1918.8 1050.2,1920.2 1050.8,1918.7 1051.3,1920.0 1051.9,1919.2 1052.4,1917.7 1053.0,1919.6 1053.5,1918.8 1054.1,1918.8 1054.6,1919.9 1055.2,1919.4 1055.7,1918.2 1056.3,1919.2 1056.8,1918.0 1057.4,1917.4 1057.9,1919.4 1058.5,1916.0 1059.0,1917.7 1059.6,1917.9 1060.1,1919.3 1060.7,1920.0 1061.2,1918.7 1061.8,1917.6 1062.3,1922.1 1062.9,1919.9 1063.4,1920.4 1064.0,1920.1 1064.5,1919.8 1065.1,1920.3 1065.6,1919.4 1066.2,1920.8 1066.7,1921.1 1067.3,1919.9 1067.8,1920.1 1068.4,1922.2 1068.9,1922.9 1069.5,1922.5 1070.0,1922.8 1070.6,1920.1 1071.1,1921.9 1071.7,1921.5 1072.2,1921.0 1072.8,1922.0 1073.3,1922.6 1073.9,1922.2 1074.4,1922.5 1075.0,1924.4 1075.5,1922.7 1076.1,1922.7 1076.6,1924.2 1077.2,1923.5 1077.7,1925.6 1078.3,1925.9 1078.8,1925.6 1079.4,1925.3 1079.9,1925.5 1080.5,1925.5 1081.0,1928.2 1081.6,1926.8 1082.1,1927.1 1082.7,1926.9 1083.2,1926.6 1083.8,1925.4 1084.3,1926.9 1084.9,1927.5 1085.4,1925.9 1086.0,1925.5 1086.5,1927.2 1087.1,1927.8 1087.6,1928.5 1088.2,1927.4 1088.7,1928.4 1089.3,1927.4 1089.8,1926.7 1090.4,1929.7 1090.9,1929.1 1091.5,1928.9 1092.0,1929.0 1092.6,1930.2 1093.1,1928.4 1093.7,1929.6 1094.2,1930.5 1094.8,1929.1 1095.3,1930.2 1095.9,1930.9 1096.4,1931.5 1097.0,1930.3 1097.5,1928.5 1098.1,1928.2 1098.6,1929.4 1099.2,1931.4 1099.7,1929.4 1100.3,1930.4 1100.8,1930.1 1101.4,1931.8 1101.9,1930.2 1102.5,1930.4 1103.0,1930.3 1103.6,1931.3 1104.1,1931.5 1104.7,1931.4 1105.2,1932.2 1105.8,1932.2 1106.3,1931.9 1106.9,1932.4 1107.4,1932.1 1108.0,1932.5 1108.5,1932.4 1109.1,1934.2 1109.6,1933.1 1110.2,1932.3 1110.7,1933.0 1111.3,1931.8 1111.8,1933.2 1112.4,1933.8 1112.9,1933.0 1113.5,1934.4 1114.0,1933.0 1114.6,1931.7 1115.1,1932.7 1115.7,1932.5 1116.2,1931.9 1116.8,1932.8 1117.3,1932.1 1117.9,1934.3 1118.4,1932.0 1119.0,1933.2 1119.5,1932.4 1120.1,1933.3 1120.6,1931.9 1121.2,1933.7 1121.7,1933.5 1122.3,1932.3 1122.8,1933.8 1123.4,1932.1 1123.9,1933.4 1124.5,1934.1 1125.0,1933.9 1125.6,1934.8 1126.1,1933.2 1126.7,1933.0 1127.2,1935.6 1127.8,1933.0 1128.3,1935.6 1128.9,1934.6 1129.4,1935.0 1130.0,1934.4 1130.5,1934.0 1131.1,1934.8 1131.6,1934.7 1132.2,1933.9 1132.7,1933.0 1133.3,1934.2 1133.8,1932.9 1134.4,1934.0 1134.9,1933.6 1135.5,1934.9 1136.0,1934.8 1136.6,1932.6 1137.1,1935.5 1137.7,1935.6 1138.2,1937.8 1138.8,1935.3 1139.3,1935.0 1139.9,1934.8 1140.4,1934.8 1141.0,1934.2 1141.5,1936.4 1142.1,1935.4 1142.6,1935.7 1143.2,1936.4 1143.7,1933.9 1144.3,1936.2 1144.8,1934.3 1145.4,1934.8 1145.9,1934.1 1146.5,1934.1 1147.0,1934.5 1147.6,1935.5 1148.1,1935.6 1148.7,1935.2 1149.2,1935.7 1149.8,1934.1 1150.3,1933.0 1150.9,1933.2 1151.4,1933.7 1152.0,1934.9 1152.5,1934.6 1153.1,1934.7 1153.6,1934.6 1154.2,1933.5 1154.7,1933.7 1155.3,1932.3 1155.8,1934.1 1156.4,1933.3 1156.9,1934.1 1157.5,1934.2 1158.0,1933.5 1158.6,1936.1 1159.1,1934.3 1159.7,1934.1 1160.2,1936.3 1160.8,1934.6 1161.3,1936.9 1161.9,1936.0 1162.4,1934.1 1163.0,1935.0 1163.5,1936.1 1164.1,1935.8 1164.6,1936.2 1165.2,1936.1 1165.7,1935.9 1166.3,1935.0 1166.8,1935.1 1167.4,1935.9 1167.9,1936.8 1168.5,1937.3 1169.0,1936.3 1169.6,1936.8 1170.1,1939.3 1170.7,1937.5 1171.2,1936.2 1171.8,1935.0 1172.3,1935.9 1172.9,1936.0 1173.4,1935.2 1174.0,1934.5 1174.5,1937.0 1175.1,1935.7 1175.6,1936.6 1176.2,1936.8 1176.7,1936.2 1177.3,1937.3 1177.8,1935.9 1178.4,1935.6 1178.9,1937.6 1179.5,1936.0 1180.0,1936.4 1180.6,1935.9 1181.1,1937.7 1181.7,1937.8 1182.2,1937.6 1182.8,1938.3 1183.3,1938.2 1183.9,1937.1 1184.4,1938.3 1185.0,1937.8 1185.5,1937.4 1186.1,1938.5 1186.6,1935.6 1187.2,1937.5 1187.7,1936.5 1188.3,1937.6 1188.8,1936.8 1189.4,1936.5 1189.9,1936.2 1190.5,1934.3 1191.0,1935.5 1191.6,1935.1 1192.1,1936.3 1192.7,1936.8 1193.2,1936.7 1193.8,1937.1 1194.3,1938.2 1194.9,1938.1 1195.4,1937.9 1196.0,1940.2 1196.5,1937.5 1197.1,1937.0 1197.6,1937.6 1198.2,1937.7 1198.7,1938.6 1199.3,1939.5 1199.8,1936.7 1200.4,1939.3 1200.9,1938.0 1201.5,1937.0 1202.0,1936.7 1202.6,1938.7 1203.1,1936.2 1203.7,1937.0 1204.2,1938.9 1204.8,1935.7 1205.3,1936.9 1205.9,1938.7 1206.4,1937.6 1207.0,1937.1 1207.5,1938.1 1208.1,1935.8 1208.6,1936.4 1209.2,1937.8 1209.7,1936.7 1210.3,1935.2 1210.8,1938.8 1211.4,1936.6 1211.9,1937.5 1212.5,1937.7 1213.0,1937.7 1213.6,1937.5 1214.1,1938.0 1214.7,1936.0 1215.2,1936.8 1215.8,1938.3 1216.3,1937.1 1216.9,1937.1 1217.4,1937.8 1218.0,1938.6 1218.5,1939.3 1219.1,1938.9 1219.6,1938.8 1220.2,1938.6 1220.7,1939.3 1221.3,1938.3 1221.8,1939.9 1222.4,1939.1 1222.9,1939.9 1223.5,1938.9 1224.0,1938.2 1224.6,1938.0 1225.1,1939.1 1225.7,1938.2 1226.2,1939.4 1226.8,1941.3 1227.3,1941.6 1227.9,1940.7 1228.4,1940.7 1229.0,1940.5 1229.5,1939.7 1230.1,1938.3 1230.6,1937.5 1231.2,1936.8 1231.7,1939.7 1232.3,1940.2 1232.8,1941.0 1233.4,1940.0 1233.9,1941.0 1234.5,1941.3 1235.0,1941.1 1235.6,1941.8 1236.1,1940.8 1236.7,1939.9 1237.2,1942.1 1237.8,1939.5 1238.3,1941.4 1238.9,1940.9 1239.4,1942.4 1240.0,1941.0 1240.5,1941.5 1241.1,1940.8 1241.6,1942.0 1242.2,1940.1 1242.7,1939.1 1243.3,1939.3 1243.8,1940.2 1244.4,1940.4 1244.9,1939.7 1245.5,1942.1 1246.0,1938.7 1246.6,1939.8 1247.1,1939.3 1247.7,1939.4 1248.2,1939.8 1248.8,1938.9 1249.3,1939.4 1249.9,1940.0 1250.4,1939.8 1251.0,1941.6 1251.5,1940.6 1252.1,1942.7 1252.6,1940.2 1253.2,1942.7 1253.7,1940.9 1254.3,1943.1 1254.8,1941.4 1255.4,1941.1 1255.9,1941.5 1256.5,1938.0 1257.0,1940.3 1257.6,1941.1 1258.1,1940.6 1258.7,1942.4 1259.2,1944.0 1259.8,1938.9 1260.3,1940.3 1260.9,1941.5 1261.4,1941.0 1262.0,1942.8 1262.5,1942.3 1263.1,1943.4 1263.6,1944.4 1264.2,1943.0 1264.7,1943.4 1265.3,1942.2 1265.8,1941.3 1266.4,1942.4 1266.9,1941.7 1267.5,1941.3 1268.0,1941.1 1268.6,1941.2 1269.1,1942.6 1269.7,1942.7 1270.2,1941.9 1270.8,1943.2 1271.3,1944.5 1271.9,1944.1 1272.4,1942.8 1273.0,1943.2 1273.5,1942.7 1274.1,1945.0 1274.6,1943.6 1275.2,1942.7 1275.7,1943.8 1276.3,1942.5 1276.8,1942.6 1277.4,1941.7 1277.9,1942.2 1278.5,1942.4 1279.0,1942.5 1279.6,1942.4 1280.1,1943.5 1280.7,1942.9 1281.2,1945.3 1281.8,1943.8 1282.3,1943.4 1282.9,1945.4 1283.4,1944.9 1284.0,1944.7 1284.5,1944.0 1285.1,1945.4 1285.6,1943.3 1286.2,1944.9 1286.7,1944.0 1287.3,1944.5 1287.8,1943.4 1288.4,1944.8 1288.9,1942.4 1289.5,1943.2 1290.0,1943.0 1290.6,1943.5 1291.1,1942.5 1291.7,1942.9 1292.2,1942.3 1292.8,1942.5 1293.3,1943.7 1293.9,1943.9 1294.4,1944.0 1295.0,1943.9 1295.5,1943.5 1296.1,1944.6 1296.6,1943.7 1297.2,1943.5 1297.7,1945.9 1298.3,1945.3 1298.8,1945.1 1299.4,1946.5 1299.9,1944.5 1300.5,1945.6 1301.0,1943.3 1301.6,1942.8 1302.1,1943.1 1302.7,1944.9 1303.2,1944.7 1303.8,1943.8 1304.3,1942.3 1304.9,1942.8 1305.4,1944.2 1306.0,1944.1 1306.5,1943.1 1307.1,1944.0 1307.6,1945.8 1308.2,1943.2 1308.7,1942.0 1309.3,1943.5 1309.8,1944.7 1310.4,1946.4 1310.9,1945.6 1311.5,1944.6 1312.0,1945.6 1312.6,1947.0 1313.1,1945.7 1313.7,1947.5 1314.2,1945.2 1314.8,1946.0 1315.3,1945.6 1315.9,1944.5 1316.4,1945.7 1317.0,1946.7 1317.5,1946.1 1318.1,1946.2 1318.6,1947.1 1319.2,1947.3 1319.7,1947.1 1320.3,1945.7 1320.8,1945.6 1321.4,1947.0 1321.9,1947.2 1322.5,1948.2 1323.0,1946.6 1323.6,1947.0 1324.1,1946.6 1324.7,1946.4 1325.2,1949.6 1325.8,1947.3 1326.3,1946.6 1326.9,1947.1 1327.4,1947.4 1328.0,1946.8 1328.5,1946.2 1329.1,1946.4 1329.6,1945.8 1330.2,1946.0 1330.7,1945.7 1331.3,1943.3 1331.8,1944.7 1332.4,1945.4 1332.9,1948.0 1333.5,1947.1 1334.0,1946.1 1334.6,1946.2 1335.1,1946.2 1335.7,1944.8 1336.2,1947.0 1336.8,1946.6 1337.3,1946.1 1337.9,1945.8 1338.4,1945.5 1339.0,1945.5 1339.5,1944.9 1340.1,1947.0 1340.6,1945.6 1341.2,1946.6 1341.7,1946.3 1342.3,1946.2 1342.8,1946.9 1343.4,1946.2 1343.9,1945.4 1344.5,1946.9 1345.0,1947.5 1345.6,1946.6 1346.1,1947.0 1346.7,1946.7 1347.2,1948.5 1347.8,1947.2 1348.3,1945.8 1348.9,1947.3 1349.4,1948.0 1350.0,1946.5 1350.5,1945.3 1351.1,1944.7 1351.6,1945.4 1352.2,1948.4 1352.7,1945.7 1353.3,1945.2 1353.8,1946.0 1354.4,1946.7 1354.9,1945.9 1355.5,1946.1 1356.0,1947.1 1356.6,1948.3 1357.1,1947.7 1357.7,1946.8 1358.2,1946.7 1358.8,1946.9 1359.3,1945.4 1359.9,1946.2 1360.4,1947.1 1361.0,1945.6 1361.5,1945.4 1362.1,1946.1 1362.6,1945.1 1363.2,1947.2 1363.7,1946.9 1364.3,1946.8 1364.8,1946.2 1365.4,1946.4 1365.9,1946.6 1366.5,1945.0 1367.0,1945.3 1367.6,1945.3 1368.1,1946.5 1368.7,1947.5 1369.2,1945.9 1369.8,1946.4 1370.3,1946.7 1370.9,1946.2 1371.4,1946.3 1372.0,1946.8 1372.5,1947.5 1373.1,1944.7 1373.6,1946.1 1374.2,1943.7 1374.7,1945.2 1375.3,1944.3 1375.8,1943.7 1376.4,1943.9 1376.9,1945.5 1377.5,1947.0 1378.0,1945.7 1378.6,1946.1 1379.1,1944.7 1379.7,1944.2 1380.2,1944.3 1380.8,1943.6 1381.3,1944.7 1381.9,1943.3 1382.4,1946.3 1383.0,1944.6 1383.5,1944.5 1384.1,1946.0 1384.6,1944.7 1385.2,1945.9 1385.7,1944.1 1386.3,1944.0 1386.8,1943.8 1387.4,1945.8 1387.9,1942.4 1388.5,1943.7 1389.0,1944.9 1389.6,1942.3 1390.1,1943.5 1390.7,1942.9 1391.2,1942.9 1391.8,1942.8 1392.3,1942.8 1392.9,1942.7 1393.4,1943.6 1394.0,1943.9 1394.5,1942.9 1395.1,1944.0 1395.6,1943.8 1396.2,1943.6 1396.7,1943.3 1397.3,1944.4 1397.8,1944.3 1398.4,1946.0 1398.9,1944.4 1399.5,1944.7 1400.0,1943.0 1400.6,1944.4 1401.1,1945.8 1401.7,1944.7 1402.2,1945.0 1402.8,1943.7 1403.3,1943.4 1403.9,1943.8 1404.4,1942.4 1405.0,1942.8 1405.5,1944.8 1406.1,1942.5 1406.6,1942.0 1407.2,1943.6 1407.7,1942.8 1408.3,1942.0 1408.8,1942.7 1409.4,1942.8 1409.9,1942.7 1410.5,1943.6 1411.0,1943.5 1411.6,1942.7 1412.1,1942.5 1412.7,1943.7 1413.2,1943.7 1413.8,1942.3 1414.3,1940.2 1414.9,1942.4 1415.4,1941.0 1416.0,1941.7 1416.5,1940.7 1417.1,1943.8 1417.6,1942.3 1418.2,1943.6 1418.7,1940.3 1419.3,1943.7 1419.8,1942.5 1420.4,1943.6 1420.9,1942.9 1421.5,1943.0 1422.0,1941.4 1422.6,1942.8 1423.1,1940.7 1423.7,1941.8 1424.2,1940.6 1424.8,1941.4 1425.3,1943.5 1425.9,1941.9 1426.4,1941.6 1427.0,1941.6 1427.5,1941.3 1428.1,1941.0 1428.6,1942.6 1429.2,1942.0 1429.7,1940.5 1430.3,1942.5 1430.8,1942.7 1431.4,1941.1 1431.9,1942.1 1432.5,1941.1 1433.0,1941.8 1433.6,1940.3 1434.1,1939.9 1434.7,1941.3 1435.2,1941.5 1435.8,1940.6 1436.3,1940.8 1436.9,1940.8 1437.4,1940.1 1438.0,1942.3 1438.5,1940.4 1439.1,1939.1 1439.6,1939.3 1440.2,1939.7 1440.7,1940.1 1441.3,1938.9 1441.8,1939.6 1442.4,1938.5 1442.9,1938.4 1443.5,1939.6 1444.0,1938.4 1444.6,1937.7 1445.1,1938.5 1445.7,1938.3 1446.2,1939.2 1446.8,1939.3 1447.3,1938.1 1447.9,1939.7 1448.4,1938.6 1449.0,1941.3 1449.5,1940.0 1450.1,1939.0 1450.6,1938.7 1451.2,1937.1 1451.7,1937.7 1452.3,1939.1 1452.8,1937.9 1453.4,1939.1 1453.9,1939.1 1454.5,1939.6 1455.0,1939.4 1455.6,1935.8 1456.1,1937.0 1456.7,1936.0 1457.2,1936.2 1457.8,1937.9 1458.3,1939.0 1458.9,1937.4 1459.4,1939.0 1460.0,1936.9 1460.5,1937.8 1461.1,1937.2 1461.6,1935.3 1462.2,1936.2 1462.7,1935.8 1463.3,1934.6 1463.8,1934.3 1464.4,1935.5 1464.9,1935.4 1465.5,1935.1 1466.0,1935.8 1466.6,1935.1 1467.1,1935.4 1467.7,1935.0 1468.2,1935.8 1468.8,1935.5 1469.3,1936.6 1469.9,1935.8 1470.4,1934.2 1471.0,1933.3 1471.5,1933.1 1472.1,1933.9 1472.6,1933.2 1473.2,1933.4 1473.7,1933.7 1474.3,1934.3 1474.8,1933.0 1475.4,1932.5 1475.9,1933.7 1476.5,1932.8 1477.0,1933.0 1477.6,1934.3 1478.1,1932.2 1478.7,1932.9 1479.2,1934.8 1479.8,1934.5 1480.3,1934.0 1480.9,1931.2 1481.4,1931.8 1482.0,1932.2 1482.5,1930.6 1483.1,1930.2 1483.6,1932.0 1484.2,1928.9 1484.7,1929.5 1485.3,1929.6 1485.8,1932.7 1486.4,1930.7 1486.9,1930.8 1487.5,1931.0 1488.0,1931.3 1488.6,1932.6 1489.1,1930.7 1489.7,1931.0 1490.2,1929.6 1490.8,1931.2 1491.3,1931.6 1491.9,1929.6 1492.4,1928.6 1493.0,1927.5 1493.5,1928.9 1494.1,1927.4 1494.6,1929.1 1495.2,1928.0 1495.7,1926.6 1496.3,1927.1 1496.8,1927.1 1497.4,1928.6 1497.9,1929.1 1498.5,1927.5 1499.0,1926.3 1499.6,1927.6 1500.1,1925.8 1500.7,1925.5 1501.2,1923.3 1501.8,1924.1 1502.3,1924.2 1502.9,1923.0 1503.4,1925.1 1504.0,1925.1 1504.5,1924.9 1505.1,1920.5 1505.6,1925.0 1506.2,1922.5 1506.7,1922.4 1507.3,1921.2 1507.8,1921.9 1508.4,1922.0 1508.9,1923.2 1509.5,1921.1 1510.0,1922.2 1510.6,1922.0 1511.1,1921.2 1511.7,1921.3 1512.2,1921.8 1512.8,1920.1 1513.3,1921.2 1513.9,1921.0 1514.4,1921.5 1515.0,1923.0 1515.5,1919.8 1516.1,1921.7 1516.6,1918.8 1517.2,1918.8 1517.7,1918.6 1518.3,1916.0 1518.8,1918.9 1519.4,1917.3 1519.9,1917.1 1520.5,1918.3 1521.0,1916.0 1521.6,1916.4 1522.1,1914.7 1522.7,1916.5 1523.2,1915.5 1523.8,1915.1 1524.3,1914.8 1524.9,1915.5 1525.4,1914.0 1526.0,1915.1 1526.5,1914.6 1527.1,1912.5 1527.6,1914.7 1528.2,1914.6 1528.7,1913.4 1529.3,1912.9 1529.8,1912.9 1530.4,1912.9 1530.9,1912.6 1531.5,1910.7 1532.0,1911.8 1532.6,1910.1 1533.1,1911.0 1533.7,1910.5 1534.2,1909.1 1534.8,1909.2 1535.3,1907.3 1535.9,1908.9 1536.4,1907.4 1537.0,1909.2 1537.5,1909.6 1538.1,1909.2 1538.6,1909.7 1539.2,1908.7 1539.7,1908.5 1540.3,1908.0 1540.8,1908.8 1541.4,1907.7 1541.9,1909.8 1542.5,1908.0 1543.0,1908.3 1543.6,1907.3 1544.1,1907.9 1544.7,1906.4 1545.2,1907.6 1545.8,1906.6 1546.3,1908.7 1546.9,1906.4 1547.4,1906.2 1548.0,1904.4 1548.5,1904.3 1549.1,1903.5 1549.6,1903.3 1550.2,1905.9 1550.7,1904.4 1551.3,1904.8 1551.8,1905.8 1552.4,1907.5 1552.9,1902.9 1553.5,1905.6 1554.0,1904.9 1554.6,1905.5 1555.1,1904.6 1555.7,1905.0 1556.2,1905.0 1556.8,1903.2 1557.3,1901.7 1557.9,1902.3 1558.4,1903.6 1559.0,1904.2 1559.5,1904.4 1560.1,1902.8 1560.6,1903.5 1561.2,1903.2 1561.7,1903.8 1562.3,1903.7 1562.8,1902.7 1563.4,1904.3 1563.9,1902.3 1564.5,1904.9 1565.0,1903.3 1565.6,1903.9 1566.1,1903.1 1566.7,1903.9 1567.2,1901.7 1567.8,1900.6 1568.3,1902.2 1568.9,1899.1 1569.4,1899.6 1570.0,1901.7 1570.5,1901.2 1571.1,1901.6 1571.6,1900.0 1572.2,1898.4 1572.7,1900.0 1573.3,1900.9 1573.8,1904.7 1574.4,1900.9 1574.9,1902.4 1575.5,1902.4 1576.0,1903.5 1576.6,1902.4 1577.1,1901.7 1577.7,1902.3 1578.2,1900.3 1578.8,1901.1 1579.3,1900.9 1579.9,1899.1 1580.4,1899.7 1581.0,1899.8 1581.5,1900.3 1582.1,1900.8 1582.6,1900.1 1583.2,1900.3 1583.7,1899.4 1584.3,1899.3 1584.8,1900.4 1585.4,1899.6 1585.9,1899.6 1586.5,1899.2 1587.0,1898.3 1587.6,1898.6 1588.1,1900.5 1588.7,1902.3 1589.2,1901.4 1589.8,1899.8 1590.3,1900.1 1590.9,1899.9 1591.4,1899.7 1592.0,1899.2 1592.5,1897.9 1593.1,1899.1 1593.6,1900.9 1594.2,1898.3 1594.7,1899.1 1595.3,1900.3 1595.8,1899.3 1596.4,1900.7 1596.9,1900.7 1597.5,1900.2 1598.0,1903.4 1598.6,1900.6 1599.1,1903.0 1599.7,1902.8 1600.2,1902.9 1600.8,1902.8 1601.3,1904.1 1601.9,1903.4 1602.4,1902.4 1603.0,1903.0 1603.5,1904.0 1604.1,1904.9 1604.6,1902.7 1605.2,1903.7 1605.7,1902.4 1606.3,1903.0 1606.8,1903.0 1607.4,1901.6 1607.9,1901.6 1608.5,1902.3 1609.0,1901.2 1609.6,1901.4 1610.1,1900.5 1610.7,1902.6 1611.2,1902.6 1611.8,1904.1 1612.3,1902.3 1612.9,1903.7 1613.4,1903.0 1614.0,1904.4 1614.5,1903.9 1615.1,1902.7 1615.6,1903.2 1616.2,1905.8 1616.7,1904.6 1617.3,1903.8 1617.8,1903.2 1618.4,1903.2 1618.9,1903.1 1619.5,1903.4 1620.0,1904.1 1620.6,1904.8 1621.1,1903.1 1621.7,1903.2 1622.2,1904.8 1622.8,1904.3 1623.3,1904.1 1623.9,1905.7 1624.4,1905.0 1625.0,1903.7 1625.5,1902.7 1626.1,1903.4 1626.6,1903.3 1627.2,1900.4 1627.7,1903.0 1628.3,1904.2 1628.8,1903.1 1629.4,1903.5 1629.9,1901.8 1630.5,1902.6 1631.0,1902.4 1631.6,1903.0 1632.1,1900.9 1632.7,1901.0 1633.2,1902.8 1633.8,1900.9 1634.3,1902.0 1634.9,1902.1 1635.4,1901.3 1636.0,1902.8 1636.5,1902.0 1637.1,1901.8 1637.6,1903.3 1638.2,1899.7 1638.7,1902.4 1639.3,1902.5 1639.8,1903.2 1640.4,1902.9 1640.9,1902.5 1641.5,1902.5 1642.0,1902.0 1642.6,1901.3 1643.1,1899.5 1643.7,1900.1 1644.2,1899.6 1644.8,1899.2 1645.3,1900.4 1645.9,1899.8 1646.4,1899.7 1647.0,1898.4 1647.5,1896.7 1648.1,1898.1 1648.6,1896.3 1649.2,1894.7 1649.7,1893.9 1650.3,1895.4 1650.8,1895.1 1651.4,1895.6 1651.9,1894.4 1652.5,1893.0 1653.0,1892.5 1653.6,1892.8 1654.1,1891.2 1654.7,1891.8 1655.2,1891.4 1655.8,1891.3 1656.3,1894.2 1656.9,1889.4 1657.4,1891.2 1658.0,1889.6 1658.5,1891.9 1659.1,1889.3 1659.6,1889.0 1660.2,1889.4 1660.7,1889.5 1661.3,1888.5 1661.8,1889.5 1662.4,1888.2 1662.9,1889.1 1663.5,1887.9 1664.0,1887.2 1664.6,1887.1 1665.1,1886.2 1665.7,1884.9 1666.2,1885.2 1666.8,1884.6 1667.3,1886.1 1667.9,1886.9 1668.4,1884.4 1669.0,1885.2 1669.5,1884.0 1670.1,1885.4 1670.6,1885.6 1671.2,1883.8 1671.7,1884.6 1672.3,1881.9 1672.8,1883.4 1673.4,1883.6 1673.9,1883.0 1674.5,1883.5 1675.0,1884.0 1675.6,1884.9 1676.1,1882.4 1676.7,1881.7 1677.2,1882.1 1677.8,1880.8 1678.3,1882.5 1678.9,1881.1 1679.4,1882.1 1680.0,1881.3 1680.5,1880.8 1681.1,1881.8 1681.6,1880.9 1682.2,1880.6 1682.7,1881.4 1683.3,1880.6 1683.8,1881.2 1684.4,1880.8 1684.9,1880.0 1685.5,1880.5 1686.0,1878.3 1686.6,1877.8 1687.1,1878.4 1687.7,1878.0 1688.2,1877.5 1688.8,1879.4 1689.3,1878.3 1689.9,1878.3 1690.4,1878.7 1691.0,1879.0 1691.5,1878.3 1692.1,1876.3 1692.6,1877.9 1693.2,1877.6 1693.7,1877.3 1694.3,1878.2 1694.8,1875.7 1695.4,1878.0 1695.9,1876.6 1696.5,1875.7 1697.0,1878.1 1697.6,1876.5 1698.1,1877.9 1698.7,1876.1 1699.2,1878.1 1699.8,1877.8 1700.3,1876.5 1700.9,1877.7 1701.4,1874.8 1702.0,1877.7 1702.5,1874.4 1703.1,1875.9 1703.6,1875.7 1704.2,1872.9 1704.7,1876.3 1705.3,1876.2 1705.8,1876.3 1706.4,1877.6 1706.9,1877.6 1707.5,1880.5 1708.0,1879.0 1708.6,1879.7 1709.1,1881.2 1709.7,1881.5 1710.2,1878.5 1710.8,1880.3 1711.3,1881.4 1711.9,1881.4 1712.4,1879.5 1713.0,1880.6 1713.5,1881.7 1714.1,1882.7 1714.6,1882.9 1715.2,1881.2 1715.7,1883.1 1716.3,1883.5 1716.8,1883.9 1717.4,1883.1 1717.9,1882.3 1718.5,1884.1 1719.0,1885.0 1719.6,1884.4 1720.1,1885.2 1720.7,1887.6 1721.2,1888.8 1721.8,1888.2 1722.3,1888.8 1722.9,1888.3 1723.4,1888.7 1724.0,1889.8 1724.5,1890.5 1725.1,1890.5 1725.6,1889.6 1726.2,1892.8 1726.7,1892.4 1727.3,1892.6 1727.8,1894.1 1728.4,1896.1 1728.9,1893.4 1729.5,1895.1 1730.0,1895.9 1730.6,1897.9 1731.1,1897.3 1731.7,1899.1 1732.2,1899.2 1732.8,1900.4 1733.3,1902.3 1733.9,1903.5 1734.4,1901.5 1735.0,1902.2 1735.5,1904.4 1736.1,1906.6 1736.6,1905.3 1737.2,1907.4 1737.7,1906.5 1738.3,1906.4 1738.8,1907.9 1739.4,1907.8 1739.9,1908.6 1740.5,1907.1 1741.0,1910.1 1741.6,1911.0 1742.1,1914.8 1742.7,1912.3 1743.2,1912.9 1743.8,1914.1 1744.3,1914.4 1744.9,1914.3 1745.4,1915.3 1746.0,1912.7 1746.5,1914.5 1747.1,1914.5 1747.6,1915.7 1748.2,1914.7 1748.7,1917.5 1749.3,1917.2 1749.8,1918.6 1750.4,1918.6 1750.9,1919.3 1751.5,1920.3 1752.0,1918.8 1752.6,1918.3 1753.1,1919.8 1753.7,1919.4 1754.2,1920.3 1754.8,1920.3 1755.3,1919.2 1755.9,1920.5 1756.4,1920.8 1757.0,1921.9 1757.5,1922.6 1758.1,1923.7 1758.6,1923.3 1759.2,1925.5 1759.7,1925.7 1760.3,1924.3 1760.8,1924.7 1761.4,1924.4 1761.9,1925.7 1762.5,1925.5 1763.0,1926.4 1763.6,1927.8 1764.1,1928.4 1764.7,1927.3 1765.2,1925.9 1765.8,1926.8 1766.3,1926.8 1766.9,1925.7 1767.4,1926.7 1768.0,1928.3 1768.5,1927.7 1769.1,1927.4 1769.6,1927.9 1770.2,1927.9 1770.7,1928.5 1771.3,1926.6 1771.8,1928.2 1772.4,1928.0 1772.9,1928.9 1773.5,1929.3 1774.0,1928.8 1774.6,1927.7 1775.1,1929.3 1775.7,1930.8 1776.2,1931.0 1776.8,1931.5 1777.3,1931.3 1777.9,1931.6 1778.4,1931.2 1779.0,1932.8 1779.5,1930.6 1780.1,1931.5 1780.6,1931.4 1781.2,1932.1 1781.7,1932.8 1782.3,1933.9 1782.8,1933.4 1783.4,1933.5 1783.9,1934.0 1784.5,1933.8 1785.0,1933.8 1785.6,1932.0 1786.1,1932.2 1786.7,1933.2 1787.2,1932.7 1787.8,1932.3 1788.3,1933.8 1788.9,1932.6 1789.4,1933.6 1790.0,1933.5 1790.5,1932.9 1791.1,1935.7 1791.6,1933.0 1792.2,1933.9 1792.7,1934.9 1793.3,1936.5 1793.8,1936.1 1794.4,1934.0 1794.9,1935.0 1795.5,1934.2 1796.0,1933.6 1796.6,1934.9 1797.1,1934.6 1797.7,1933.9 1798.2,1934.9 1798.8,1934.8 1799.3,1933.0 1799.9,1935.4 1800.4,1934.6 1801.0,1934.1 1801.5,1935.9 1802.1,1935.2 1802.6,1935.3 1803.2,1935.0 1803.7,1933.9 1804.3,1934.6 1804.8,1934.1 1805.4,1933.8 1805.9,1933.9 1806.5,1935.3 1807.0,1935.9 1807.6,1933.8 1808.1,1936.8 1808.7,1936.0 1809.2,1936.0 1809.8,1934.5 1810.3,1935.1 1810.9,1934.9 1811.4,1932.9 1812.0,1935.0 1812.5,1936.1 1813.1,1933.5 1813.6,1932.7 1814.2,1933.7 1814.7,1935.3 1815.3,1935.2 1815.8,1934.1" fill="none" stroke="#f00" stroke-width="8.3" stroke-linejoin="round" stroke-linecap="butt"/>
<rect x="191.9" y="1927.4" width="4.2" height="18.8" rx="1.5" fill="#000"/>
<rect x="191.9" y="1962.2" width="4.2" height="18.8" rx="1.5" fill="#000"/>
<rect x="191.9" y="1997" width="4.2" height="18.8" rx="1.5" fill="#000"/>
<rect x="191.9" y="2031.7" width="4.2" height="18.8" rx="1.5" fill="#000"/>
<rect x="191.9" y="2066.5" width="4.2" height="18.8" rx="1.5" fill="#000"/>
<rect x="191.9" y="2101.3" width="4.2" height="18.8" rx="1.5" fill="#000"/>
<rect x="191.9" y="2136.1" width="4.2" height="18.8" rx="1.5" fill="#000"/>
<rect x="191.9" y="2170.9" width="4.2" height="18.8" rx="1.5" fill="#000"/>
<rect x="191.9" y="2205.6" width="4.2" height="18.8" rx="1.5" fill="#000"/>
<rect x="191.9" y="2240.4" width="4.2" height="18.8" rx="1.5" fill="#000"/>
<rect x="191.9" y="2275.2" width="4.2" height="18.8" rx="1.5" fill="#000"/>
<rect x="191.9" y="2310" width="4.2" height="18.8" rx="1.5" fill="#000"/>
<rect x="191.9" y="2344.8" width="4.2" height="18.8" rx="1.5" fill="#000"/>
<rect x="191.9" y="2379.5" width="4.2" height="18.8" rx="1.5" fill="#000"/>
<rect x="191.9" y="2414.3" width="4.2" height="18.8" rx="1.5" fill="#000"/>
<rect x="191.9" y="2449.1" width="4.2" height="18.8" rx="1.5" fill="#000"/>
<rect x="241.1" y="1931.4" width="5" height="18.8" rx="1.5" fill="#000"/>
<rect x="241.1" y="1966.2" width="5" height="18.8" rx="1.5" fill="#000"/>
<rect x="241.1" y="2001" width="5" height="18.8" rx="1.5" fill="#000"/>
<rect x="241.1" y="2035.7" width="5" height="18.8" rx="1.5" fill="#000"/>
<rect x="241.1" y="2070.5" width="5" height="18.8" rx="1.5" fill="#000"/>
<rect x="241.1" y="2105.3" width="5" height="18.8" rx="1.5" fill="#000"/>
<rect x="241.1" y="2140.1" width="5" height="18.8" rx="1.5" fill="#000"/>
<rect x="241.1" y="2174.9" width="5" height="18.8" rx="1.5" fill="#000"/>
<rect x="241.1" y="2209.6" width="5" height="18.8" rx="1.5" fill="#000"/>
<rect x="241.1" y="2244.4" width="5" height="18.8" rx="1.5" fill="#000"/>
<rect x="241.1" y="2279.2" width="5" height="18.8" rx="1.5" fill="#000"/>
<rect x="241.1" y="2314" width="5" height="18.8" rx="1.5" fill="#000"/>
<rect x="241.1" y="2348.8" width="5" height="18.8" rx="1.5" fill="#000"/>
<rect x="241.1" y="2383.5" width="5" height="18.8" rx="1.5" fill="#000"/>
<rect x="241.1" y="2418.3" width="5" height="18.8" rx="1.5" fill="#000"/>
<rect x="241.1" y="2453.1" width="5" height="15.9" rx="1.5" fill="#000"/>
<rect x="309.8" y="1896.6" width="4.3" height="18.8" rx="1.5" fill="#000"/>
<rect x="309.8" y="1931.4" width="4.3" height="18.8" rx="1.5" fill="#000"/>
<rect x="309.8" y="1966.2" width="4.3" height="18.8" rx="1.5" fill="#000"/>
<rect x="309.8" y="2001" width="4.3" height="18.8" rx="1.5" fill="#000"/>
<rect x="309.8" y="2035.7" width="4.3" height="18.8" rx="1.5" fill="#000"/>
<rect x="309.8" y="2070.5" width="4.3" height="18.8" rx="1.5" fill="#000"/>
<rect x="309.8" y="2105.3" width="4.3" height="18.8" rx="1.5" fill="#000"/>
<rect x="309.8" y="2140.1" width="4.3" height="18.8" rx="1.5" fill="#000"/>
<rect x="309.8" y="2174.9" width="4.3" height="18.8" rx="1.5" fill="#000"/>
<rect x="309.8" y="2209.6" width="4.3" height="18.8" rx="1.5" fill="#000"/>
<rect x="309.8" y="2244.4" width="4.3" height="18.8" rx="1.5" fill="#000"/>
<rect x="309.8" y="2279.2" width="4.3" height="18.8" rx="1.5" fill="#000"/>
<rect x="309.8" y="2314" width="4.3" height="18.8" rx="1.5" fill="#000"/>
<rect x="309.8" y="2348.8" width="4.3" height="18.8" rx="1.5" fill="#000"/>
<rect x="309.8" y="2383.5" width="4.3" height="18.8" rx="1.5" fill="#000"/>
<rect x="309.8" y="2418.3" width="4.3" height="18.8" rx="1.5" fill="#000"/>
<rect x="309.8" y="2453.1" width="4.3" height="15.9" rx="1.5" fill="#000"/>
<rect x="335.2" y="1930" width="4.9" height="18.2" rx="1.5" fill="#000"/>
<rect x="335.2" y="1964.2" width="4.9" height="18.8" rx="1.5" fill="#000"/>
<rect x="335.2" y="1999" width="4.9" height="18.8" rx="1.5" fill="#000"/>
<rect x="335.2" y="2033.7" width="4.9" height="18.8" rx="1.5" fill="#000"/>
<rect x="335.2" y="2068.5" width="4.9" height="18.8" rx="1.5" fill="#000"/>
<rect x="335.2" y="2103.3" width="4.9" height="18.8" rx="1.5" fill="#000"/>
<rect x="335.2" y="2138.1" width="4.9" height="18.8" rx="1.5" fill="#000"/>
<rect x="335.2" y="2172.9" width="4.9" height="18.8" rx="1.5" fill="#000"/>
<rect x="335.2" y="2207.6" width="4.9" height="18.8" rx="1.5" fill="#000"/>
<rect x="335.2" y="2242.4" width="4.9" height="18.8" rx="1.5" fill="#000"/>
<rect x="335.2" y="2277.2" width="4.9" height="18.8" rx="1.5" fill="#000"/>
<rect x="335.2" y="2312" width="4.9" height="18.8" rx="1.5" fill="#000"/>
<rect x="335.2" y="2346.8" width="4.9" height="18.8" rx="1.5" fill="#000"/>
<rect x="335.2" y="2381.5" width="4.9" height="18.8" rx="1.5" fill="#000"/>
<rect x="335.2" y="2416.3" width="4.9" height="18.8" rx="1.5" fill="#000"/>
<rect x="335.2" y="2451.1" width="4.9" height="17.9" rx="1.5" fill="#000"/>
<rect x="352" y="1930" width="4.2" height="18.8" rx="1.5" fill="#000"/>
<rect x="352" y="1964.8" width="4.2" height="18.8" rx="1.5" fill="#000"/>
<rect x="352" y="1999.6" width="4.2" height="18.8" rx="1.5" fill="#000"/>
<rect x="352" y="2034.3" width="4.2" height="18.8" rx="1.5" fill="#000"/>
<rect x="352" y="2069.1" width="4.2" height="18.8" rx="1.5" fill="#000"/>
<rect x="352" y="2103.9" width="4.2" height="18.8" rx="1.5" fill="#000"/>
<rect x="352" y="2138.7" width="4.2" height="18.8" rx="1.5" fill="#000"/>
<rect x="352" y="2173.5" width="4.2" height="18.8" rx="1.5" fill="#000"/>
<rect x="352" y="2208.2" width="4.2" height="18.8" rx="1.5" fill="#000"/>
<rect x="352" y="2243" width="4.2" height="18.8" rx="1.5" fill="#000"/>
<rect x="352" y="2277.8" width="4.2" height="18.8" rx="1.5" fill="#000"/>
<rect x="352" y="2312.6" width="4.2" height="18.8" rx="1.5" fill="#000"/>
<rect x="352" y="2347.4" width="4.2" height="18.8" rx="1.5" fill="#000"/>
<rect x="352" y="2382.1" width="4.2" height="18.8" rx="1.5" fill="#000"/>
<rect x="352" y="2416.9" width="4.2" height="18.8" rx="1.5" fill="#000"/>
<rect x="352" y="2451.7" width="4.2" height="17.3" rx="1.5" fill="#000"/>
<rect x="366" y="1766" width="4.2" height="10.9" rx="1.5" fill="#000"/>
<rect x="366" y="1792.9" width="4.2" height="18.8" rx="1.5" fill="#000"/>
<rect x="366" y="1827.7" width="4.2" height="18.8" rx="1.5" fill="#000"/>
<rect x="366" y="1862.4" width="4.2" height="18.8" rx="1.5" fill="#000"/>
<rect x="366" y="1897.2" width="4.2" height="18.8" rx="1.5" fill="#000"/>
<rect x="366" y="1932" width="4.2" height="18.8" rx="1.5" fill="#000"/>
<rect x="366" y="1966.8" width="4.2" height="18.8" rx="1.5" fill="#000"/>
<rect x="366" y="2001.6" width="4.2" height="18.8" rx="1.5" fill="#000"/>
<rect x="366" y="2036.3" width="4.2" height="18.8" rx="1.5" fill="#000"/>
<rect x="366" y="2071.1" width="4.2" height="18.8" rx="1.5" fill="#000"/>
<rect x="366" y="2105.9" width="4.2" height="18.8" rx="1.5" fill="#000"/>
<rect x="366" y="2140.7" width="4.2" height="18.8" rx="1.5" fill="#000"/>
<rect x="366" y="2175.5" width="4.2" height="18.8" rx="1.5" fill="#000"/>
<rect x="366" y="2210.2" width="4.2" height="18.8" rx="1.5" fill="#000"/>
<rect x="366" y="2245" width="4.2" height="18.8" rx="1.5" fill="#000"/>
<rect x="366" y="2279.8" width="4.2" height="18.8" rx="1.5" fill="#000"/>
<rect x="366" y="2314.6" width="4.2" height="18.8" rx="1.5" fill="#000"/>
<rect x="366" y="2349.4" width="4.2" height="18.8" rx="1.5" fill="#000"/>
<rect x="366" y="2384.1" width="4.2" height="18.8" rx="1.5" fill="#000"/>
<rect x="366" y="2418.9" width="4.2" height="18.8" rx="1.5" fill="#000"/>
<rect x="366" y="2453.7" width="4.2" height="15.3" rx="1.5" fill="#000"/>
<rect x="390" y="1940" width="5" height="10.8" rx="1.5" fill="#000"/>
<rect x="390" y="1966.8" width="5" height="18.8" rx="1.5" fill="#000"/>
<rect x="390" y="2001.6" width="5" height="18.8" rx="1.5" fill="#000"/>
<rect x="390" y="2036.3" width="5" height="18.8" rx="1.5" fill="#000"/>
<rect x="390" y="2071.1" width="5" height="18.8" rx="1.5" fill="#000"/>
<rect x="390" y="2105.9" width="5" height="18.8" rx="1.5" fill="#000"/>
<rect x="390" y="2140.7" width="5" height="18.8" rx="1.5" fill="#000"/>
<rect x="390" y="2175.5" width="5" height="18.8" rx="1.5" fill="#000"/>
<rect x="390" y="2210.2" width="5" height="18.8" rx="1.5" fill="#000"/>
<rect x="390" y="2245" width="5" height="18.8" rx="1.5" fill="#000"/>
<rect x="390" y="2279.8" width="5" height="18.8" rx="1.5" fill="#000"/>
<rect x="390" y="2314.6" width="5" height="18.8" rx="1.5" fill="#000"/>
<rect x="390" y="2349.4" width="5" height="18.8" rx="1.5" fill="#000"/>
<rect x="390" y="2384.1" width="5" height="18.8" rx="1.5" fill="#000"/>
<rect x="390" y="2418.9" width="5" height="18.8" rx="1.5" fill="#000"/>
<rect x="390" y="2453.7" width="5" height="15.3" rx="1.5" fill="#000"/>
<rect x="419.3" y="1942" width="4.7" height="8.8" rx="1.5" fill="#000"/>
<rect x="419.3" y="1966.8" width="4.7" height="18.8" rx="1.5" fill="#000"/>
<rect x="419.3" y="2001.6" width="4.7" height="18.8" rx="1.5" fill="#000"/>
<rect x="419.3" y="2036.3" width="4.7" height="18.8" rx="1.5" fill="#000"/>
<rect x="419.3" y="2071.1" width="4.7" height="18.8" rx="1.5" fill="#000"/>
<rect x="419.3" y="2105.9" width="4.7" height="18.8" rx="1.5" fill="#000"/>
<rect x="419.3" y="2140.7" width="4.7" height="18.8" rx="1.5" fill="#000"/>
<rect x="419.3" y="2175.5" width="4.7" height="18.8" rx="1.5" fill="#000"/>
<rect x="419.3" y="2210.2" width="4.7" height="18.8" rx="1.5" fill="#000"/>
<rect x="419.3" y="2245" width="4.7" height="18.8" rx="1.5" fill="#000"/>
<rect x="419.3" y="2279.8" width="4.7" height="18.8" rx="1.5" fill="#000"/>
<rect x="419.3" y="2314.6" width="4.7" height="18.8" rx="1.5" fill="#000"/>
<rect x="419.3" y="2349.4" width="4.7" height="18.8" rx="1.5" fill="#000"/>
<rect x="419.3" y="2384.1" width="4.7" height="18.8" rx="1.5" fill="#000"/>
<rect x="419.3" y="2418.9" width="4.7" height="18.8" rx="1.5" fill="#000"/>
<rect x="419.3" y="2453.7" width="4.7" height="15.3" rx="1.5" fill="#000"/>
<rect x="443.9" y="1943.5" width="5.3" height="11.7" rx="1.5" fill="#000"/>
<rect x="443.9" y="1971.2" width="5.3" height="18.8" rx="1.5" fill="#000"/>
<rect x="443.9" y="2006" width="5.3" height="18.8" rx="1.5" fill="#000"/>
<rect x="443.9" y="2040.7" width="5.3" height="18.8" rx="1.5" fill="#000"/>
<rect x="443.9" y="2075.5" width="5.3" height="18.8" rx="1.5" fill="#000"/>
<rect x="443.9" y="2110.3" width="5.3" height="18.8" rx="1.5" fill="#000"/>
<rect x="443.9" y="2145.1" width="5.3" height="18.8" rx="1.5" fill="#000"/>
<rect x="443.9" y="2179.9" width="5.3" height="18.8" rx="1.5" fill="#000"/>
<rect x="443.9" y="2214.6" width="5.3" height="18.8" rx="1.5" fill="#000"/>
<rect x="443.9" y="2249.4" width="5.3" height="18.8" rx="1.5" fill="#000"/>
<rect x="443.9" y="2284.2" width="5.3" height="18.8" rx="1.5" fill="#000"/>
<rect x="443.9" y="2319" width="5.3" height="18.8" rx="1.5" fill="#000"/>
<rect x="443.9" y="2353.8" width="5.3" height="18.8" rx="1.5" fill="#000"/>
<rect x="443.9" y="2388.5" width="5.3" height="18.8" rx="1.5" fill="#000"/>
<rect x="443.9" y="2423.3" width="5.3" height="18.8" rx="1.5" fill="#000"/>
<rect x="443.9" y="2458.1" width="5.3" height="18.8" rx="1.5" fill="#000"/>
<rect x="443.9" y="2492.9" width="5.3" height="16.6" rx="1.5" fill="#000"/>
<rect x="482.8" y="1944" width="5.3" height="9.2" rx="1.5" fill="#000"/>
<rect x="482.8" y="1969.2" width="5.3" height="18.8" rx="1.5" fill="#000"/>
<rect x="482.8" y="2004" width="5.3" height="18.8" rx="1.5" fill="#000"/>
<rect x="482.8" y="2038.7" width="5.3" height="18.8" rx="1.5" fill="#000"/>
<rect x="482.8" y="2073.5" width="5.3" height="18.8" rx="1.5" fill="#000"/>
<rect x="482.8" y="2108.3" width="5.3" height="18.8" rx="1.5" fill="#000"/>
<rect x="482.8" y="2143.1" width="5.3" height="18.8" rx="1.5" fill="#000"/>
<rect x="482.8" y="2177.9" width="5.3" height="18.8" rx="1.5" fill="#000"/>
<rect x="482.8" y="2212.6" width="5.3" height="18.8" rx="1.5" fill="#000"/>
<rect x="482.8" y="2247.4" width="5.3" height="18.8" rx="1.5" fill="#000"/>
<rect x="482.8" y="2282.2" width="5.3" height="18.8" rx="1.5" fill="#000"/>
<rect x="482.8" y="2317" width="5.3" height="18.8" rx="1.5" fill="#000"/>
<rect x="482.8" y="2351.8" width="5.3" height="18.8" rx="1.5" fill="#000"/>
<rect x="482.8" y="2386.5" width="5.3" height="18.8" rx="1.5" fill="#000"/>
<rect x="482.8" y="2421.3" width="5.3" height="18.8" rx="1.5" fill="#000"/>
<rect x="482.8" y="2456.1" width="5.3" height="18.8" rx="1.5" fill="#000"/>
<rect x="747" y="1865.7" width="5" height="18.8" rx="1.5" fill="#000"/>
<rect x="747" y="1900.5" width="5" height="18.8" rx="1.5" fill="#000"/>
<rect x="747" y="1935.3" width="5" height="18.8" rx="1.5" fill="#000"/>
<rect x="747" y="1970.1" width="5" height="18.8" rx="1.5" fill="#000"/>
<rect x="747" y="2004.9" width="5" height="18.8" rx="1.5" fill="#000"/>
<rect x="747" y="2039.6" width="5" height="18.8" rx="1.5" fill="#000"/>
<rect x="747" y="2074.4" width="5" height="18.8" rx="1.5" fill="#000"/>
<rect x="747" y="2109.2" width="5" height="18.8" rx="1.5" fill="#000"/>
<rect x="747" y="2144" width="5" height="18.8" rx="1.5" fill="#000"/>
<rect x="747" y="2178.8" width="5" height="18.8" rx="1.5" fill="#000"/>
<rect x="747" y="2213.5" width="5" height="18.8" rx="1.5" fill="#000"/>
<rect x="747" y="2248.3" width="5" height="18.8" rx="1.5" fill="#000"/>
<rect x="747" y="2283.1" width="5" height="18.8" rx="1.5" fill="#000"/>
<rect x="747" y="2317.9" width="5" height="18.8" rx="1.5" fill="#000"/>
<rect x="747" y="2352.7" width="5" height="18.8" rx="1.5" fill="#000"/>
<rect x="747" y="2387.4" width="5" height="18.8" rx="1.5" fill="#000"/>
<rect x="747" y="2422.2" width="5" height="18.8" rx="1.5" fill="#000"/>
<rect x="747" y="2457" width="5" height="12" rx="1.5" fill="#000"/>
<line x1="193.1" y1="1850.2" x2="193.1" y2="1892.6" stroke="#000" stroke-width="3.7" stroke-linecap="butt"/>
<polygon points="193.1,1916.6 186.4,1890.6 199.8,1890.6" fill="#000"/>
<line x1="281" y1="1849" x2="294.2" y2="1878" stroke="#000" stroke-width="3.7" stroke-linecap="butt"/>
<polygon points="304.1,1899.8 287.2,1878.9 299.4,1873.4" fill="#000"/>
<line x1="324.4" y1="1745" x2="333.3" y2="1892.6" stroke="#000" stroke-width="3.7" stroke-linecap="butt"/>
<polygon points="334.7,1916.6 326.5,1891 339.8,1890.2" fill="#000"/>
<line x1="348.5" y1="1659.7" x2="350.3" y2="1906.4" stroke="#000" stroke-width="3.7" stroke-linecap="butt"/>
<polygon points="350.5,1930.4 343.6,1904.5 357,1904.4" fill="#000"/>
<line x1="395.1" y1="1844.7" x2="395.1" y2="1912.6" stroke="#000" stroke-width="3.7" stroke-linecap="butt"/>
<polygon points="395.1,1936.6 388.4,1910.6 401.8,1910.6" fill="#000"/>
<line x1="477.8" y1="1745" x2="428.6" y2="1915.3" stroke="#000" stroke-width="3.7" stroke-linecap="butt"/>
<polygon points="421.9,1938.4 422.7,1911.6 435.6,1915.3" fill="#000"/>
<line x1="530.4" y1="1739.7" x2="456.3" y2="1917" stroke="#000" stroke-width="3.7" stroke-linecap="butt"/>
<polygon points="447,1939.1 450.9,1912.5 463.2,1917.7" fill="#000"/>
<text transform="translate(322.9 1628.9) scale(1 1.03)" font-size="43.5">A<tspan font-size="25.5" dy="17.5">1T</tspan></text>
<text transform="translate(208.9 1712.9) scale(1 1.03)" font-size="43.5">E<tspan font-size="25.5" dy="16">2H</tspan><tspan dy="-16">-E</tspan><tspan font-size="25.5" dy="18.5">2L</tspan></text>
<text transform="translate(353.2 1753.7) scale(1 1.03)" font-size="43.5">E<tspan font-size="25.5" dy="17.5">1T</tspan></text>
<text transform="translate(435.2 1719.6) scale(1 1.03)" font-size="43.5">B<tspan font-size="25.5" dy="17.5">2H</tspan></text>
<text transform="translate(519.6 1721.7) scale(1 1.03)" font-size="43.5">A<tspan font-size="25.5" dy="17.5">1L</tspan></text>
<text transform="translate(175 1838.7) scale(1 1.03)" font-size="43.5">E<tspan font-size="25.5" dy="17.5">2L</tspan></text>
<text transform="translate(244 1842.7) scale(1 1.03)" font-size="43.5">3E<tspan font-size="25.5" dy="17.5">2L</tspan></text>
<text transform="translate(380.1 1838.7) scale(1 1.03)" font-size="43.5">E<tspan font-size="25.5" dy="17.5">2H</tspan></text>
<text transform="translate(468.5 1929.6) scale(1 1.03)" font-size="43.5">E<tspan font-size="25.5" dy="17.5" dx="2">1L</tspan></text>
<text transform="translate(225.4 1946) scale(1 1.03)" font-size="79" font-weight="bold">*</text>
<text transform="translate(257.5 1934.6) scale(1 1.03)" font-size="37.5">1</text>
<text transform="translate(730.3 1875.2) scale(1 1.03)" font-size="79" font-weight="bold">*</text>
<text transform="translate(762.7 1863.9) scale(1 1.03)" font-size="38">2</text>
<text transform="translate(821 1579.7) scale(1 1.03)" font-size="51">D</text>
<text transform="translate(979.5 1583) scale(1 1.03)" font-size="51">G</text>
<text transform="translate(1541 1869.7) scale(1 1.03)" font-size="52">2D</text>
<text transform="translate(1653.5 1855.6) scale(1 1.03)" font-size="52">D+G</text>
<line x1="1316.5" y1="1516" x2="1454" y2="1516" stroke="#f00" stroke-width="8.2" stroke-linecap="round"/>
<line x1="1316.5" y1="1591.5" x2="1454" y2="1591.5" stroke="#000" stroke-width="8.2" stroke-linecap="round"/>
<text transform="translate(1471 1536.4) scale(1 1.03)" font-size="62">RGO/ZNWs</text>
<text transform="translate(1471 1612.3) scale(1 1.03)" font-size="62">Pure ZNWs</text>
</g>
</svg></body></html>
